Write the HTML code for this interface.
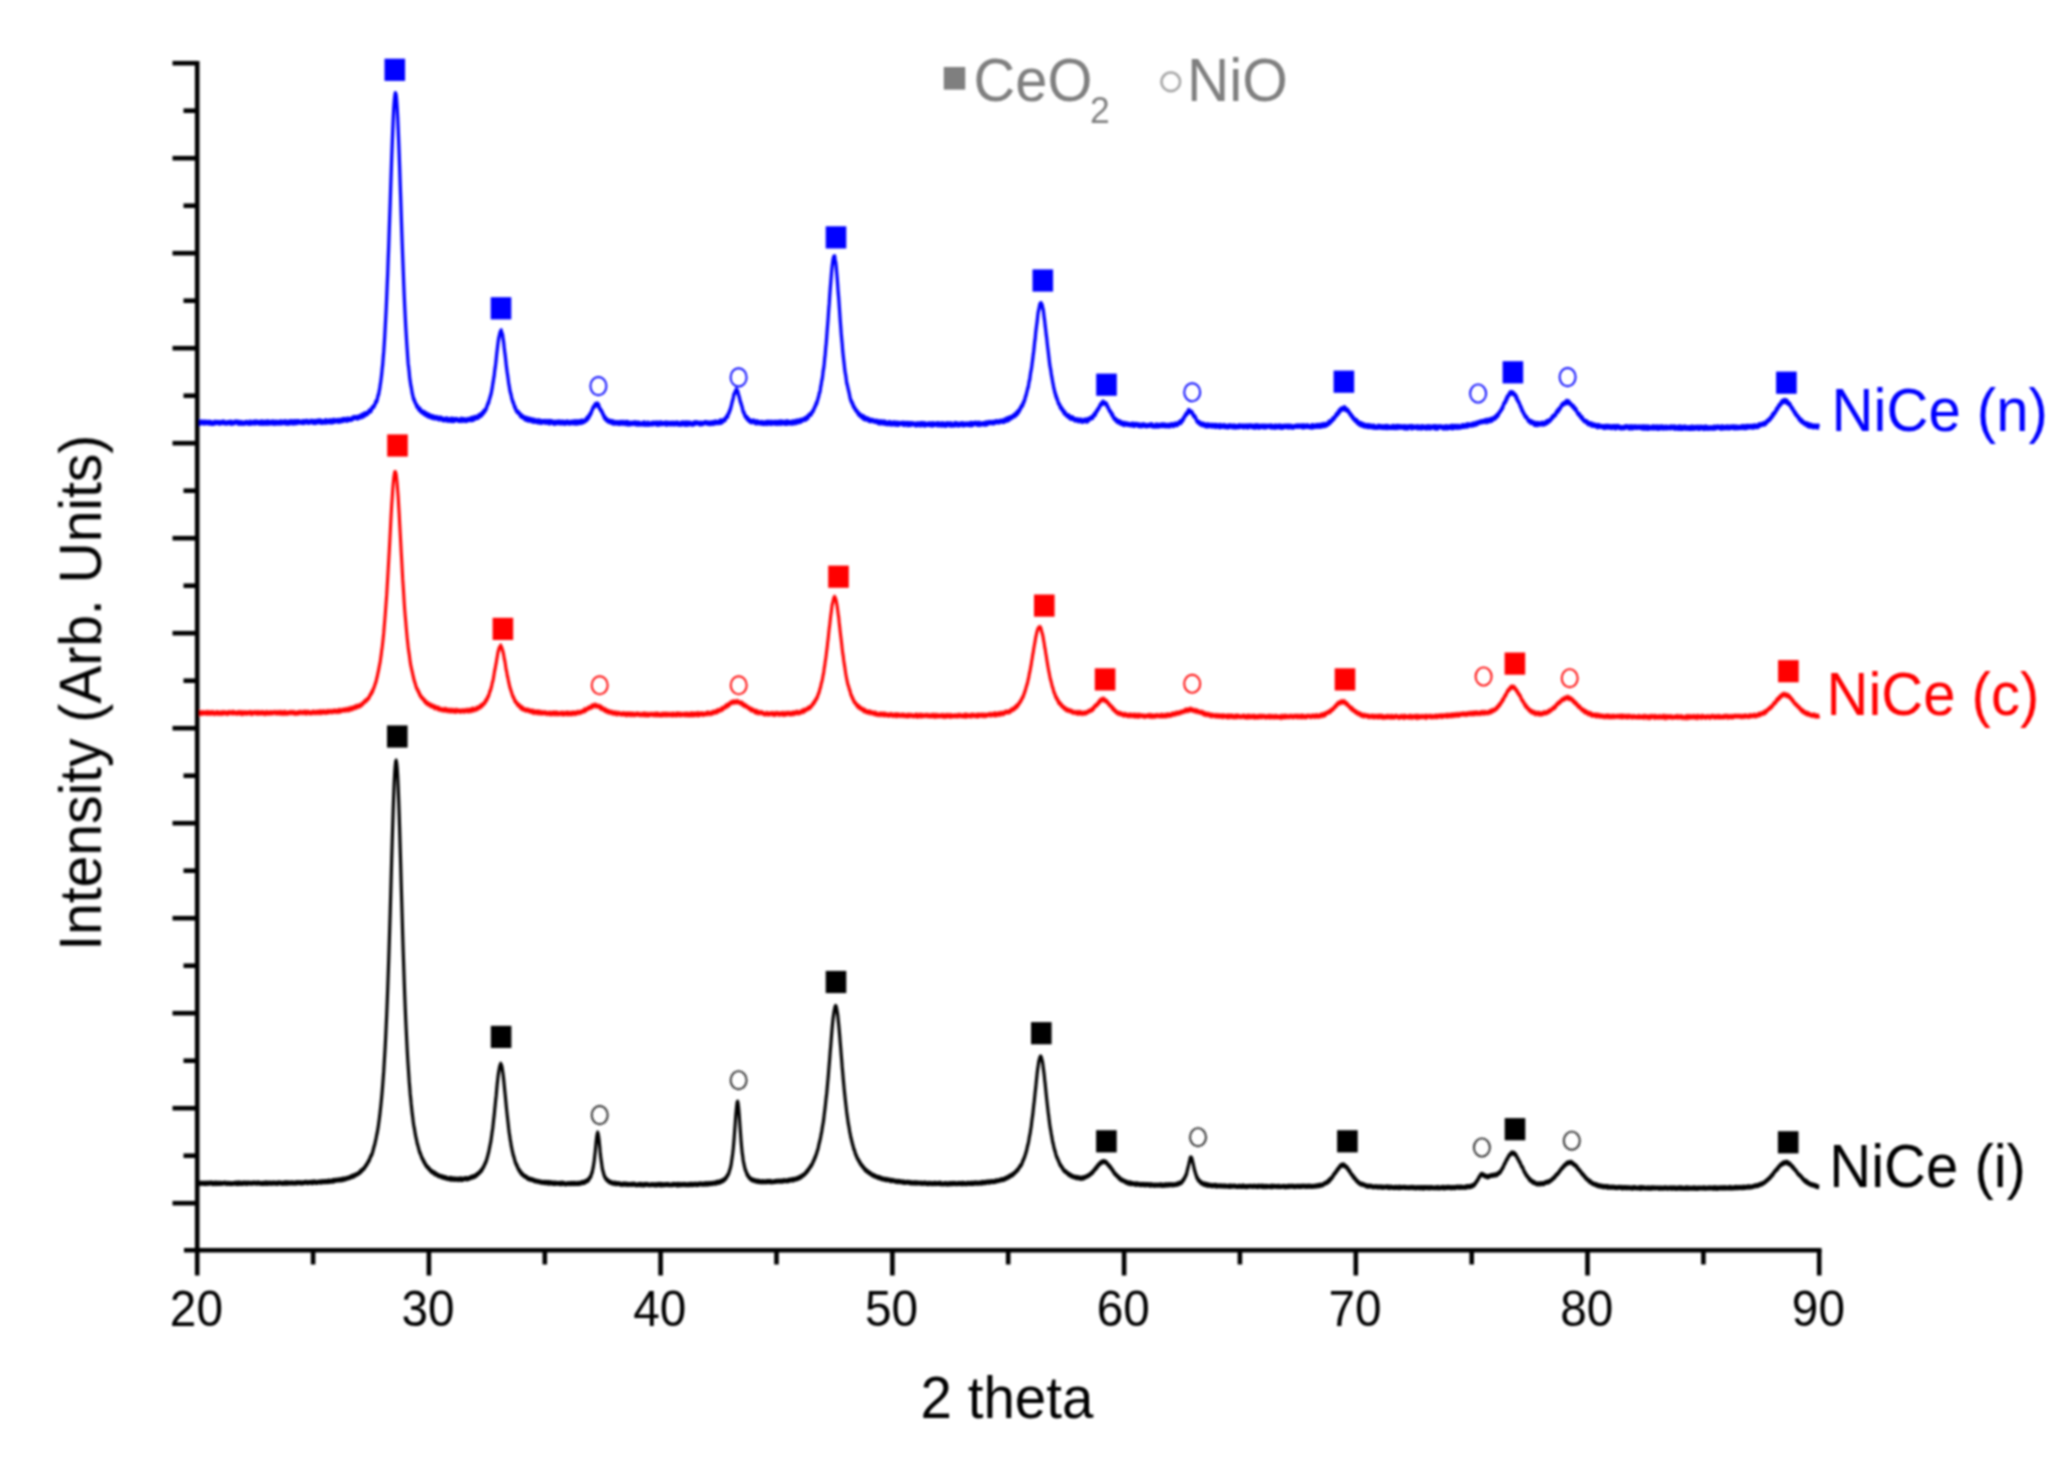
<!DOCTYPE html><html><head><meta charset="utf-8"><title>XRD</title><style>html,body{margin:0;padding:0;background:#fff}svg{display:block}text{font-family:"Liberation Sans",sans-serif}</style></head><body>
<svg width="2070" height="1473" viewBox="0 0 2070 1473">
<defs><filter id="b" filterUnits="userSpaceOnUse" x="0" y="0" width="2070" height="1473"><feGaussianBlur stdDeviation="1.0"/></filter></defs>
<rect width="2070" height="1473" fill="#fff"/>
<g filter="url(#b)">
<path transform="scale(1 1.50)" d="M197.2 281.90 L197.7 282.09 L198.2 281.59 L198.7 281.85 L199.2 282.31 L199.7 282.31 L200.2 281.39 L200.7 281.49 L201.2 281.30 L201.7 281.77 L202.2 281.27 L202.7 281.79 L203.2 282.02 L203.7 281.57 L204.2 282.05 L204.7 281.95 L205.2 281.27 L205.7 281.91 L206.2 281.55 L206.7 281.74 L207.2 281.58 L207.7 282.07 L208.2 281.77 L208.7 281.42 L209.2 281.89 L209.7 282.17 L210.2 281.60 L210.7 281.50 L211.2 281.70 L211.7 282.36 L212.2 282.41 L212.7 282.04 L213.2 282.32 L213.7 282.25 L214.2 281.69 L214.7 281.34 L215.2 282.02 L215.7 281.90 L216.2 281.67 L216.7 281.50 L217.2 281.72 L217.7 281.79 L218.2 281.55 L218.7 281.58 L219.2 281.78 L219.7 282.26 L220.2 281.93 L220.7 281.57 L221.2 281.56 L221.7 281.77 L222.2 281.47 L222.7 281.47 L223.2 281.84 L223.7 281.33 L224.2 281.81 L224.7 281.66 L225.2 282.07 L225.7 282.12 L226.2 282.05 L226.7 282.05 L227.2 281.67 L227.7 282.02 L228.2 281.63 L228.7 281.91 L229.2 281.61 L229.7 281.75 L230.2 281.29 L230.7 281.51 L231.2 282.38 L231.7 281.49 L232.2 282.05 L232.7 282.00 L233.2 282.08 L233.7 281.78 L234.2 281.93 L234.7 281.29 L235.2 281.30 L235.7 281.45 L236.2 281.39 L236.7 281.33 L237.2 281.36 L237.7 281.87 L238.2 281.43 L238.7 282.35 L239.2 282.02 L239.7 281.85 L240.2 282.05 L240.7 281.52 L241.2 282.31 L241.7 282.21 L242.2 282.07 L242.7 281.77 L243.2 282.21 L243.7 282.09 L244.2 281.99 L244.7 282.29 L245.2 281.95 L245.7 281.63 L246.2 281.85 L246.7 281.43 L247.2 281.42 L247.7 282.06 L248.2 282.13 L248.7 282.35 L249.2 282.21 L249.7 281.84 L250.2 281.29 L250.7 281.77 L251.2 282.29 L251.7 282.12 L252.2 281.76 L252.7 281.72 L253.2 281.44 L253.7 281.39 L254.2 281.26 L254.7 282.24 L255.2 281.94 L255.7 281.34 L256.2 281.66 L256.7 281.22 L257.2 281.41 L257.7 282.04 L258.2 281.94 L258.7 281.73 L259.2 281.49 L259.7 281.94 L260.2 282.30 L260.7 281.67 L261.2 281.23 L261.7 281.22 L262.2 281.24 L262.7 282.30 L263.2 281.79 L263.7 282.14 L264.2 281.34 L264.7 281.45 L265.2 281.96 L265.7 282.21 L266.2 281.54 L266.7 281.21 L267.2 282.16 L267.7 281.47 L268.2 282.01 L268.7 281.31 L269.2 281.95 L269.7 282.12 L270.2 281.99 L270.7 281.54 L271.2 281.98 L271.7 281.27 L272.2 281.48 L272.7 281.60 L273.2 282.15 L273.7 281.28 L274.2 282.15 L274.7 282.05 L275.2 282.25 L275.7 281.53 L276.2 281.33 L276.7 281.37 L277.2 282.07 L277.7 282.23 L278.2 281.91 L278.7 281.65 L279.2 281.41 L279.7 282.06 L280.2 282.11 L280.7 281.17 L281.2 281.31 L281.7 282.05 L282.2 282.06 L282.7 281.42 L283.2 281.37 L283.7 281.55 L284.2 281.68 L284.7 281.14 L285.2 282.03 L285.7 281.66 L286.2 281.95 L286.7 281.29 L287.2 282.17 L287.7 281.91 L288.2 281.41 L288.7 282.14 L289.2 281.83 L289.7 282.00 L290.2 281.04 L290.7 281.05 L291.2 281.87 L291.7 281.34 L292.2 281.59 L292.7 281.15 L293.2 282.13 L293.7 281.56 L294.2 281.94 L294.7 281.03 L295.2 281.51 L295.7 281.01 L296.2 281.99 L296.7 281.46 L297.2 281.00 L297.7 281.00 L298.2 281.55 L298.7 280.99 L299.2 281.11 L299.7 281.41 L300.2 281.48 L300.7 281.58 L301.2 281.61 L301.7 281.31 L302.2 281.60 L302.7 281.04 L303.2 281.17 L303.7 281.80 L304.2 281.01 L304.7 281.09 L305.2 281.11 L305.7 281.38 L306.2 280.80 L306.7 280.83 L307.2 281.34 L307.7 280.97 L308.2 281.59 L308.7 281.72 L309.2 281.45 L309.7 281.58 L310.2 281.21 L310.7 280.78 L311.2 281.25 L311.7 281.16 L312.2 281.42 L312.7 280.85 L313.2 280.96 L313.7 281.65 L314.2 280.98 L314.7 281.15 L315.2 281.77 L315.7 280.96 L316.2 280.80 L316.7 281.45 L317.2 281.28 L317.7 281.32 L318.2 280.63 L318.7 281.06 L319.2 280.56 L319.7 280.84 L320.2 281.37 L320.7 280.59 L321.2 280.85 L321.7 281.67 L322.2 281.64 L322.7 281.04 L323.2 281.33 L323.7 281.19 L324.2 280.97 L324.7 281.43 L325.2 280.59 L325.7 281.36 L326.2 280.40 L326.7 281.38 L327.2 281.13 L327.7 280.84 L328.2 281.09 L328.7 280.82 L329.2 281.18 L329.7 280.36 L330.2 280.82 L330.7 281.23 L331.2 281.28 L331.7 280.41 L332.2 280.43 L332.7 281.19 L333.2 280.49 L333.7 280.13 L334.2 280.89 L334.7 280.51 L335.2 280.87 L335.7 280.53 L336.2 280.53 L336.7 280.41 L337.2 280.23 L337.7 280.93 L338.2 280.62 L338.7 280.74 L339.2 280.84 L339.7 280.03 L340.2 280.80 L340.7 280.70 L341.2 280.24 L341.7 280.28 L342.2 279.70 L342.7 280.44 L343.2 279.69 L343.7 280.09 L344.2 279.56 L344.7 279.45 L345.2 280.05 L345.7 279.87 L346.2 280.04 L346.7 280.14 L347.2 280.32 L347.7 279.19 L348.2 279.80 L348.7 279.68 L349.2 279.71 L349.7 279.53 L350.2 279.49 L350.7 279.80 L351.2 279.24 L351.7 279.27 L352.2 279.40 L352.7 278.61 L353.2 278.95 L353.7 278.48 L354.2 278.45 L354.7 278.20 L355.2 278.37 L355.7 278.30 L356.2 278.57 L356.7 278.54 L357.2 278.75 L357.7 278.25 L358.2 278.64 L358.7 277.94 L359.2 278.25 L359.7 277.90 L360.2 277.87 L360.7 277.32 L361.2 277.99 L361.7 277.66 L362.2 276.77 L362.7 277.10 L363.2 277.49 L363.7 276.20 L364.2 276.34 L364.7 276.69 L365.2 275.67 L365.7 276.32 L366.2 275.92 L366.7 275.90 L367.2 275.46 L367.7 275.70 L368.2 274.74 L368.7 274.76 L369.2 273.86 L369.7 274.18 L370.2 273.71 L370.7 274.07 L371.2 273.68 L371.7 272.34 L372.2 271.83 L372.7 271.51 L373.2 271.14 L373.7 271.29 L374.2 270.54 L374.7 269.94 L375.2 269.22 L375.7 267.96 L376.2 267.64 L376.7 267.50 L377.2 266.32 L377.7 264.93 L378.2 263.26 L378.7 262.76 L379.2 260.62 L379.7 259.11 L380.2 256.64 L380.7 254.57 L381.2 252.09 L381.7 249.34 L382.2 245.75 L382.7 242.99 L383.2 238.48 L383.7 234.64 L384.2 229.85 L384.7 224.64 L385.2 218.36 L385.7 212.05 L386.2 205.78 L386.7 197.99 L387.2 189.85 L387.7 182.41 L388.2 172.54 L388.7 164.39 L389.2 154.13 L389.7 144.43 L390.2 135.18 L390.7 124.51 L391.2 114.93 L391.7 104.93 L392.2 96.34 L392.7 87.60 L393.2 79.71 L393.7 72.75 L394.2 67.95 L394.7 64.50 L395.2 62.33 L395.7 62.45 L396.2 63.64 L396.7 67.26 L397.2 72.14 L397.7 78.54 L398.2 86.03 L398.7 94.36 L399.2 103.05 L399.7 112.66 L400.2 123.03 L400.7 132.43 L401.2 142.87 L401.7 153.02 L402.2 162.54 L402.7 171.37 L403.2 179.95 L403.7 188.77 L404.2 196.80 L404.7 204.06 L405.2 210.77 L405.7 217.32 L406.2 222.77 L406.7 228.41 L407.2 233.15 L407.7 238.22 L408.2 242.58 L408.7 245.21 L409.2 248.28 L409.7 252.01 L410.2 254.10 L410.7 256.56 L411.2 258.04 L411.7 259.96 L412.2 262.17 L412.7 263.46 L413.2 265.01 L413.7 266.25 L414.2 266.52 L414.7 267.72 L415.2 268.30 L415.7 269.09 L416.2 269.61 L416.7 270.90 L417.2 271.02 L417.7 270.94 L418.2 272.07 L418.7 272.82 L419.2 273.13 L419.7 273.09 L420.2 272.79 L420.7 274.06 L421.2 274.52 L421.7 274.57 L422.2 274.47 L422.7 274.67 L423.2 275.35 L423.7 274.82 L424.2 275.85 L424.7 275.72 L425.2 275.40 L425.7 276.50 L426.2 276.16 L426.7 275.99 L427.2 276.23 L427.7 277.21 L428.2 276.54 L428.7 277.42 L429.2 277.58 L429.7 276.85 L430.2 277.40 L430.7 277.94 L431.2 277.70 L431.7 278.26 L432.2 277.78 L432.7 278.18 L433.2 277.78 L433.7 278.63 L434.2 278.72 L434.7 278.48 L435.2 278.27 L435.7 278.38 L436.2 278.75 L436.7 278.27 L437.2 278.80 L437.7 278.61 L438.2 278.73 L438.7 278.77 L439.2 279.45 L439.7 278.71 L440.2 278.84 L440.7 278.81 L441.2 278.68 L441.7 279.23 L442.2 279.78 L442.7 279.89 L443.2 279.44 L443.7 279.40 L444.2 279.98 L444.7 279.61 L445.2 279.67 L445.7 279.83 L446.2 279.18 L446.7 280.12 L447.2 279.27 L447.7 279.81 L448.2 280.31 L448.7 279.89 L449.2 279.66 L449.7 280.15 L450.2 280.38 L450.7 280.06 L451.2 279.41 L451.7 280.41 L452.2 279.40 L452.7 280.20 L453.2 280.48 L453.7 279.61 L454.2 280.06 L454.7 280.28 L455.2 279.66 L455.7 279.75 L456.2 279.54 L456.7 279.66 L457.2 279.61 L457.7 279.82 L458.2 280.37 L458.7 280.30 L459.2 280.38 L459.7 280.25 L460.2 280.41 L460.7 279.63 L461.2 280.11 L461.7 279.46 L462.2 280.01 L462.7 280.42 L463.2 279.95 L463.7 279.72 L464.2 279.68 L464.7 279.80 L465.2 280.40 L465.7 280.44 L466.2 280.14 L466.7 280.39 L467.2 280.09 L467.7 279.48 L468.2 279.62 L468.7 279.92 L469.2 279.85 L469.7 279.76 L470.2 279.48 L470.7 279.00 L471.2 279.92 L471.7 278.96 L472.2 279.80 L472.7 278.70 L473.2 279.64 L473.7 278.82 L474.2 279.24 L474.7 278.18 L475.2 278.59 L475.7 278.23 L476.2 278.64 L476.7 278.46 L477.2 278.07 L477.7 278.20 L478.2 278.36 L478.7 277.11 L479.2 277.48 L479.7 277.40 L480.2 277.12 L480.7 276.42 L481.2 276.89 L481.7 275.84 L482.2 276.25 L482.7 275.46 L483.2 274.70 L483.7 275.12 L484.2 273.79 L484.7 274.18 L485.2 273.44 L485.7 273.22 L486.2 272.52 L486.7 271.38 L487.2 270.34 L487.7 269.71 L488.2 268.53 L488.7 268.38 L489.2 266.67 L489.7 265.66 L490.2 264.51 L490.7 263.36 L491.2 262.22 L491.7 260.33 L492.2 258.66 L492.7 256.28 L493.2 254.52 L493.7 252.16 L494.2 250.43 L494.7 247.05 L495.2 245.11 L495.7 242.44 L496.2 239.35 L496.7 235.90 L497.2 233.27 L497.7 230.46 L498.2 227.87 L498.7 225.50 L499.2 224.33 L499.7 222.53 L500.2 221.57 L500.7 220.83 L501.2 220.46 L501.7 221.82 L502.2 222.47 L502.7 223.80 L503.2 226.55 L503.7 228.43 L504.2 231.78 L504.7 234.50 L505.2 236.86 L505.7 239.97 L506.2 243.13 L506.7 245.84 L507.2 248.31 L507.7 250.43 L508.2 252.91 L508.7 255.54 L509.2 257.28 L509.7 259.47 L510.2 261.15 L510.7 262.34 L511.2 263.48 L511.7 265.51 L512.2 266.34 L512.7 267.71 L513.2 268.20 L513.7 269.16 L514.2 270.35 L514.7 271.43 L515.2 271.48 L515.7 272.93 L516.2 273.63 L516.7 273.98 L517.2 274.58 L517.7 274.44 L518.2 274.71 L518.7 275.39 L519.2 275.52 L519.7 276.22 L520.2 276.95 L520.7 276.67 L521.2 277.64 L521.7 277.41 L522.2 277.31 L522.7 278.11 L523.2 278.07 L523.7 278.14 L524.2 278.54 L524.7 279.28 L525.2 279.16 L525.7 278.76 L526.2 279.66 L526.7 278.90 L527.2 279.29 L527.7 279.37 L528.2 280.21 L528.7 279.14 L529.2 280.01 L529.7 279.94 L530.2 279.61 L530.7 280.27 L531.2 280.55 L531.7 280.58 L532.2 279.82 L532.7 280.75 L533.2 280.27 L533.7 280.94 L534.2 280.65 L534.7 280.13 L535.2 280.98 L535.7 280.81 L536.2 280.73 L536.7 281.00 L537.2 280.81 L537.7 280.36 L538.2 281.45 L538.7 280.74 L539.2 280.77 L539.7 280.53 L540.2 281.36 L540.7 281.62 L541.2 281.12 L541.7 281.57 L542.2 281.01 L542.7 281.11 L543.2 281.02 L543.7 281.05 L544.2 281.39 L544.7 281.13 L545.2 280.84 L545.7 281.62 L546.2 281.18 L546.7 281.30 L547.2 281.07 L547.7 280.92 L548.2 281.67 L548.7 281.40 L549.2 282.03 L549.7 280.95 L550.2 281.93 L550.7 280.98 L551.2 281.18 L551.7 281.00 L552.2 281.61 L552.7 281.43 L553.2 281.40 L553.7 282.20 L554.2 281.73 L554.7 282.16 L555.2 282.12 L555.7 281.47 L556.2 281.86 L556.7 281.32 L557.2 281.53 L557.7 281.92 L558.2 281.79 L558.7 281.21 L559.2 281.21 L559.7 282.05 L560.2 281.97 L560.7 281.91 L561.2 281.40 L561.7 282.08 L562.2 281.83 L562.7 281.32 L563.2 281.35 L563.7 281.89 L564.2 282.33 L564.7 281.86 L565.2 281.51 L565.7 282.01 L566.2 281.40 L566.7 281.92 L567.2 281.65 L567.7 281.19 L568.2 281.77 L568.7 281.75 L569.2 282.23 L569.7 281.99 L570.2 281.49 L570.7 281.90 L571.2 281.42 L571.7 281.89 L572.2 281.82 L572.7 281.83 L573.2 281.28 L573.7 281.92 L574.2 281.70 L574.7 281.94 L575.2 281.08 L575.7 281.89 L576.2 282.13 L576.7 281.68 L577.2 281.12 L577.7 282.03 L578.2 281.57 L578.7 281.20 L579.2 281.58 L579.7 281.82 L580.2 280.88 L580.7 281.37 L581.2 281.39 L581.7 281.68 L582.2 280.53 L582.7 281.00 L583.2 281.17 L583.7 280.95 L584.2 281.05 L584.7 280.64 L585.2 280.41 L585.7 280.16 L586.2 279.37 L586.7 279.91 L587.2 279.17 L587.7 278.20 L588.2 278.75 L588.7 278.13 L589.2 277.59 L589.7 276.31 L590.2 276.51 L590.7 275.44 L591.2 275.35 L591.7 273.87 L592.2 273.38 L592.7 272.39 L593.2 271.60 L593.7 271.30 L594.2 271.13 L594.7 270.25 L595.2 269.66 L595.7 270.09 L596.2 269.65 L596.7 269.90 L597.2 269.21 L597.7 269.33 L598.2 270.64 L598.7 270.07 L599.2 271.50 L599.7 272.34 L600.2 272.75 L600.7 273.28 L601.2 273.75 L601.7 274.36 L602.2 274.77 L602.7 275.80 L603.2 276.57 L603.7 276.84 L604.2 278.24 L604.7 278.77 L605.2 278.37 L605.7 279.14 L606.2 279.84 L606.7 279.80 L607.2 279.81 L607.7 280.65 L608.2 280.49 L608.7 280.78 L609.2 281.11 L609.7 280.69 L610.2 281.29 L610.7 280.90 L611.2 281.45 L611.7 281.06 L612.2 281.78 L612.7 281.30 L613.2 282.09 L613.7 281.20 L614.2 281.89 L614.7 282.10 L615.2 282.15 L615.7 281.76 L616.2 281.83 L616.7 281.55 L617.2 282.25 L617.7 282.16 L618.2 281.88 L618.7 281.89 L619.2 282.41 L619.7 282.00 L620.2 281.46 L620.7 281.49 L621.2 282.30 L621.7 282.02 L622.2 282.07 L622.7 281.94 L623.2 281.46 L623.7 282.41 L624.2 281.91 L624.7 282.02 L625.2 282.01 L625.7 281.65 L626.2 282.65 L626.7 282.66 L627.2 281.53 L627.7 281.59 L628.2 282.00 L628.7 282.72 L629.2 282.13 L629.7 282.66 L630.2 281.97 L630.7 282.16 L631.2 282.57 L631.7 282.37 L632.2 281.95 L632.7 282.14 L633.2 282.35 L633.7 282.08 L634.2 281.85 L634.7 281.88 L635.2 282.51 L635.7 281.88 L636.2 281.85 L636.7 281.98 L637.2 282.82 L637.7 282.83 L638.2 282.22 L638.7 281.91 L639.2 282.18 L639.7 282.71 L640.2 282.35 L640.7 282.74 L641.2 282.72 L641.7 282.65 L642.2 282.73 L642.7 282.29 L643.2 281.88 L643.7 282.62 L644.2 282.87 L644.7 282.48 L645.2 281.98 L645.7 282.80 L646.2 282.80 L646.7 282.80 L647.2 282.49 L647.7 282.83 L648.2 281.98 L648.7 282.39 L649.2 282.90 L649.7 282.90 L650.2 282.67 L650.7 282.42 L651.2 282.47 L651.7 282.19 L652.2 281.98 L652.7 282.79 L653.2 282.42 L653.7 282.15 L654.2 282.11 L654.7 281.93 L655.2 281.95 L655.7 282.53 L656.2 282.07 L656.7 282.11 L657.2 282.74 L657.7 281.84 L658.2 282.87 L658.7 282.23 L659.2 282.73 L659.7 282.72 L660.2 282.55 L660.7 281.80 L661.2 282.52 L661.7 282.27 L662.2 282.11 L662.7 282.36 L663.2 282.54 L663.7 282.21 L664.2 282.23 L664.7 282.00 L665.2 281.94 L665.7 282.49 L666.2 282.91 L666.7 281.86 L667.2 282.53 L667.7 282.46 L668.2 282.64 L668.7 282.12 L669.2 282.06 L669.7 282.09 L670.2 282.75 L670.7 282.76 L671.2 282.72 L671.7 282.07 L672.2 282.19 L672.7 282.09 L673.2 282.56 L673.7 282.02 L674.2 282.63 L674.7 282.69 L675.2 282.38 L675.7 281.94 L676.2 282.05 L676.7 282.41 L677.2 282.62 L677.7 281.97 L678.2 282.51 L678.7 282.82 L679.2 282.61 L679.7 282.79 L680.2 282.88 L680.7 282.05 L681.2 281.97 L681.7 282.80 L682.2 282.19 L682.7 281.85 L683.2 282.47 L683.7 282.29 L684.2 281.95 L684.7 282.82 L685.2 282.29 L685.7 282.90 L686.2 282.05 L686.7 281.78 L687.2 282.80 L687.7 282.06 L688.2 282.81 L688.7 282.28 L689.2 282.53 L689.7 281.84 L690.2 282.01 L690.7 282.51 L691.2 282.83 L691.7 282.67 L692.2 282.77 L692.7 282.61 L693.2 282.84 L693.7 281.96 L694.2 281.82 L694.7 281.95 L695.2 282.36 L695.7 282.10 L696.2 281.69 L696.7 281.80 L697.2 281.98 L697.7 282.04 L698.2 282.01 L698.7 282.30 L699.2 282.40 L699.7 282.62 L700.2 282.06 L700.7 282.72 L701.2 282.04 L701.7 282.09 L702.2 282.07 L702.7 282.48 L703.2 282.44 L703.7 282.05 L704.2 281.94 L704.7 281.62 L705.2 281.81 L705.7 281.59 L706.2 281.88 L706.7 281.70 L707.2 282.23 L707.7 282.34 L708.2 282.01 L708.7 281.99 L709.2 281.81 L709.7 282.52 L710.2 282.55 L710.7 282.10 L711.2 282.33 L711.7 281.74 L712.2 281.97 L712.7 281.68 L713.2 282.35 L713.7 281.91 L714.2 282.22 L714.7 281.86 L715.2 281.18 L715.7 281.41 L716.2 281.71 L716.7 282.05 L717.2 281.69 L717.7 281.28 L718.2 281.59 L718.7 281.50 L719.2 281.84 L719.7 281.33 L720.2 280.53 L720.7 281.61 L721.2 280.50 L721.7 280.65 L722.2 281.24 L722.7 280.75 L723.2 280.59 L723.7 280.10 L724.2 279.84 L724.7 279.47 L725.2 279.73 L725.7 278.91 L726.2 278.22 L726.7 277.87 L727.2 277.28 L727.7 277.59 L728.2 276.16 L728.7 275.36 L729.2 275.03 L729.7 273.68 L730.2 273.26 L730.7 272.02 L731.2 270.72 L731.7 269.34 L732.2 267.92 L732.7 266.66 L733.2 265.66 L733.7 263.59 L734.2 262.61 L734.7 262.12 L735.2 261.29 L735.7 260.54 L736.2 259.87 L736.7 259.86 L737.2 260.58 L737.7 260.90 L738.2 262.35 L738.7 263.47 L739.2 264.62 L739.7 265.81 L740.2 267.45 L740.7 268.37 L741.2 269.33 L741.7 270.51 L742.2 271.51 L742.7 273.22 L743.2 274.39 L743.7 275.11 L744.2 275.36 L744.7 276.78 L745.2 277.47 L745.7 277.60 L746.2 278.32 L746.7 278.19 L747.2 279.20 L747.7 278.83 L748.2 279.51 L748.7 280.31 L749.2 280.30 L749.7 280.18 L750.2 280.99 L750.7 280.78 L751.2 281.27 L751.7 280.84 L752.2 281.14 L752.7 281.21 L753.2 280.57 L753.7 280.74 L754.2 280.79 L754.7 280.94 L755.2 281.93 L755.7 281.60 L756.2 281.70 L756.7 281.98 L757.2 281.13 L757.7 281.84 L758.2 281.60 L758.7 281.45 L759.2 281.92 L759.7 282.01 L760.2 281.79 L760.7 281.91 L761.2 282.13 L761.7 281.56 L762.2 282.15 L762.7 281.73 L763.2 282.27 L763.7 282.04 L764.2 281.93 L764.7 282.38 L765.2 281.82 L765.7 281.48 L766.2 281.86 L766.7 281.68 L767.2 282.40 L767.7 281.46 L768.2 281.99 L768.7 281.92 L769.2 281.40 L769.7 282.09 L770.2 281.95 L770.7 281.78 L771.2 282.40 L771.7 281.39 L772.2 282.02 L772.7 281.61 L773.2 281.85 L773.7 281.70 L774.2 282.08 L774.7 282.32 L775.2 281.34 L775.7 281.82 L776.2 282.13 L776.7 281.59 L777.2 281.64 L777.7 282.37 L778.2 281.37 L778.7 281.93 L779.2 282.07 L779.7 282.02 L780.2 281.30 L780.7 282.37 L781.2 281.24 L781.7 281.25 L782.2 281.87 L782.7 281.29 L783.2 281.58 L783.7 282.14 L784.2 281.86 L784.7 281.87 L785.2 282.27 L785.7 281.29 L786.2 282.34 L786.7 281.92 L787.2 281.97 L787.7 281.15 L788.2 282.17 L788.7 281.58 L789.2 281.58 L789.7 281.85 L790.2 281.55 L790.7 282.18 L791.2 282.13 L791.7 281.46 L792.2 281.26 L792.7 281.45 L793.2 282.13 L793.7 281.27 L794.2 281.47 L794.7 281.07 L795.2 281.37 L795.7 281.89 L796.2 281.18 L796.7 280.66 L797.2 281.33 L797.7 281.47 L798.2 280.87 L798.7 280.50 L799.2 280.73 L799.7 281.16 L800.2 280.68 L800.7 280.04 L801.2 280.74 L801.7 280.10 L802.2 280.31 L802.7 280.02 L803.2 279.60 L803.7 279.68 L804.2 279.35 L804.7 279.50 L805.2 278.83 L805.7 279.64 L806.2 279.21 L806.7 278.85 L807.2 278.02 L807.7 278.59 L808.2 278.33 L808.7 276.99 L809.2 276.82 L809.7 276.32 L810.2 276.14 L810.7 276.34 L811.2 276.14 L811.7 275.14 L812.2 274.52 L812.7 274.39 L813.2 273.97 L813.7 272.96 L814.2 272.30 L814.7 271.52 L815.2 270.83 L815.7 270.05 L816.2 268.82 L816.7 268.90 L817.2 267.44 L817.7 266.60 L818.2 265.19 L818.7 264.37 L819.2 262.40 L819.7 261.74 L820.2 260.35 L820.7 257.72 L821.2 256.31 L821.7 253.91 L822.2 252.72 L822.7 250.17 L823.2 247.15 L823.7 245.58 L824.2 242.78 L824.7 238.97 L825.2 236.26 L825.7 231.96 L826.2 228.93 L826.7 224.57 L827.2 220.04 L827.7 216.00 L828.2 211.72 L828.7 206.43 L829.2 202.67 L829.7 197.34 L830.2 192.76 L830.7 188.78 L831.2 184.51 L831.7 180.43 L832.2 177.13 L832.7 174.60 L833.2 172.43 L833.7 171.28 L834.2 171.33 L834.7 171.03 L835.2 173.49 L835.7 174.84 L836.2 177.73 L836.7 181.71 L837.2 185.62 L837.7 189.95 L838.2 194.93 L838.7 198.61 L839.2 203.55 L839.7 208.33 L840.2 213.38 L840.7 217.62 L841.2 222.25 L841.7 226.05 L842.2 229.42 L842.7 233.95 L843.2 236.99 L843.7 240.00 L844.2 242.80 L844.7 246.22 L845.2 248.44 L845.7 250.14 L846.2 252.64 L846.7 255.34 L847.2 256.29 L847.7 257.83 L848.2 259.33 L848.7 260.77 L849.2 262.08 L849.7 263.83 L850.2 265.50 L850.7 266.61 L851.2 267.54 L851.7 267.82 L852.2 269.03 L852.7 269.07 L853.2 270.65 L853.7 270.74 L854.2 271.83 L854.7 271.98 L855.2 272.77 L855.7 273.25 L856.2 273.92 L856.7 274.03 L857.2 274.28 L857.7 275.13 L858.2 275.75 L858.7 275.64 L859.2 276.66 L859.7 276.35 L860.2 276.58 L860.7 276.85 L861.2 277.80 L861.7 277.24 L862.2 277.87 L862.7 277.97 L863.2 278.72 L863.7 277.80 L864.2 279.10 L864.7 278.53 L865.2 279.24 L865.7 278.67 L866.2 279.44 L866.7 279.12 L867.2 279.09 L867.7 279.20 L868.2 279.32 L868.7 280.33 L869.2 279.90 L869.7 279.83 L870.2 280.53 L870.7 280.30 L871.2 280.56 L871.7 280.18 L872.2 280.16 L872.7 280.18 L873.2 280.49 L873.7 280.65 L874.2 281.00 L874.7 280.77 L875.2 280.83 L875.7 280.67 L876.2 280.97 L876.7 281.22 L877.2 280.77 L877.7 281.57 L878.2 281.82 L878.7 281.45 L879.2 281.19 L879.7 282.03 L880.2 281.06 L880.7 281.18 L881.2 281.92 L881.7 282.01 L882.2 281.52 L882.7 281.23 L883.2 281.92 L883.7 281.60 L884.2 282.24 L884.7 281.33 L885.2 281.92 L885.7 281.52 L886.2 282.48 L886.7 282.54 L887.2 282.10 L887.7 282.26 L888.2 282.51 L888.7 282.56 L889.2 281.64 L889.7 281.93 L890.2 282.50 L890.7 281.90 L891.2 282.10 L891.7 282.80 L892.2 282.21 L892.7 282.35 L893.2 281.95 L893.7 281.87 L894.2 282.80 L894.7 282.65 L895.2 281.91 L895.7 282.88 L896.2 282.86 L896.7 282.19 L897.2 282.87 L897.7 281.99 L898.2 282.14 L898.7 282.91 L899.2 282.50 L899.7 282.38 L900.2 282.26 L900.7 282.17 L901.2 282.13 L901.7 282.47 L902.2 282.55 L902.7 282.06 L903.2 282.85 L903.7 282.09 L904.2 282.16 L904.7 283.07 L905.2 282.46 L905.7 282.18 L906.2 282.50 L906.7 282.24 L907.2 282.19 L907.7 283.24 L908.2 282.17 L908.7 282.97 L909.2 282.62 L909.7 282.37 L910.2 283.15 L910.7 282.73 L911.2 282.17 L911.7 282.58 L912.2 282.86 L912.7 282.64 L913.2 282.50 L913.7 282.54 L914.2 282.52 L914.7 282.73 L915.2 283.36 L915.7 283.28 L916.2 282.82 L916.7 283.25 L917.2 282.38 L917.7 282.95 L918.2 283.18 L918.7 282.52 L919.2 282.88 L919.7 282.83 L920.2 282.35 L920.7 283.39 L921.2 282.67 L921.7 282.91 L922.2 282.26 L922.7 282.86 L923.2 282.78 L923.7 283.30 L924.2 282.33 L924.7 283.31 L925.2 282.49 L925.7 283.27 L926.2 283.18 L926.7 282.99 L927.2 282.70 L927.7 282.82 L928.2 283.08 L928.7 282.73 L929.2 282.36 L929.7 283.13 L930.2 283.14 L930.7 282.63 L931.2 282.55 L931.7 283.37 L932.2 282.72 L932.7 282.38 L933.2 283.34 L933.7 282.58 L934.2 282.77 L934.7 282.98 L935.2 282.87 L935.7 282.57 L936.2 282.59 L936.7 282.91 L937.2 282.46 L937.7 283.39 L938.2 282.63 L938.7 282.49 L939.2 282.53 L939.7 282.55 L940.2 283.41 L940.7 282.83 L941.2 283.22 L941.7 283.31 L942.2 282.42 L942.7 283.06 L943.2 283.30 L943.7 282.59 L944.2 283.43 L944.7 282.96 L945.2 282.93 L945.7 283.51 L946.2 282.53 L946.7 283.43 L947.2 282.61 L947.7 282.98 L948.2 282.40 L948.7 282.74 L949.2 282.60 L949.7 283.24 L950.2 283.49 L950.7 282.48 L951.2 282.37 L951.7 283.09 L952.2 283.47 L952.7 283.45 L953.2 283.33 L953.7 283.16 L954.2 282.98 L954.7 282.30 L955.2 283.40 L955.7 282.96 L956.2 282.84 L956.7 282.30 L957.2 282.48 L957.7 282.68 L958.2 283.42 L958.7 283.03 L959.2 283.10 L959.7 282.71 L960.2 283.13 L960.7 282.49 L961.2 282.58 L961.7 282.88 L962.2 282.44 L962.7 283.28 L963.2 282.52 L963.7 282.79 L964.2 283.33 L964.7 282.64 L965.2 282.89 L965.7 283.01 L966.2 282.70 L966.7 282.49 L967.2 282.79 L967.7 283.12 L968.2 282.65 L968.7 282.97 L969.2 282.44 L969.7 282.60 L970.2 283.25 L970.7 282.19 L971.2 283.20 L971.7 282.16 L972.2 283.06 L972.7 282.53 L973.2 282.91 L973.7 282.33 L974.2 282.26 L974.7 282.14 L975.2 282.03 L975.7 282.46 L976.2 282.04 L976.7 282.32 L977.2 283.02 L977.7 282.79 L978.2 282.44 L978.7 281.95 L979.2 281.97 L979.7 283.09 L980.2 282.41 L980.7 282.57 L981.2 282.73 L981.7 282.56 L982.2 282.71 L982.7 282.46 L983.2 282.36 L983.7 282.29 L984.2 282.79 L984.7 282.89 L985.2 282.14 L985.7 281.91 L986.2 282.75 L986.7 281.95 L987.2 282.45 L987.7 281.84 L988.2 282.24 L988.7 281.88 L989.2 281.52 L989.7 281.47 L990.2 281.77 L990.7 281.93 L991.2 281.87 L991.7 281.83 L992.2 281.87 L992.7 281.39 L993.2 281.97 L993.7 282.07 L994.2 281.64 L994.7 281.62 L995.2 281.17 L995.7 281.01 L996.2 281.22 L996.7 281.39 L997.2 280.95 L997.7 281.19 L998.2 281.27 L998.7 281.29 L999.2 281.46 L999.7 281.15 L1000.2 280.66 L1000.7 280.75 L1001.2 280.83 L1001.7 280.88 L1002.2 280.66 L1002.7 280.54 L1003.2 281.07 L1003.7 280.69 L1004.2 280.91 L1004.7 279.90 L1005.2 280.40 L1005.7 280.06 L1006.2 279.76 L1006.7 279.32 L1007.2 280.20 L1007.7 279.01 L1008.2 279.85 L1008.7 279.16 L1009.2 279.59 L1009.7 278.45 L1010.2 278.30 L1010.7 278.55 L1011.2 278.63 L1011.7 278.48 L1012.2 277.84 L1012.7 278.05 L1013.2 277.54 L1013.7 277.02 L1014.2 276.72 L1014.7 276.59 L1015.2 277.09 L1015.7 276.06 L1016.2 276.07 L1016.7 275.24 L1017.2 275.90 L1017.7 275.42 L1018.2 274.15 L1018.7 273.79 L1019.2 274.13 L1019.7 272.95 L1020.2 272.21 L1020.7 272.27 L1021.2 271.15 L1021.7 270.45 L1022.2 270.46 L1022.7 270.17 L1023.2 268.48 L1023.7 268.48 L1024.2 267.35 L1024.7 266.72 L1025.2 265.10 L1025.7 264.07 L1026.2 263.21 L1026.7 261.59 L1027.2 260.40 L1027.7 258.81 L1028.2 258.20 L1028.7 256.17 L1029.2 254.09 L1029.7 253.21 L1030.2 250.46 L1030.7 248.21 L1031.2 246.58 L1031.7 244.48 L1032.2 241.93 L1032.7 239.53 L1033.2 236.57 L1033.7 234.30 L1034.2 231.17 L1034.7 227.75 L1035.2 225.60 L1035.7 221.64 L1036.2 219.02 L1036.7 216.43 L1037.2 214.09 L1037.7 210.76 L1038.2 208.22 L1038.7 206.71 L1039.2 205.19 L1039.7 203.25 L1040.2 202.61 L1040.7 202.43 L1041.2 202.30 L1041.7 203.20 L1042.2 203.34 L1042.7 205.53 L1043.2 206.40 L1043.7 208.83 L1044.2 211.88 L1044.7 214.10 L1045.2 217.38 L1045.7 219.92 L1046.2 223.09 L1046.7 225.41 L1047.2 228.69 L1047.7 231.59 L1048.2 234.21 L1048.7 237.16 L1049.2 240.03 L1049.7 242.88 L1050.2 244.81 L1050.7 246.55 L1051.2 249.04 L1051.7 250.96 L1052.2 252.80 L1052.7 254.79 L1053.2 256.31 L1053.7 258.43 L1054.2 259.47 L1054.7 261.35 L1055.2 261.93 L1055.7 263.93 L1056.2 264.01 L1056.7 265.64 L1057.2 266.01 L1057.7 267.03 L1058.2 268.57 L1058.7 269.05 L1059.2 269.57 L1059.7 269.89 L1060.2 271.51 L1060.7 271.85 L1061.2 271.68 L1061.7 272.60 L1062.2 273.27 L1062.7 273.18 L1063.2 273.68 L1063.7 274.76 L1064.2 275.45 L1064.7 275.15 L1065.2 275.14 L1065.7 275.99 L1066.2 276.65 L1066.7 276.94 L1067.2 277.24 L1067.7 277.47 L1068.2 277.64 L1068.7 277.10 L1069.2 278.04 L1069.7 278.57 L1070.2 278.22 L1070.7 278.13 L1071.2 279.02 L1071.7 279.06 L1072.2 278.96 L1072.7 278.46 L1073.2 279.08 L1073.7 279.19 L1074.2 279.72 L1074.7 280.09 L1075.2 279.65 L1075.7 279.69 L1076.2 279.96 L1076.7 280.04 L1077.2 280.23 L1077.7 279.77 L1078.2 280.09 L1078.7 280.63 L1079.2 280.39 L1079.7 280.26 L1080.2 280.00 L1080.7 280.08 L1081.2 279.98 L1081.7 281.02 L1082.2 280.63 L1082.7 280.83 L1083.2 280.81 L1083.7 280.71 L1084.2 280.11 L1084.7 280.49 L1085.2 280.30 L1085.7 279.90 L1086.2 280.45 L1086.7 280.89 L1087.2 280.85 L1087.7 279.74 L1088.2 280.42 L1088.7 279.38 L1089.2 279.36 L1089.7 279.19 L1090.2 279.15 L1090.7 278.61 L1091.2 278.58 L1091.7 278.14 L1092.2 278.58 L1092.7 278.44 L1093.2 277.67 L1093.7 276.72 L1094.2 276.49 L1094.7 275.87 L1095.2 276.45 L1095.7 275.36 L1096.2 274.44 L1096.7 274.37 L1097.2 273.43 L1097.7 273.29 L1098.2 272.52 L1098.7 272.13 L1099.2 271.79 L1099.7 270.87 L1100.2 269.94 L1100.7 269.81 L1101.2 269.52 L1101.7 268.71 L1102.2 269.19 L1102.7 268.77 L1103.2 267.98 L1103.7 268.73 L1104.2 268.77 L1104.7 268.73 L1105.2 268.90 L1105.7 269.21 L1106.2 269.13 L1106.7 269.54 L1107.2 270.97 L1107.7 271.06 L1108.2 271.84 L1108.7 272.53 L1109.2 273.44 L1109.7 273.81 L1110.2 274.15 L1110.7 274.85 L1111.2 275.09 L1111.7 276.42 L1112.2 276.65 L1112.7 276.53 L1113.2 277.85 L1113.7 278.61 L1114.2 278.97 L1114.7 279.08 L1115.2 279.41 L1115.7 280.19 L1116.2 280.29 L1116.7 280.06 L1117.2 280.95 L1117.7 281.29 L1118.2 280.92 L1118.7 281.05 L1119.2 281.43 L1119.7 281.14 L1120.2 282.10 L1120.7 281.50 L1121.2 282.26 L1121.7 281.91 L1122.2 281.91 L1122.7 282.68 L1123.2 282.94 L1123.7 282.26 L1124.2 283.02 L1124.7 282.20 L1125.2 282.51 L1125.7 282.51 L1126.2 282.87 L1126.7 282.60 L1127.2 282.52 L1127.7 283.03 L1128.2 282.86 L1128.7 283.17 L1129.2 283.01 L1129.7 282.88 L1130.2 283.02 L1130.7 283.44 L1131.2 283.34 L1131.7 282.90 L1132.2 283.10 L1132.7 282.58 L1133.2 283.63 L1133.7 283.75 L1134.2 283.51 L1134.7 283.69 L1135.2 282.85 L1135.7 283.09 L1136.2 282.85 L1136.7 282.76 L1137.2 283.17 L1137.7 283.38 L1138.2 283.71 L1138.7 283.80 L1139.2 283.06 L1139.7 283.83 L1140.2 283.88 L1140.7 283.55 L1141.2 283.76 L1141.7 283.98 L1142.2 283.47 L1142.7 283.00 L1143.2 283.09 L1143.7 283.59 L1144.2 283.70 L1144.7 283.36 L1145.2 283.27 L1145.7 283.84 L1146.2 283.77 L1146.7 283.97 L1147.2 283.70 L1147.7 283.75 L1148.2 283.53 L1148.7 283.42 L1149.2 283.71 L1149.7 283.69 L1150.2 283.24 L1150.7 283.41 L1151.2 283.09 L1151.7 283.79 L1152.2 283.17 L1152.7 283.60 L1153.2 284.18 L1153.7 284.09 L1154.2 283.90 L1154.7 284.00 L1155.2 283.85 L1155.7 284.18 L1156.2 283.24 L1156.7 283.79 L1157.2 283.51 L1157.7 283.47 L1158.2 284.18 L1158.7 284.02 L1159.2 283.39 L1159.7 283.70 L1160.2 283.86 L1160.7 283.72 L1161.2 283.48 L1161.7 283.11 L1162.2 283.88 L1162.7 283.90 L1163.2 283.47 L1163.7 283.09 L1164.2 283.08 L1164.7 283.86 L1165.2 283.87 L1165.7 284.06 L1166.2 283.44 L1166.7 283.69 L1167.2 283.77 L1167.7 283.85 L1168.2 284.10 L1168.7 283.38 L1169.2 283.66 L1169.7 283.95 L1170.2 283.94 L1170.7 283.11 L1171.2 283.14 L1171.7 283.27 L1172.2 283.12 L1172.7 283.05 L1173.2 283.83 L1173.7 283.42 L1174.2 283.59 L1174.7 283.26 L1175.2 282.60 L1175.7 283.00 L1176.2 282.64 L1176.7 282.61 L1177.2 283.12 L1177.7 282.56 L1178.2 282.60 L1178.7 282.00 L1179.2 281.51 L1179.7 281.55 L1180.2 281.14 L1180.7 281.84 L1181.2 281.49 L1181.7 280.63 L1182.2 280.66 L1182.7 279.55 L1183.2 279.75 L1183.7 278.54 L1184.2 278.37 L1184.7 277.56 L1185.2 276.96 L1185.7 276.78 L1186.2 275.82 L1186.7 275.81 L1187.2 275.68 L1187.7 275.14 L1188.2 273.87 L1188.7 273.47 L1189.2 273.92 L1189.7 274.33 L1190.2 274.21 L1190.7 274.59 L1191.2 274.65 L1191.7 274.72 L1192.2 275.12 L1192.7 276.08 L1193.2 276.70 L1193.7 277.32 L1194.2 277.13 L1194.7 277.83 L1195.2 278.03 L1195.7 278.77 L1196.2 279.52 L1196.7 280.43 L1197.2 281.01 L1197.7 281.25 L1198.2 281.40 L1198.7 281.64 L1199.2 281.46 L1199.7 282.37 L1200.2 282.10 L1200.7 282.71 L1201.2 282.75 L1201.7 282.83 L1202.2 283.24 L1202.7 282.66 L1203.2 283.17 L1203.7 282.81 L1204.2 283.24 L1204.7 283.43 L1205.2 283.85 L1205.7 283.23 L1206.2 283.76 L1206.7 284.03 L1207.2 283.29 L1207.7 283.17 L1208.2 283.93 L1208.7 283.32 L1209.2 283.33 L1209.7 283.52 L1210.2 283.96 L1210.7 283.83 L1211.2 283.57 L1211.7 283.32 L1212.2 284.18 L1212.7 283.67 L1213.2 283.57 L1213.7 284.00 L1214.2 283.88 L1214.7 283.46 L1215.2 283.62 L1215.7 284.48 L1216.2 284.34 L1216.7 283.56 L1217.2 283.73 L1217.7 283.75 L1218.2 284.04 L1218.7 284.49 L1219.2 284.09 L1219.7 283.55 L1220.2 284.59 L1220.7 283.63 L1221.2 284.02 L1221.7 284.31 L1222.2 284.26 L1222.7 283.87 L1223.2 284.19 L1223.7 284.23 L1224.2 283.60 L1224.7 284.58 L1225.2 284.01 L1225.7 284.06 L1226.2 284.11 L1226.7 284.54 L1227.2 284.02 L1227.7 284.70 L1228.2 284.19 L1228.7 284.46 L1229.2 284.50 L1229.7 283.69 L1230.2 284.26 L1230.7 283.77 L1231.2 284.00 L1231.7 284.20 L1232.2 283.97 L1232.7 284.80 L1233.2 283.99 L1233.7 284.02 L1234.2 284.30 L1234.7 283.92 L1235.2 284.78 L1235.7 284.81 L1236.2 284.36 L1236.7 284.64 L1237.2 284.12 L1237.7 284.15 L1238.2 284.07 L1238.7 284.72 L1239.2 284.61 L1239.7 283.69 L1240.2 283.87 L1240.7 284.24 L1241.2 284.32 L1241.7 284.23 L1242.2 284.11 L1242.7 283.77 L1243.2 283.92 L1243.7 284.81 L1244.2 284.48 L1244.7 284.15 L1245.2 284.05 L1245.7 283.78 L1246.2 283.89 L1246.7 284.74 L1247.2 284.18 L1247.7 284.40 L1248.2 283.95 L1248.7 284.65 L1249.2 283.89 L1249.7 284.03 L1250.2 283.74 L1250.7 283.77 L1251.2 283.97 L1251.7 284.44 L1252.2 284.68 L1252.7 283.95 L1253.2 284.00 L1253.7 283.94 L1254.2 284.43 L1254.7 284.91 L1255.2 284.37 L1255.7 283.77 L1256.2 284.62 L1256.7 284.04 L1257.2 283.81 L1257.7 284.67 L1258.2 283.85 L1258.7 283.92 L1259.2 284.91 L1259.7 284.77 L1260.2 284.18 L1260.7 284.24 L1261.2 284.01 L1261.7 284.47 L1262.2 284.25 L1262.7 283.93 L1263.2 284.06 L1263.7 284.77 L1264.2 284.00 L1264.7 283.99 L1265.2 283.91 L1265.7 284.65 L1266.2 284.77 L1266.7 284.44 L1267.2 283.92 L1267.7 284.08 L1268.2 284.13 L1268.7 284.08 L1269.2 284.20 L1269.7 284.18 L1270.2 284.60 L1270.7 283.90 L1271.2 283.98 L1271.7 284.74 L1272.2 284.03 L1272.7 284.47 L1273.2 284.44 L1273.7 284.43 L1274.2 284.92 L1274.7 284.18 L1275.2 283.86 L1275.7 283.92 L1276.2 284.93 L1276.7 284.43 L1277.2 284.15 L1277.7 284.29 L1278.2 284.09 L1278.7 284.61 L1279.2 283.97 L1279.7 284.54 L1280.2 284.71 L1280.7 284.14 L1281.2 284.98 L1281.7 284.22 L1282.2 285.00 L1282.7 284.24 L1283.2 284.37 L1283.7 284.74 L1284.2 284.65 L1284.7 283.91 L1285.2 284.19 L1285.7 284.34 L1286.2 284.26 L1286.7 284.41 L1287.2 283.96 L1287.7 284.70 L1288.2 284.08 L1288.7 284.44 L1289.2 284.66 L1289.7 284.01 L1290.2 284.59 L1290.7 284.71 L1291.2 284.01 L1291.7 284.52 L1292.2 284.48 L1292.7 284.97 L1293.2 284.79 L1293.7 284.29 L1294.2 284.63 L1294.7 284.29 L1295.2 284.07 L1295.7 284.08 L1296.2 284.03 L1296.7 284.35 L1297.2 284.40 L1297.7 283.84 L1298.2 283.81 L1298.7 284.18 L1299.2 284.28 L1299.7 284.18 L1300.2 283.84 L1300.7 283.80 L1301.2 284.27 L1301.7 284.06 L1302.2 284.18 L1302.7 284.75 L1303.2 283.77 L1303.7 284.60 L1304.2 284.64 L1304.7 283.84 L1305.2 284.40 L1305.7 283.92 L1306.2 283.96 L1306.7 284.02 L1307.2 284.38 L1307.7 283.71 L1308.2 284.22 L1308.7 284.08 L1309.2 284.56 L1309.7 284.51 L1310.2 284.62 L1310.7 284.78 L1311.2 284.25 L1311.7 283.67 L1312.2 284.74 L1312.7 283.72 L1313.2 284.72 L1313.7 284.55 L1314.2 283.82 L1314.7 284.02 L1315.2 284.24 L1315.7 284.04 L1316.2 284.45 L1316.7 283.55 L1317.2 284.14 L1317.7 283.61 L1318.2 283.93 L1318.7 284.31 L1319.2 284.36 L1319.7 283.50 L1320.2 284.13 L1320.7 283.33 L1321.2 284.20 L1321.7 283.60 L1322.2 283.31 L1322.7 283.75 L1323.2 282.98 L1323.7 283.87 L1324.2 283.89 L1324.7 283.84 L1325.2 283.01 L1325.7 282.74 L1326.2 283.42 L1326.7 283.26 L1327.2 283.10 L1327.7 282.92 L1328.2 282.40 L1328.7 281.43 L1329.2 282.09 L1329.7 282.10 L1330.2 280.95 L1330.7 280.73 L1331.2 280.46 L1331.7 280.75 L1332.2 280.23 L1332.7 279.20 L1333.2 279.43 L1333.7 278.80 L1334.2 278.93 L1334.7 278.34 L1335.2 277.60 L1335.7 276.96 L1336.2 276.42 L1336.7 276.75 L1337.2 276.20 L1337.7 275.36 L1338.2 275.61 L1338.7 274.26 L1339.2 274.78 L1339.7 273.59 L1340.2 273.84 L1340.7 273.00 L1341.2 272.52 L1341.7 272.50 L1342.2 272.83 L1342.7 272.58 L1343.2 272.53 L1343.7 271.95 L1344.2 272.59 L1344.7 271.77 L1345.2 272.01 L1345.7 273.08 L1346.2 272.84 L1346.7 273.36 L1347.2 273.48 L1347.7 273.39 L1348.2 273.83 L1348.7 274.72 L1349.2 274.84 L1349.7 275.60 L1350.2 276.18 L1350.7 276.14 L1351.2 277.02 L1351.7 277.14 L1352.2 278.08 L1352.7 277.93 L1353.2 278.94 L1353.7 278.83 L1354.2 279.49 L1354.7 279.93 L1355.2 280.35 L1355.7 280.11 L1356.2 280.12 L1356.7 280.31 L1357.2 281.69 L1357.7 281.09 L1358.2 282.13 L1358.7 281.92 L1359.2 282.11 L1359.7 282.92 L1360.2 282.61 L1360.7 282.22 L1361.2 283.27 L1361.7 282.55 L1362.2 283.24 L1362.7 283.67 L1363.2 283.39 L1363.7 284.00 L1364.2 283.14 L1364.7 283.49 L1365.2 284.25 L1365.7 284.24 L1366.2 283.95 L1366.7 283.74 L1367.2 283.58 L1367.7 284.48 L1368.2 283.79 L1368.7 284.40 L1369.2 284.07 L1369.7 284.34 L1370.2 283.83 L1370.7 284.35 L1371.2 284.70 L1371.7 284.22 L1372.2 284.38 L1372.7 284.02 L1373.2 284.89 L1373.7 284.70 L1374.2 284.00 L1374.7 285.00 L1375.2 284.93 L1375.7 284.61 L1376.2 284.97 L1376.7 284.94 L1377.2 284.83 L1377.7 284.95 L1378.2 283.98 L1378.7 284.19 L1379.2 284.81 L1379.7 284.91 L1380.2 284.16 L1380.7 284.53 L1381.2 284.38 L1381.7 285.05 L1382.2 284.51 L1382.7 284.88 L1383.2 284.82 L1383.7 284.40 L1384.2 285.22 L1384.7 285.04 L1385.2 284.38 L1385.7 284.52 L1386.2 284.26 L1386.7 285.18 L1387.2 284.30 L1387.7 285.26 L1388.2 284.49 L1388.7 284.85 L1389.2 284.51 L1389.7 284.95 L1390.2 284.98 L1390.7 285.22 L1391.2 284.72 L1391.7 284.47 L1392.2 284.95 L1392.7 284.17 L1393.2 284.89 L1393.7 284.19 L1394.2 285.20 L1394.7 285.20 L1395.2 285.05 L1395.7 284.86 L1396.2 284.18 L1396.7 284.38 L1397.2 285.25 L1397.7 284.21 L1398.2 284.54 L1398.7 284.25 L1399.2 284.84 L1399.7 284.95 L1400.2 284.31 L1400.7 284.29 L1401.2 284.54 L1401.7 284.93 L1402.2 284.68 L1402.7 284.50 L1403.2 284.29 L1403.7 285.17 L1404.2 285.34 L1404.7 284.61 L1405.2 285.36 L1405.7 284.45 L1406.2 284.81 L1406.7 284.89 L1407.2 285.41 L1407.7 284.55 L1408.2 285.27 L1408.7 284.55 L1409.2 284.51 L1409.7 284.33 L1410.2 284.54 L1410.7 284.33 L1411.2 285.32 L1411.7 284.26 L1412.2 285.28 L1412.7 284.96 L1413.2 284.41 L1413.7 284.72 L1414.2 284.91 L1414.7 285.06 L1415.2 284.76 L1415.7 284.49 L1416.2 284.54 L1416.7 284.86 L1417.2 284.96 L1417.7 285.39 L1418.2 284.44 L1418.7 284.63 L1419.2 284.86 L1419.7 285.20 L1420.2 284.73 L1420.7 284.83 L1421.2 285.47 L1421.7 284.30 L1422.2 284.39 L1422.7 284.55 L1423.2 285.10 L1423.7 284.55 L1424.2 284.74 L1424.7 285.09 L1425.2 284.90 L1425.7 284.70 L1426.2 285.40 L1426.7 284.84 L1427.2 284.36 L1427.7 285.26 L1428.2 285.40 L1428.7 284.55 L1429.2 284.95 L1429.7 284.38 L1430.2 284.67 L1430.7 285.50 L1431.2 284.81 L1431.7 284.76 L1432.2 284.57 L1432.7 284.50 L1433.2 284.39 L1433.7 284.29 L1434.2 285.26 L1434.7 285.04 L1435.2 284.31 L1435.7 284.39 L1436.2 285.45 L1436.7 285.24 L1437.2 284.48 L1437.7 285.46 L1438.2 285.01 L1438.7 284.75 L1439.2 284.40 L1439.7 284.34 L1440.2 284.61 L1440.7 284.44 L1441.2 284.76 L1441.7 284.89 L1442.2 284.70 L1442.7 284.60 L1443.2 285.30 L1443.7 284.85 L1444.2 285.40 L1444.7 284.59 L1445.2 284.58 L1445.7 285.09 L1446.2 284.38 L1446.7 285.38 L1447.2 284.53 L1447.7 285.22 L1448.2 284.71 L1448.7 285.12 L1449.2 284.52 L1449.7 285.00 L1450.2 284.47 L1450.7 284.89 L1451.2 284.53 L1451.7 284.14 L1452.2 285.25 L1452.7 284.22 L1453.2 284.11 L1453.7 285.20 L1454.2 285.08 L1454.7 284.14 L1455.2 284.32 L1455.7 284.62 L1456.2 284.09 L1456.7 284.46 L1457.2 285.11 L1457.7 284.80 L1458.2 284.59 L1458.7 284.02 L1459.2 284.50 L1459.7 284.93 L1460.2 284.86 L1460.7 284.55 L1461.2 284.52 L1461.7 284.53 L1462.2 283.66 L1462.7 283.66 L1463.2 284.37 L1463.7 284.15 L1464.2 284.46 L1464.7 283.75 L1465.2 284.06 L1465.7 283.86 L1466.2 284.12 L1466.7 283.28 L1467.2 283.68 L1467.7 284.04 L1468.2 283.01 L1468.7 283.35 L1469.2 283.29 L1469.7 283.32 L1470.2 283.54 L1470.7 283.23 L1471.2 283.47 L1471.7 283.13 L1472.2 282.78 L1472.7 283.36 L1473.2 282.81 L1473.7 282.43 L1474.2 282.49 L1474.7 283.11 L1475.2 283.07 L1475.7 282.58 L1476.2 282.04 L1476.7 282.19 L1477.2 282.63 L1477.7 281.79 L1478.2 281.73 L1478.7 281.71 L1479.2 281.73 L1479.7 281.34 L1480.2 281.37 L1480.7 281.10 L1481.2 281.52 L1481.7 281.06 L1482.2 281.03 L1482.7 281.06 L1483.2 281.13 L1483.7 281.00 L1484.2 281.13 L1484.7 280.47 L1485.2 280.35 L1485.7 280.65 L1486.2 280.72 L1486.7 281.29 L1487.2 280.06 L1487.7 280.97 L1488.2 280.06 L1488.7 280.45 L1489.2 280.63 L1489.7 280.52 L1490.2 279.76 L1490.7 280.36 L1491.2 279.32 L1491.7 279.57 L1492.2 280.13 L1492.7 279.72 L1493.2 279.13 L1493.7 278.69 L1494.2 278.72 L1494.7 278.49 L1495.2 278.88 L1495.7 277.68 L1496.2 278.10 L1496.7 277.77 L1497.2 276.77 L1497.7 277.05 L1498.2 276.79 L1498.7 275.74 L1499.2 275.11 L1499.7 274.76 L1500.2 274.32 L1500.7 273.81 L1501.2 273.13 L1501.7 272.92 L1502.2 271.66 L1502.7 271.80 L1503.2 270.56 L1503.7 269.35 L1504.2 268.79 L1504.7 268.51 L1505.2 268.12 L1505.7 266.68 L1506.2 266.91 L1506.7 265.21 L1507.2 265.60 L1507.7 264.05 L1508.2 263.97 L1508.7 263.63 L1509.2 262.51 L1509.7 262.36 L1510.2 261.67 L1510.7 262.33 L1511.2 261.75 L1511.7 261.88 L1512.2 261.70 L1512.7 262.31 L1513.2 262.09 L1513.7 262.21 L1514.2 262.96 L1514.7 263.25 L1515.2 263.56 L1515.7 263.64 L1516.2 265.35 L1516.7 264.93 L1517.2 266.03 L1517.7 267.20 L1518.2 267.27 L1518.7 268.14 L1519.2 268.70 L1519.7 269.42 L1520.2 270.80 L1520.7 271.11 L1521.2 271.63 L1521.7 273.36 L1522.2 273.28 L1522.7 274.22 L1523.2 275.03 L1523.7 275.68 L1524.2 275.95 L1524.7 276.78 L1525.2 277.61 L1525.7 277.76 L1526.2 277.98 L1526.7 278.36 L1527.2 278.88 L1527.7 279.45 L1528.2 280.29 L1528.7 280.27 L1529.2 280.77 L1529.7 280.89 L1530.2 280.81 L1530.7 281.82 L1531.2 280.97 L1531.7 281.53 L1532.2 281.62 L1532.7 281.67 L1533.2 281.58 L1533.7 282.16 L1534.2 282.94 L1534.7 282.71 L1535.2 282.10 L1535.7 283.03 L1536.2 283.00 L1536.7 283.17 L1537.2 282.40 L1537.7 283.13 L1538.2 282.18 L1538.7 282.53 L1539.2 282.68 L1539.7 282.59 L1540.2 282.79 L1540.7 282.87 L1541.2 282.38 L1541.7 282.07 L1542.2 281.96 L1542.7 282.34 L1543.2 282.87 L1543.7 282.41 L1544.2 282.05 L1544.7 282.43 L1545.2 282.48 L1545.7 282.37 L1546.2 281.20 L1546.7 281.09 L1547.2 280.89 L1547.7 281.63 L1548.2 281.33 L1548.7 280.67 L1549.2 280.57 L1549.7 280.12 L1550.2 280.26 L1550.7 279.79 L1551.2 279.13 L1551.7 278.56 L1552.2 278.71 L1552.7 277.76 L1553.2 278.00 L1553.7 277.38 L1554.2 277.25 L1554.7 276.50 L1555.2 276.34 L1555.7 276.40 L1556.2 275.03 L1556.7 274.57 L1557.2 274.19 L1557.7 273.72 L1558.2 274.16 L1558.7 272.88 L1559.2 273.01 L1559.7 272.65 L1560.2 271.88 L1560.7 271.74 L1561.2 270.62 L1561.7 270.16 L1562.2 270.06 L1562.7 269.40 L1563.2 269.68 L1563.7 269.06 L1564.2 269.07 L1564.7 268.67 L1565.2 268.44 L1565.7 267.98 L1566.2 268.62 L1566.7 267.46 L1567.2 268.15 L1567.7 268.42 L1568.2 268.40 L1568.7 267.73 L1569.2 268.81 L1569.7 268.94 L1570.2 269.23 L1570.7 269.23 L1571.2 269.84 L1571.7 270.11 L1572.2 270.67 L1572.7 270.63 L1573.2 271.30 L1573.7 271.05 L1574.2 272.29 L1574.7 272.18 L1575.2 272.83 L1575.7 272.66 L1576.2 273.21 L1576.7 274.14 L1577.2 274.80 L1577.7 275.49 L1578.2 275.95 L1578.7 276.07 L1579.2 276.74 L1579.7 276.38 L1580.2 277.40 L1580.7 277.78 L1581.2 278.42 L1581.7 278.55 L1582.2 278.41 L1582.7 279.46 L1583.2 279.89 L1583.7 280.05 L1584.2 280.69 L1584.7 280.76 L1585.2 280.65 L1585.7 280.99 L1586.2 280.94 L1586.7 281.63 L1587.2 281.20 L1587.7 281.97 L1588.2 282.63 L1588.7 282.44 L1589.2 282.48 L1589.7 282.36 L1590.2 282.29 L1590.7 282.62 L1591.2 283.45 L1591.7 283.15 L1592.2 282.79 L1592.7 283.44 L1593.2 283.73 L1593.7 283.50 L1594.2 283.68 L1594.7 283.24 L1595.2 283.39 L1595.7 283.96 L1596.2 283.75 L1596.7 283.91 L1597.2 284.60 L1597.7 283.61 L1598.2 283.54 L1598.7 283.85 L1599.2 284.45 L1599.7 283.87 L1600.2 284.02 L1600.7 284.32 L1601.2 284.17 L1601.7 284.52 L1602.2 284.59 L1602.7 284.27 L1603.2 284.33 L1603.7 285.01 L1604.2 284.45 L1604.7 284.83 L1605.2 285.10 L1605.7 284.07 L1606.2 284.07 L1606.7 284.17 L1607.2 284.11 L1607.7 284.86 L1608.2 284.30 L1608.7 284.10 L1609.2 284.42 L1609.7 284.99 L1610.2 284.47 L1610.7 284.64 L1611.2 284.38 L1611.7 285.28 L1612.2 284.79 L1612.7 284.47 L1613.2 284.34 L1613.7 284.31 L1614.2 284.47 L1614.7 285.21 L1615.2 284.29 L1615.7 285.21 L1616.2 285.30 L1616.7 284.47 L1617.2 284.22 L1617.7 284.48 L1618.2 284.24 L1618.7 284.97 L1619.2 284.87 L1619.7 284.63 L1620.2 285.39 L1620.7 285.37 L1621.2 285.00 L1621.7 285.05 L1622.2 285.44 L1622.7 284.96 L1623.2 285.20 L1623.7 284.95 L1624.2 284.75 L1624.7 285.28 L1625.2 285.09 L1625.7 284.30 L1626.2 284.42 L1626.7 284.57 L1627.2 284.55 L1627.7 284.58 L1628.2 284.44 L1628.7 285.44 L1629.2 284.80 L1629.7 284.92 L1630.2 285.26 L1630.7 284.37 L1631.2 284.47 L1631.7 285.23 L1632.2 284.87 L1632.7 284.57 L1633.2 285.26 L1633.7 284.74 L1634.2 284.50 L1634.7 284.48 L1635.2 284.97 L1635.7 284.55 L1636.2 284.52 L1636.7 285.12 L1637.2 285.07 L1637.7 284.62 L1638.2 284.60 L1638.7 284.81 L1639.2 284.43 L1639.7 284.57 L1640.2 285.11 L1640.7 284.71 L1641.2 284.88 L1641.7 285.32 L1642.2 285.39 L1642.7 284.46 L1643.2 285.30 L1643.7 285.58 L1644.2 284.58 L1644.7 284.55 L1645.2 285.44 L1645.7 285.21 L1646.2 284.54 L1646.7 285.50 L1647.2 284.79 L1647.7 285.40 L1648.2 285.62 L1648.7 284.49 L1649.2 285.46 L1649.7 285.36 L1650.2 285.06 L1650.7 285.19 L1651.2 285.30 L1651.7 285.38 L1652.2 284.70 L1652.7 285.28 L1653.2 284.46 L1653.7 285.35 L1654.2 285.41 L1654.7 285.13 L1655.2 285.37 L1655.7 284.58 L1656.2 285.24 L1656.7 284.59 L1657.2 285.36 L1657.7 285.66 L1658.2 285.30 L1658.7 284.51 L1659.2 285.54 L1659.7 285.31 L1660.2 284.68 L1660.7 284.71 L1661.2 284.57 L1661.7 285.40 L1662.2 285.34 L1662.7 284.60 L1663.2 285.27 L1663.7 285.11 L1664.2 285.46 L1664.7 284.77 L1665.2 284.75 L1665.7 284.69 L1666.2 285.26 L1666.7 285.50 L1667.2 284.76 L1667.7 285.24 L1668.2 285.13 L1668.7 285.13 L1669.2 284.79 L1669.7 284.94 L1670.2 285.28 L1670.7 284.61 L1671.2 285.25 L1671.7 284.65 L1672.2 284.56 L1672.7 284.72 L1673.2 285.19 L1673.7 285.09 L1674.2 284.56 L1674.7 285.61 L1675.2 284.60 L1675.7 284.86 L1676.2 285.15 L1676.7 285.33 L1677.2 285.59 L1677.7 285.69 L1678.2 284.66 L1678.7 285.51 L1679.2 284.80 L1679.7 285.55 L1680.2 284.57 L1680.7 285.24 L1681.2 285.62 L1681.7 284.77 L1682.2 285.70 L1682.7 285.70 L1683.2 285.03 L1683.7 284.74 L1684.2 285.44 L1684.7 285.15 L1685.2 284.65 L1685.7 285.45 L1686.2 285.65 L1686.7 285.24 L1687.2 285.08 L1687.7 284.94 L1688.2 285.37 L1688.7 285.67 L1689.2 285.05 L1689.7 285.04 L1690.2 285.66 L1690.7 285.71 L1691.2 285.03 L1691.7 284.59 L1692.2 285.67 L1692.7 285.34 L1693.2 285.24 L1693.7 285.47 L1694.2 284.77 L1694.7 285.57 L1695.2 285.20 L1695.7 285.25 L1696.2 284.75 L1696.7 284.74 L1697.2 284.65 L1697.7 285.58 L1698.2 285.43 L1698.7 285.36 L1699.2 285.64 L1699.7 284.66 L1700.2 285.53 L1700.7 285.00 L1701.2 285.06 L1701.7 284.67 L1702.2 284.90 L1702.7 285.49 L1703.2 285.17 L1703.7 285.69 L1704.2 284.83 L1704.7 285.07 L1705.2 285.44 L1705.7 284.63 L1706.2 285.58 L1706.7 285.24 L1707.2 284.95 L1707.7 285.54 L1708.2 285.62 L1708.7 285.55 L1709.2 285.38 L1709.7 285.05 L1710.2 285.12 L1710.7 285.57 L1711.2 285.52 L1711.7 285.01 L1712.2 285.06 L1712.7 285.52 L1713.2 285.18 L1713.7 285.62 L1714.2 284.57 L1714.7 285.41 L1715.2 285.31 L1715.7 285.06 L1716.2 285.26 L1716.7 284.76 L1717.2 284.46 L1717.7 284.72 L1718.2 284.81 L1718.7 284.68 L1719.2 284.77 L1719.7 285.24 L1720.2 284.74 L1720.7 284.79 L1721.2 285.60 L1721.7 284.61 L1722.2 285.33 L1722.7 284.57 L1723.2 284.85 L1723.7 285.36 L1724.2 284.74 L1724.7 285.23 L1725.2 284.97 L1725.7 285.18 L1726.2 285.30 L1726.7 284.52 L1727.2 284.51 L1727.7 285.34 L1728.2 285.09 L1728.7 284.74 L1729.2 284.72 L1729.7 285.41 L1730.2 285.05 L1730.7 284.54 L1731.2 284.77 L1731.7 285.06 L1732.2 284.97 L1732.7 284.49 L1733.2 284.73 L1733.7 284.47 L1734.2 285.43 L1734.7 284.82 L1735.2 285.23 L1735.7 285.15 L1736.2 284.62 L1736.7 285.24 L1737.2 284.89 L1737.7 284.72 L1738.2 285.24 L1738.7 285.24 L1739.2 285.05 L1739.7 284.75 L1740.2 284.93 L1740.7 284.58 L1741.2 285.18 L1741.7 285.04 L1742.2 284.48 L1742.7 284.18 L1743.2 284.88 L1743.7 285.09 L1744.2 284.34 L1744.7 285.14 L1745.2 284.94 L1745.7 285.15 L1746.2 284.31 L1746.7 285.15 L1747.2 284.13 L1747.7 284.16 L1748.2 284.31 L1748.7 284.81 L1749.2 284.59 L1749.7 284.22 L1750.2 284.23 L1750.7 284.61 L1751.2 284.34 L1751.7 284.04 L1752.2 284.86 L1752.7 284.79 L1753.2 284.29 L1753.7 284.81 L1754.2 284.53 L1754.7 283.70 L1755.2 284.59 L1755.7 284.29 L1756.2 284.29 L1756.7 284.04 L1757.2 284.14 L1757.7 284.54 L1758.2 283.52 L1758.7 283.22 L1759.2 283.90 L1759.7 283.07 L1760.2 283.51 L1760.7 283.16 L1761.2 282.91 L1761.7 282.85 L1762.2 282.61 L1762.7 283.00 L1763.2 282.50 L1763.7 282.58 L1764.2 282.72 L1764.7 282.05 L1765.2 282.52 L1765.7 281.97 L1766.2 282.02 L1766.7 281.35 L1767.2 280.68 L1767.7 280.47 L1768.2 280.52 L1768.7 280.26 L1769.2 279.68 L1769.7 279.82 L1770.2 278.79 L1770.7 278.93 L1771.2 278.45 L1771.7 278.04 L1772.2 276.71 L1772.7 277.36 L1773.2 276.57 L1773.7 275.66 L1774.2 275.83 L1774.7 274.90 L1775.2 274.83 L1775.7 274.37 L1776.2 273.11 L1776.7 272.54 L1777.2 272.82 L1777.7 272.22 L1778.2 271.63 L1778.7 270.38 L1779.2 270.38 L1779.7 270.20 L1780.2 269.91 L1780.7 268.87 L1781.2 268.98 L1781.7 267.82 L1782.2 267.56 L1782.7 268.03 L1783.2 267.24 L1783.7 267.54 L1784.2 267.65 L1784.7 266.98 L1785.2 267.67 L1785.7 267.04 L1786.2 267.21 L1786.7 268.22 L1787.2 267.43 L1787.7 268.77 L1788.2 268.71 L1788.7 269.29 L1789.2 269.03 L1789.7 269.41 L1790.2 269.90 L1790.7 270.75 L1791.2 271.19 L1791.7 272.15 L1792.2 272.11 L1792.7 272.54 L1793.2 273.33 L1793.7 274.16 L1794.2 274.31 L1794.7 275.02 L1795.2 275.88 L1795.7 275.55 L1796.2 276.54 L1796.7 276.84 L1797.2 277.18 L1797.7 277.85 L1798.2 277.83 L1798.7 278.79 L1799.2 279.49 L1799.7 279.83 L1800.2 279.42 L1800.7 279.96 L1801.2 280.92 L1801.7 280.99 L1802.2 280.59 L1802.7 281.45 L1803.2 281.70 L1803.7 281.66 L1804.2 281.88 L1804.7 282.67 L1805.2 282.43 L1805.7 282.30 L1806.2 282.69 L1806.7 282.77 L1807.2 283.57 L1807.7 282.61 L1808.2 283.67 L1808.7 283.72 L1809.2 284.07 L1809.7 283.30 L1810.2 284.23 L1810.7 283.90 L1811.2 283.39 L1811.7 284.07 L1812.2 284.32 L1812.7 284.09 L1813.2 284.72 L1813.7 284.09 L1814.2 283.91 L1814.7 284.41 L1815.2 284.11 L1815.7 284.22 L1816.2 283.99 L1816.7 284.82 L1817.2 284.26 L1817.7 284.29 L1818.2 283.98 L1818.7 284.88 L1819.2 284.90" fill="none" stroke="#0000ff" stroke-width="3.3" stroke-linejoin="round"/>
<path transform="scale(1 1.50)" d="M197.2 475.48 L197.7 475.59 L198.2 474.83 L198.7 474.87 L199.2 474.82 L199.7 475.27 L200.2 475.71 L200.7 475.26 L201.2 475.70 L201.7 474.92 L202.2 475.53 L202.7 475.08 L203.2 475.01 L203.7 475.50 L204.2 475.30 L204.7 475.04 L205.2 475.09 L205.7 475.53 L206.2 475.53 L206.7 475.55 L207.2 474.84 L207.7 475.66 L208.2 475.55 L208.7 475.04 L209.2 474.99 L209.7 475.44 L210.2 474.90 L210.7 475.74 L211.2 475.15 L211.7 475.27 L212.2 475.32 L212.7 474.89 L213.2 475.46 L213.7 475.72 L214.2 475.40 L214.7 475.66 L215.2 475.59 L215.7 475.70 L216.2 474.97 L216.7 474.94 L217.2 475.36 L217.7 475.04 L218.2 475.69 L218.7 475.48 L219.2 475.06 L219.7 475.53 L220.2 475.68 L220.7 475.65 L221.2 475.74 L221.7 474.97 L222.2 475.49 L222.7 475.12 L223.2 475.52 L223.7 475.57 L224.2 474.88 L224.7 475.12 L225.2 475.11 L225.7 475.39 L226.2 475.29 L226.7 475.75 L227.2 475.19 L227.7 475.21 L228.2 475.55 L228.7 474.86 L229.2 475.02 L229.7 475.20 L230.2 475.09 L230.7 475.10 L231.2 475.24 L231.7 475.28 L232.2 474.85 L232.7 475.36 L233.2 475.47 L233.7 474.88 L234.2 475.31 L234.7 475.16 L235.2 475.24 L235.7 475.19 L236.2 475.29 L236.7 475.57 L237.2 475.25 L237.7 475.50 L238.2 474.93 L238.7 475.19 L239.2 475.25 L239.7 474.88 L240.2 475.43 L240.7 474.90 L241.2 475.76 L241.7 475.28 L242.2 475.76 L242.7 474.98 L243.2 475.55 L243.7 475.65 L244.2 475.46 L244.7 475.08 L245.2 474.98 L245.7 475.44 L246.2 475.65 L246.7 475.08 L247.2 475.26 L247.7 475.58 L248.2 475.23 L248.7 475.11 L249.2 474.94 L249.7 475.23 L250.2 474.96 L250.7 475.67 L251.2 475.02 L251.7 475.60 L252.2 475.77 L252.7 475.68 L253.2 475.00 L253.7 475.07 L254.2 475.16 L254.7 475.09 L255.2 474.85 L255.7 475.31 L256.2 475.49 L256.7 475.20 L257.2 474.96 L257.7 475.65 L258.2 475.43 L258.7 474.90 L259.2 475.47 L259.7 475.05 L260.2 475.37 L260.7 475.50 L261.2 475.12 L261.7 474.90 L262.2 475.52 L262.7 475.06 L263.2 475.16 L263.7 475.10 L264.2 475.72 L264.7 475.20 L265.2 475.47 L265.7 475.73 L266.2 475.53 L266.7 474.86 L267.2 475.20 L267.7 475.45 L268.2 475.20 L268.7 475.30 L269.2 475.61 L269.7 475.33 L270.2 475.02 L270.7 474.94 L271.2 475.47 L271.7 475.37 L272.2 475.20 L272.7 475.40 L273.2 475.10 L273.7 474.87 L274.2 474.85 L274.7 475.07 L275.2 474.96 L275.7 475.06 L276.2 475.43 L276.7 475.11 L277.2 474.86 L277.7 475.46 L278.2 475.50 L278.7 474.97 L279.2 475.27 L279.7 475.12 L280.2 475.56 L280.7 474.83 L281.2 475.48 L281.7 475.07 L282.2 475.27 L282.7 475.61 L283.2 475.00 L283.7 475.56 L284.2 474.96 L284.7 475.56 L285.2 474.83 L285.7 475.39 L286.2 475.36 L286.7 475.58 L287.2 475.68 L287.7 475.02 L288.2 475.14 L288.7 475.21 L289.2 475.13 L289.7 475.26 L290.2 475.00 L290.7 474.76 L291.2 474.85 L291.7 475.25 L292.2 475.10 L292.7 474.97 L293.2 475.19 L293.7 474.73 L294.2 475.34 L294.7 475.61 L295.2 475.63 L295.7 475.59 L296.2 475.32 L296.7 475.03 L297.2 475.59 L297.7 475.42 L298.2 475.49 L298.7 475.11 L299.2 474.71 L299.7 475.24 L300.2 474.90 L300.7 474.72 L301.2 474.89 L301.7 475.06 L302.2 474.84 L302.7 475.25 L303.2 474.88 L303.7 474.77 L304.2 475.10 L304.7 474.66 L305.2 475.21 L305.7 474.97 L306.2 475.49 L306.7 474.67 L307.2 474.85 L307.7 475.08 L308.2 474.84 L308.7 474.75 L309.2 475.17 L309.7 475.36 L310.2 475.12 L310.7 475.29 L311.2 475.41 L311.7 475.23 L312.2 475.14 L312.7 474.68 L313.2 474.50 L313.7 474.73 L314.2 475.25 L314.7 474.93 L315.2 475.09 L315.7 475.15 L316.2 474.78 L316.7 475.14 L317.2 474.63 L317.7 475.10 L318.2 474.68 L318.7 474.73 L319.2 475.11 L319.7 474.65 L320.2 474.36 L320.7 475.10 L321.2 475.02 L321.7 475.19 L322.2 474.65 L322.7 474.33 L323.2 474.64 L323.7 474.80 L324.2 474.34 L324.7 474.98 L325.2 474.86 L325.7 474.96 L326.2 474.85 L326.7 474.88 L327.2 474.19 L327.7 474.78 L328.2 474.50 L328.7 474.77 L329.2 474.26 L329.7 474.07 L330.2 474.25 L330.7 474.48 L331.2 474.56 L331.7 474.52 L332.2 474.05 L332.7 474.52 L333.2 474.28 L333.7 474.36 L334.2 473.86 L334.7 473.92 L335.2 473.92 L335.7 474.41 L336.2 474.30 L336.7 474.09 L337.2 474.38 L337.7 474.35 L338.2 473.75 L338.7 473.73 L339.2 474.35 L339.7 473.49 L340.2 474.18 L340.7 474.04 L341.2 473.72 L341.7 473.83 L342.2 473.41 L342.7 473.45 L343.2 473.36 L343.7 473.41 L344.2 473.33 L344.7 473.12 L345.2 473.61 L345.7 473.11 L346.2 473.08 L346.7 473.03 L347.2 472.78 L347.7 473.34 L348.2 473.42 L348.7 472.92 L349.2 473.22 L349.7 472.32 L350.2 472.50 L350.7 472.32 L351.2 472.70 L351.7 472.83 L352.2 471.88 L352.7 471.89 L353.2 472.21 L353.7 472.17 L354.2 471.62 L354.7 471.33 L355.2 471.76 L355.7 471.81 L356.2 470.98 L356.7 471.41 L357.2 470.80 L357.7 471.01 L358.2 470.96 L358.7 470.59 L359.2 470.91 L359.7 470.21 L360.2 470.43 L360.7 470.17 L361.2 470.17 L361.7 469.51 L362.2 469.33 L362.7 469.36 L363.2 468.81 L363.7 468.36 L364.2 467.98 L364.7 467.84 L365.2 467.25 L365.7 467.25 L366.2 467.15 L366.7 466.66 L367.2 466.33 L367.7 465.89 L368.2 465.67 L368.7 465.42 L369.2 464.83 L369.7 463.87 L370.2 463.30 L370.7 462.83 L371.2 462.58 L371.7 461.26 L372.2 461.38 L372.7 460.71 L373.2 459.40 L373.7 458.94 L374.2 458.11 L374.7 456.96 L375.2 455.97 L375.7 454.94 L376.2 454.04 L376.7 452.21 L377.2 451.29 L377.7 449.41 L378.2 448.03 L378.7 446.33 L379.2 444.67 L379.7 442.84 L380.2 441.27 L380.7 438.71 L381.2 436.60 L381.7 433.57 L382.2 431.48 L382.7 428.52 L383.2 425.45 L383.7 422.20 L384.2 417.99 L384.7 414.15 L385.2 409.94 L385.7 405.50 L386.2 400.92 L386.7 396.46 L387.2 390.79 L387.7 385.28 L388.2 379.57 L388.7 373.78 L389.2 368.05 L389.7 361.83 L390.2 355.46 L390.7 348.72 L391.2 342.44 L391.7 336.74 L392.2 332.05 L392.7 326.71 L393.2 322.48 L393.7 318.97 L394.2 316.58 L394.7 314.86 L395.2 314.64 L395.7 315.34 L396.2 316.49 L396.7 319.36 L397.2 322.79 L397.7 327.18 L398.2 331.45 L398.7 337.33 L399.2 342.87 L399.7 349.34 L400.2 355.41 L400.7 361.53 L401.2 367.81 L401.7 373.46 L402.2 379.82 L402.7 385.97 L403.2 390.79 L403.7 395.94 L404.2 401.61 L404.7 406.33 L405.2 410.49 L405.7 414.12 L406.2 418.18 L406.7 421.82 L407.2 425.43 L407.7 428.43 L408.2 431.61 L408.7 434.06 L409.2 436.05 L409.7 438.71 L410.2 441.37 L410.7 443.39 L411.2 444.79 L411.7 446.52 L412.2 447.81 L412.7 449.36 L413.2 450.91 L413.7 452.27 L414.2 453.66 L414.7 454.75 L415.2 455.57 L415.7 456.95 L416.2 458.03 L416.7 458.90 L417.2 459.39 L417.7 459.87 L418.2 461.08 L418.7 461.28 L419.2 461.93 L419.7 463.19 L420.2 463.46 L420.7 463.78 L421.2 464.79 L421.7 465.15 L422.2 465.16 L422.7 465.74 L423.2 465.98 L423.7 466.38 L424.2 467.18 L424.7 467.44 L425.2 467.29 L425.7 468.28 L426.2 468.20 L426.7 468.97 L427.2 468.79 L427.7 468.79 L428.2 469.57 L428.7 469.74 L429.2 469.87 L429.7 469.53 L430.2 469.99 L430.7 470.60 L431.2 470.43 L431.7 470.22 L432.2 470.79 L432.7 470.96 L433.2 470.80 L433.7 470.82 L434.2 471.68 L434.7 471.90 L435.2 471.31 L435.7 471.90 L436.2 471.67 L436.7 471.76 L437.2 471.95 L437.7 472.30 L438.2 472.64 L438.7 472.05 L439.2 472.61 L439.7 472.69 L440.2 473.00 L440.7 473.09 L441.2 472.83 L441.7 472.81 L442.2 473.27 L442.7 473.06 L443.2 473.28 L443.7 473.52 L444.2 473.08 L444.7 472.99 L445.2 472.81 L445.7 473.58 L446.2 473.40 L446.7 473.15 L447.2 473.83 L447.7 473.89 L448.2 473.52 L448.7 473.45 L449.2 473.47 L449.7 474.00 L450.2 473.42 L450.7 473.49 L451.2 474.09 L451.7 473.68 L452.2 473.72 L452.7 473.41 L453.2 473.63 L453.7 474.21 L454.2 473.95 L454.7 474.08 L455.2 473.74 L455.7 473.46 L456.2 474.35 L456.7 473.73 L457.2 473.55 L457.7 473.75 L458.2 473.96 L458.7 473.93 L459.2 474.09 L459.7 473.78 L460.2 474.22 L460.7 474.38 L461.2 474.24 L461.7 473.84 L462.2 473.78 L462.7 473.81 L463.2 473.84 L463.7 473.68 L464.2 474.33 L464.7 473.88 L465.2 473.76 L465.7 473.84 L466.2 473.39 L466.7 473.62 L467.2 474.01 L467.7 474.08 L468.2 473.64 L468.7 473.29 L469.2 473.97 L469.7 473.72 L470.2 473.90 L470.7 473.23 L471.2 473.17 L471.7 473.67 L472.2 472.88 L472.7 473.51 L473.2 472.64 L473.7 472.82 L474.2 473.28 L474.7 473.04 L475.2 473.00 L475.7 472.96 L476.2 472.69 L476.7 472.05 L477.2 472.62 L477.7 472.41 L478.2 471.96 L478.7 471.70 L479.2 471.43 L479.7 471.61 L480.2 471.19 L480.7 470.50 L481.2 470.93 L481.7 470.35 L482.2 469.92 L482.7 470.12 L483.2 469.58 L483.7 468.98 L484.2 468.70 L484.7 468.69 L485.2 468.02 L485.7 466.94 L486.2 467.08 L486.7 466.55 L487.2 465.94 L487.7 464.64 L488.2 464.42 L488.7 463.70 L489.2 462.73 L489.7 461.19 L490.2 460.54 L490.7 459.90 L491.2 458.40 L491.7 457.23 L492.2 455.31 L492.7 454.36 L493.2 452.94 L493.7 451.11 L494.2 448.96 L494.7 446.89 L495.2 445.63 L495.7 443.43 L496.2 441.93 L496.7 439.68 L497.2 437.88 L497.7 435.89 L498.2 434.16 L498.7 433.22 L499.2 431.94 L499.7 431.73 L500.2 431.28 L500.7 430.48 L501.2 431.39 L501.7 431.76 L502.2 432.93 L502.7 433.84 L503.2 435.05 L503.7 436.69 L504.2 438.88 L504.7 440.22 L505.2 442.09 L505.7 444.48 L506.2 446.64 L506.7 447.77 L507.2 450.28 L507.7 451.27 L508.2 453.12 L508.7 454.76 L509.2 456.09 L509.7 457.76 L510.2 458.78 L510.7 459.85 L511.2 460.81 L511.7 461.90 L512.2 462.99 L512.7 463.93 L513.2 464.66 L513.7 465.25 L514.2 465.88 L514.7 467.05 L515.2 467.62 L515.7 467.72 L516.2 468.19 L516.7 468.74 L517.2 469.30 L517.7 470.00 L518.2 469.81 L518.7 469.92 L519.2 470.68 L519.7 470.65 L520.2 471.46 L520.7 471.14 L521.2 472.13 L521.7 471.98 L522.2 471.75 L522.7 472.72 L523.2 472.33 L523.7 472.85 L524.2 472.98 L524.7 472.98 L525.2 473.01 L525.7 473.57 L526.2 473.57 L526.7 473.18 L527.2 473.28 L527.7 473.52 L528.2 473.33 L528.7 473.52 L529.2 474.09 L529.7 474.12 L530.2 473.94 L530.7 473.94 L531.2 474.40 L531.7 474.14 L532.2 474.62 L532.7 474.01 L533.2 474.94 L533.7 474.29 L534.2 474.69 L534.7 475.12 L535.2 474.93 L535.7 474.38 L536.2 474.78 L536.7 475.01 L537.2 474.50 L537.7 474.57 L538.2 475.41 L538.7 474.57 L539.2 474.70 L539.7 474.77 L540.2 475.25 L540.7 475.53 L541.2 474.85 L541.7 475.05 L542.2 475.40 L542.7 475.18 L543.2 475.03 L543.7 475.21 L544.2 475.49 L544.7 474.97 L545.2 474.97 L545.7 475.24 L546.2 475.16 L546.7 475.78 L547.2 475.60 L547.7 475.76 L548.2 475.56 L548.7 475.46 L549.2 475.66 L549.7 475.24 L550.2 475.96 L550.7 475.46 L551.2 475.97 L551.7 475.85 L552.2 475.63 L552.7 475.21 L553.2 475.19 L553.7 475.93 L554.2 475.23 L554.7 475.25 L555.2 475.70 L555.7 476.00 L556.2 475.29 L556.7 475.32 L557.2 475.23 L557.7 475.98 L558.2 476.01 L558.7 475.84 L559.2 475.76 L559.7 475.85 L560.2 475.67 L560.7 475.47 L561.2 475.77 L561.7 475.37 L562.2 475.53 L562.7 476.10 L563.2 475.96 L563.7 475.36 L564.2 475.47 L564.7 476.07 L565.2 475.76 L565.7 475.70 L566.2 475.50 L566.7 475.25 L567.2 476.00 L567.7 475.22 L568.2 476.03 L568.7 475.98 L569.2 475.53 L569.7 475.47 L570.2 475.56 L570.7 475.95 L571.2 475.31 L571.7 475.35 L572.2 475.93 L572.7 475.31 L573.2 475.25 L573.7 475.20 L574.2 475.21 L574.7 475.81 L575.2 475.28 L575.7 475.43 L576.2 475.59 L576.7 475.58 L577.2 474.97 L577.7 474.70 L578.2 474.96 L578.7 474.86 L579.2 475.21 L579.7 475.13 L580.2 474.93 L580.7 474.87 L581.2 474.40 L581.7 474.63 L582.2 474.44 L582.7 474.13 L583.2 474.05 L583.7 473.82 L584.2 474.02 L584.7 473.02 L585.2 473.70 L585.7 473.55 L586.2 473.25 L586.7 472.76 L587.2 472.58 L587.7 472.52 L588.2 472.19 L588.7 471.65 L589.2 471.69 L589.7 471.98 L590.2 471.64 L590.7 471.69 L591.2 471.40 L591.7 470.63 L592.2 471.25 L592.7 470.41 L593.2 470.92 L593.7 470.47 L594.2 470.49 L594.7 470.01 L595.2 470.51 L595.7 470.16 L596.2 470.17 L596.7 470.94 L597.2 470.74 L597.7 470.62 L598.2 470.72 L598.7 470.81 L599.2 471.22 L599.7 470.98 L600.2 471.81 L600.7 471.49 L601.2 472.29 L601.7 471.71 L602.2 472.37 L602.7 472.16 L603.2 472.72 L603.7 472.71 L604.2 473.40 L604.7 473.20 L605.2 472.92 L605.7 473.99 L606.2 473.85 L606.7 473.67 L607.2 474.17 L607.7 474.59 L608.2 474.09 L608.7 474.15 L609.2 474.48 L609.7 474.88 L610.2 475.08 L610.7 474.76 L611.2 474.66 L611.7 475.03 L612.2 474.84 L612.7 475.00 L613.2 475.56 L613.7 475.16 L614.2 475.41 L614.7 475.37 L615.2 475.67 L615.7 475.16 L616.2 475.59 L616.7 475.52 L617.2 476.05 L617.7 475.52 L618.2 475.69 L618.7 475.35 L619.2 475.70 L619.7 475.73 L620.2 475.96 L620.7 476.04 L621.2 476.09 L621.7 475.85 L622.2 476.11 L622.7 476.00 L623.2 475.60 L623.7 475.80 L624.2 476.20 L624.7 475.85 L625.2 476.20 L625.7 476.03 L626.2 476.49 L626.7 475.72 L627.2 476.38 L627.7 475.91 L628.2 476.16 L628.7 475.92 L629.2 476.40 L629.7 475.77 L630.2 476.01 L630.7 476.35 L631.2 476.52 L631.7 475.84 L632.2 476.02 L632.7 476.13 L633.2 476.39 L633.7 475.93 L634.2 476.53 L634.7 476.38 L635.2 476.34 L635.7 476.37 L636.2 476.31 L636.7 475.80 L637.2 475.85 L637.7 476.16 L638.2 476.27 L638.7 475.97 L639.2 476.09 L639.7 476.41 L640.2 476.62 L640.7 476.39 L641.2 476.14 L641.7 476.49 L642.2 476.28 L642.7 476.55 L643.2 476.06 L643.7 476.19 L644.2 476.57 L644.7 475.82 L645.2 476.52 L645.7 476.30 L646.2 476.73 L646.7 476.60 L647.2 475.98 L647.7 476.08 L648.2 476.76 L648.7 476.65 L649.2 476.63 L649.7 476.36 L650.2 476.14 L650.7 475.98 L651.2 476.34 L651.7 476.15 L652.2 476.37 L652.7 476.49 L653.2 476.14 L653.7 476.02 L654.2 476.57 L654.7 476.26 L655.2 476.59 L655.7 476.46 L656.2 475.88 L656.7 476.56 L657.2 476.63 L657.7 476.18 L658.2 475.99 L658.7 476.69 L659.2 476.66 L659.7 476.61 L660.2 476.48 L660.7 476.76 L661.2 476.14 L661.7 476.69 L662.2 476.45 L662.7 476.11 L663.2 476.54 L663.7 475.90 L664.2 476.63 L664.7 476.49 L665.2 476.32 L665.7 475.96 L666.2 475.88 L666.7 476.72 L667.2 476.23 L667.7 476.37 L668.2 476.33 L668.7 476.59 L669.2 476.08 L669.7 476.10 L670.2 476.42 L670.7 476.67 L671.2 476.29 L671.7 476.63 L672.2 476.16 L672.7 476.65 L673.2 475.96 L673.7 476.64 L674.2 476.27 L674.7 476.29 L675.2 476.42 L675.7 476.73 L676.2 476.58 L676.7 475.88 L677.2 476.66 L677.7 476.04 L678.2 475.86 L678.7 475.97 L679.2 476.52 L679.7 476.34 L680.2 475.93 L680.7 476.70 L681.2 476.51 L681.7 476.17 L682.2 476.33 L682.7 476.15 L683.2 476.27 L683.7 476.65 L684.2 476.43 L684.7 475.92 L685.2 476.51 L685.7 476.63 L686.2 476.45 L686.7 475.97 L687.2 476.64 L687.7 475.99 L688.2 476.56 L688.7 476.56 L689.2 476.18 L689.7 476.72 L690.2 476.24 L690.7 476.58 L691.2 475.88 L691.7 476.53 L692.2 475.80 L692.7 476.64 L693.2 476.25 L693.7 476.00 L694.2 476.57 L694.7 475.90 L695.2 475.84 L695.7 476.59 L696.2 476.27 L696.7 476.31 L697.2 475.69 L697.7 476.58 L698.2 476.57 L698.7 475.65 L699.2 476.56 L699.7 476.21 L700.2 475.96 L700.7 476.09 L701.2 475.69 L701.7 475.88 L702.2 475.71 L702.7 476.41 L703.2 475.89 L703.7 476.32 L704.2 476.03 L704.7 476.14 L705.2 475.81 L705.7 475.87 L706.2 475.56 L706.7 475.40 L707.2 475.97 L707.7 475.30 L708.2 475.63 L708.7 475.28 L709.2 475.84 L709.7 475.68 L710.2 475.81 L710.7 475.50 L711.2 475.76 L711.7 475.48 L712.2 474.92 L712.7 474.96 L713.2 475.39 L713.7 474.78 L714.2 474.58 L714.7 474.59 L715.2 474.75 L715.7 474.96 L716.2 474.77 L716.7 473.99 L717.2 474.49 L717.7 473.82 L718.2 474.02 L718.7 473.44 L719.2 473.74 L719.7 473.66 L720.2 473.34 L720.7 473.30 L721.2 472.90 L721.7 472.38 L722.2 473.00 L722.7 472.76 L723.2 472.18 L723.7 471.98 L724.2 471.82 L724.7 471.39 L725.2 471.32 L725.7 470.65 L726.2 471.26 L726.7 470.79 L727.2 470.05 L727.7 469.87 L728.2 470.31 L728.7 470.15 L729.2 469.84 L729.7 469.05 L730.2 468.91 L730.7 468.49 L731.2 468.31 L731.7 468.30 L732.2 468.49 L732.7 467.84 L733.2 467.81 L733.7 468.19 L734.2 467.68 L734.7 467.82 L735.2 467.98 L735.7 468.23 L736.2 467.88 L736.7 467.54 L737.2 467.65 L737.7 467.61 L738.2 468.13 L738.7 468.28 L739.2 468.17 L739.7 468.43 L740.2 468.47 L740.7 468.59 L741.2 469.12 L741.7 468.64 L742.2 468.84 L742.7 469.53 L743.2 470.02 L743.7 469.72 L744.2 469.83 L744.7 470.56 L745.2 470.48 L745.7 470.43 L746.2 470.71 L746.7 471.09 L747.2 471.32 L747.7 471.34 L748.2 471.69 L748.7 472.07 L749.2 472.45 L749.7 472.25 L750.2 472.46 L750.7 472.50 L751.2 473.53 L751.7 473.50 L752.2 473.00 L752.7 473.27 L753.2 473.33 L753.7 473.73 L754.2 473.95 L754.7 474.58 L755.2 474.71 L755.7 473.99 L756.2 474.50 L756.7 474.92 L757.2 474.27 L757.7 475.13 L758.2 474.80 L758.7 475.19 L759.2 475.34 L759.7 475.08 L760.2 474.86 L760.7 475.06 L761.2 475.01 L761.7 475.01 L762.2 475.31 L762.7 475.30 L763.2 475.79 L763.7 475.67 L764.2 475.93 L764.7 476.12 L765.2 476.08 L765.7 476.13 L766.2 475.56 L766.7 475.49 L767.2 475.50 L767.7 475.71 L768.2 476.20 L768.7 475.87 L769.2 475.89 L769.7 476.04 L770.2 475.76 L770.7 475.63 L771.2 475.70 L771.7 475.86 L772.2 475.64 L772.7 476.17 L773.2 475.69 L773.7 476.26 L774.2 476.41 L774.7 475.91 L775.2 475.59 L775.7 476.22 L776.2 475.57 L776.7 475.64 L777.2 475.57 L777.7 475.59 L778.2 475.65 L778.7 476.07 L779.2 476.41 L779.7 475.70 L780.2 475.82 L780.7 475.87 L781.2 475.87 L781.7 475.65 L782.2 476.18 L782.7 475.96 L783.2 475.49 L783.7 476.28 L784.2 475.98 L784.7 476.14 L785.2 476.31 L785.7 475.52 L786.2 476.13 L786.7 475.90 L787.2 475.51 L787.7 475.53 L788.2 475.39 L788.7 475.81 L789.2 475.37 L789.7 475.56 L790.2 476.06 L790.7 475.60 L791.2 476.05 L791.7 475.90 L792.2 475.45 L792.7 475.73 L793.2 475.09 L793.7 475.91 L794.2 475.77 L794.7 475.47 L795.2 475.13 L795.7 475.11 L796.2 474.82 L796.7 475.36 L797.2 474.72 L797.7 474.79 L798.2 474.83 L798.7 475.38 L799.2 475.25 L799.7 475.19 L800.2 474.86 L800.7 474.89 L801.2 474.24 L801.7 474.22 L802.2 474.55 L802.7 474.45 L803.2 473.67 L803.7 474.26 L804.2 474.12 L804.7 473.29 L805.2 473.21 L805.7 473.26 L806.2 473.07 L806.7 473.06 L807.2 472.75 L807.7 472.34 L808.2 472.08 L808.7 471.72 L809.2 472.20 L809.7 471.88 L810.2 471.46 L810.7 471.31 L811.2 470.82 L811.7 470.42 L812.2 470.04 L812.7 469.50 L813.2 468.91 L813.7 469.00 L814.2 468.00 L814.7 468.00 L815.2 466.97 L815.7 466.69 L816.2 465.85 L816.7 465.72 L817.2 464.87 L817.7 464.01 L818.2 462.99 L818.7 462.07 L819.2 461.41 L819.7 459.78 L820.2 458.82 L820.7 457.71 L821.2 455.80 L821.7 454.81 L822.2 453.50 L822.7 451.70 L823.2 449.83 L823.7 448.45 L824.2 445.57 L824.7 443.84 L825.2 441.21 L825.7 439.16 L826.2 436.64 L826.7 433.76 L827.2 431.52 L827.7 428.10 L828.2 425.67 L828.7 422.19 L829.2 419.00 L829.7 416.64 L830.2 413.56 L830.7 410.51 L831.2 408.39 L831.7 405.50 L832.2 402.95 L832.7 401.99 L833.2 400.30 L833.7 399.03 L834.2 398.13 L834.7 398.05 L835.2 398.69 L835.7 399.50 L836.2 400.53 L836.7 402.45 L837.2 404.21 L837.7 406.81 L838.2 409.28 L838.7 411.47 L839.2 415.08 L839.7 417.99 L840.2 421.06 L840.7 423.88 L841.2 426.63 L841.7 429.50 L842.2 432.66 L842.7 435.43 L843.2 437.24 L843.7 440.10 L844.2 442.42 L844.7 444.39 L845.2 446.76 L845.7 449.02 L846.2 450.96 L846.7 452.64 L847.2 454.18 L847.7 455.83 L848.2 456.92 L848.7 457.74 L849.2 459.30 L849.7 460.06 L850.2 461.08 L850.7 462.77 L851.2 463.56 L851.7 463.91 L852.2 465.19 L852.7 465.73 L853.2 466.17 L853.7 467.33 L854.2 467.77 L854.7 468.26 L855.2 468.67 L855.7 468.91 L856.2 469.64 L856.7 469.86 L857.2 470.56 L857.7 470.60 L858.2 470.57 L858.7 471.63 L859.2 471.63 L859.7 471.47 L860.2 471.73 L860.7 472.43 L861.2 472.27 L861.7 472.72 L862.2 472.78 L862.7 472.85 L863.2 473.02 L863.7 473.92 L864.2 473.31 L864.7 473.37 L865.2 474.07 L865.7 474.03 L866.2 474.17 L866.7 474.64 L867.2 474.84 L867.7 474.49 L868.2 474.53 L868.7 474.46 L869.2 474.56 L869.7 475.24 L870.2 474.67 L870.7 474.88 L871.2 475.11 L871.7 474.97 L872.2 475.11 L872.7 475.50 L873.2 475.65 L873.7 475.45 L874.2 475.23 L874.7 475.68 L875.2 476.02 L875.7 476.14 L876.2 475.39 L876.7 475.91 L877.2 476.25 L877.7 476.31 L878.2 476.41 L878.7 476.42 L879.2 476.20 L879.7 475.82 L880.2 475.89 L880.7 476.48 L881.2 476.07 L881.7 475.93 L882.2 476.32 L882.7 476.43 L883.2 476.63 L883.7 475.95 L884.2 475.95 L884.7 476.50 L885.2 476.78 L885.7 476.27 L886.2 476.46 L886.7 476.29 L887.2 476.53 L887.7 476.74 L888.2 476.52 L888.7 476.97 L889.2 476.79 L889.7 476.76 L890.2 476.23 L890.7 476.57 L891.2 476.37 L891.7 476.30 L892.2 476.94 L892.7 477.13 L893.2 476.98 L893.7 476.66 L894.2 476.71 L894.7 476.87 L895.2 476.31 L895.7 476.32 L896.2 477.24 L896.7 476.54 L897.2 476.61 L897.7 477.03 L898.2 476.49 L898.7 476.91 L899.2 476.70 L899.7 476.93 L900.2 476.85 L900.7 477.02 L901.2 477.18 L901.7 476.94 L902.2 476.54 L902.7 476.52 L903.2 476.98 L903.7 477.22 L904.2 476.77 L904.7 477.16 L905.2 476.97 L905.7 476.94 L906.2 477.32 L906.7 477.06 L907.2 477.42 L907.7 477.41 L908.2 476.72 L908.7 477.12 L909.2 476.75 L909.7 477.23 L910.2 476.90 L910.7 476.96 L911.2 477.07 L911.7 476.70 L912.2 477.07 L912.7 477.03 L913.2 477.31 L913.7 477.46 L914.2 477.25 L914.7 477.11 L915.2 476.73 L915.7 476.96 L916.2 477.34 L916.7 476.72 L917.2 477.47 L917.7 476.91 L918.2 477.49 L918.7 477.15 L919.2 477.16 L919.7 476.67 L920.2 477.04 L920.7 477.00 L921.2 477.55 L921.7 476.73 L922.2 477.02 L922.7 477.20 L923.2 477.19 L923.7 476.94 L924.2 477.22 L924.7 477.24 L925.2 476.91 L925.7 476.99 L926.2 476.88 L926.7 476.73 L927.2 477.22 L927.7 477.02 L928.2 477.31 L928.7 476.86 L929.2 477.20 L929.7 477.00 L930.2 477.20 L930.7 477.48 L931.2 477.03 L931.7 477.29 L932.2 476.81 L932.7 477.26 L933.2 476.78 L933.7 477.52 L934.2 476.93 L934.7 477.42 L935.2 477.64 L935.7 476.86 L936.2 477.55 L936.7 477.13 L937.2 476.89 L937.7 476.94 L938.2 477.44 L938.7 477.48 L939.2 477.43 L939.7 477.06 L940.2 477.23 L940.7 477.12 L941.2 477.34 L941.7 477.05 L942.2 476.77 L942.7 477.60 L943.2 477.66 L943.7 477.66 L944.2 477.17 L944.7 476.89 L945.2 477.64 L945.7 477.22 L946.2 477.45 L946.7 477.40 L947.2 476.78 L947.7 477.41 L948.2 476.93 L948.7 477.11 L949.2 477.37 L949.7 477.19 L950.2 477.63 L950.7 476.82 L951.2 477.45 L951.7 477.56 L952.2 477.42 L952.7 477.17 L953.2 477.24 L953.7 477.22 L954.2 477.43 L954.7 477.02 L955.2 477.07 L955.7 477.08 L956.2 477.28 L956.7 477.53 L957.2 477.57 L957.7 476.80 L958.2 476.79 L958.7 477.11 L959.2 477.27 L959.7 476.85 L960.2 477.32 L960.7 477.06 L961.2 476.93 L961.7 477.18 L962.2 477.33 L962.7 477.50 L963.2 477.26 L963.7 477.00 L964.2 477.36 L964.7 476.70 L965.2 477.51 L965.7 477.22 L966.2 477.56 L966.7 476.66 L967.2 477.29 L967.7 476.97 L968.2 477.09 L968.7 477.30 L969.2 477.34 L969.7 477.11 L970.2 477.09 L970.7 476.81 L971.2 477.53 L971.7 477.01 L972.2 476.75 L972.7 476.63 L973.2 476.74 L973.7 476.68 L974.2 477.18 L974.7 477.29 L975.2 477.02 L975.7 476.90 L976.2 476.95 L976.7 477.34 L977.2 477.43 L977.7 476.66 L978.2 477.39 L978.7 476.68 L979.2 476.77 L979.7 476.63 L980.2 476.70 L980.7 477.04 L981.2 476.90 L981.7 477.04 L982.2 476.87 L982.7 476.45 L983.2 476.75 L983.7 477.27 L984.2 477.26 L984.7 476.81 L985.2 476.63 L985.7 477.17 L986.2 477.08 L986.7 476.82 L987.2 476.73 L987.7 476.63 L988.2 476.52 L988.7 476.41 L989.2 476.28 L989.7 476.25 L990.2 476.52 L990.7 476.86 L991.2 476.14 L991.7 476.18 L992.2 476.42 L992.7 476.49 L993.2 476.09 L993.7 476.22 L994.2 476.60 L994.7 475.88 L995.2 476.68 L995.7 475.81 L996.2 476.58 L996.7 476.47 L997.2 476.53 L997.7 476.04 L998.2 475.89 L998.7 475.60 L999.2 475.70 L999.7 476.34 L1000.2 476.14 L1000.7 475.60 L1001.2 475.88 L1001.7 475.31 L1002.2 475.41 L1002.7 475.84 L1003.2 475.89 L1003.7 475.40 L1004.2 475.53 L1004.7 474.88 L1005.2 474.97 L1005.7 474.65 L1006.2 474.55 L1006.7 474.62 L1007.2 474.82 L1007.7 474.79 L1008.2 474.69 L1008.7 474.41 L1009.2 474.65 L1009.7 474.48 L1010.2 473.89 L1010.7 474.12 L1011.2 473.47 L1011.7 472.96 L1012.2 473.05 L1012.7 473.14 L1013.2 472.69 L1013.7 472.92 L1014.2 472.30 L1014.7 471.73 L1015.2 472.01 L1015.7 471.16 L1016.2 471.13 L1016.7 470.53 L1017.2 470.95 L1017.7 470.00 L1018.2 469.92 L1018.7 469.51 L1019.2 468.77 L1019.7 468.15 L1020.2 468.06 L1020.7 467.18 L1021.2 466.94 L1021.7 465.96 L1022.2 465.57 L1022.7 464.77 L1023.2 464.52 L1023.7 463.17 L1024.2 462.45 L1024.7 461.39 L1025.2 460.43 L1025.7 459.39 L1026.2 457.95 L1026.7 457.11 L1027.2 455.74 L1027.7 454.88 L1028.2 452.82 L1028.7 451.76 L1029.2 449.60 L1029.7 448.24 L1030.2 446.70 L1030.7 444.63 L1031.2 443.01 L1031.7 440.58 L1032.2 438.87 L1032.7 436.48 L1033.2 435.00 L1033.7 432.64 L1034.2 430.83 L1034.7 428.90 L1035.2 427.17 L1035.7 424.87 L1036.2 423.63 L1036.7 421.91 L1037.2 420.87 L1037.7 419.53 L1038.2 419.12 L1038.7 418.59 L1039.2 418.27 L1039.7 418.17 L1040.2 418.35 L1040.7 418.67 L1041.2 419.67 L1041.7 421.24 L1042.2 422.18 L1042.7 423.47 L1043.2 425.07 L1043.7 427.25 L1044.2 428.91 L1044.7 431.50 L1045.2 432.72 L1045.7 435.39 L1046.2 437.06 L1046.7 439.46 L1047.2 441.39 L1047.7 443.43 L1048.2 445.33 L1048.7 447.13 L1049.2 448.67 L1049.7 450.50 L1050.2 452.33 L1050.7 453.33 L1051.2 454.70 L1051.7 456.03 L1052.2 457.54 L1052.7 458.40 L1053.2 459.42 L1053.7 460.93 L1054.2 461.84 L1054.7 462.28 L1055.2 463.68 L1055.7 464.56 L1056.2 464.72 L1056.7 465.96 L1057.2 466.02 L1057.7 466.51 L1058.2 467.85 L1058.7 468.43 L1059.2 468.12 L1059.7 469.08 L1060.2 469.22 L1060.7 469.37 L1061.2 470.37 L1061.7 470.14 L1062.2 470.59 L1062.7 471.08 L1063.2 471.45 L1063.7 471.62 L1064.2 472.27 L1064.7 471.89 L1065.2 472.21 L1065.7 472.60 L1066.2 473.28 L1066.7 473.16 L1067.2 473.45 L1067.7 473.13 L1068.2 473.36 L1068.7 473.72 L1069.2 473.96 L1069.7 473.74 L1070.2 473.75 L1070.7 473.99 L1071.2 474.24 L1071.7 474.08 L1072.2 474.80 L1072.7 474.50 L1073.2 474.93 L1073.7 474.92 L1074.2 474.81 L1074.7 474.97 L1075.2 474.97 L1075.7 475.13 L1076.2 474.97 L1076.7 475.38 L1077.2 474.95 L1077.7 475.64 L1078.2 475.62 L1078.7 474.89 L1079.2 474.91 L1079.7 475.51 L1080.2 474.99 L1080.7 475.38 L1081.2 475.12 L1081.7 475.66 L1082.2 475.79 L1082.7 475.59 L1083.2 475.59 L1083.7 475.30 L1084.2 475.33 L1084.7 475.09 L1085.2 475.60 L1085.7 475.37 L1086.2 475.12 L1086.7 474.99 L1087.2 474.90 L1087.7 474.50 L1088.2 474.36 L1088.7 474.37 L1089.2 473.90 L1089.7 474.02 L1090.2 473.64 L1090.7 473.60 L1091.2 473.21 L1091.7 473.50 L1092.2 472.85 L1092.7 472.39 L1093.2 472.76 L1093.7 472.31 L1094.2 471.31 L1094.7 470.90 L1095.2 470.80 L1095.7 470.28 L1096.2 470.38 L1096.7 469.91 L1097.2 469.90 L1097.7 469.03 L1098.2 469.01 L1098.7 468.04 L1099.2 468.30 L1099.7 467.23 L1100.2 467.62 L1100.7 466.63 L1101.2 466.79 L1101.7 466.64 L1102.2 466.10 L1102.7 466.22 L1103.2 466.49 L1103.7 465.97 L1104.2 466.96 L1104.7 467.01 L1105.2 466.81 L1105.7 467.38 L1106.2 467.22 L1106.7 467.39 L1107.2 468.14 L1107.7 468.58 L1108.2 468.60 L1108.7 469.23 L1109.2 469.83 L1109.7 469.82 L1110.2 470.33 L1110.7 470.53 L1111.2 471.11 L1111.7 471.29 L1112.2 471.48 L1112.7 472.64 L1113.2 472.41 L1113.7 472.62 L1114.2 473.25 L1114.7 473.85 L1115.2 473.65 L1115.7 474.03 L1116.2 474.44 L1116.7 475.01 L1117.2 475.23 L1117.7 475.30 L1118.2 475.29 L1118.7 475.18 L1119.2 475.90 L1119.7 475.76 L1120.2 475.86 L1120.7 475.53 L1121.2 476.09 L1121.7 476.22 L1122.2 475.99 L1122.7 476.24 L1123.2 476.65 L1123.7 476.87 L1124.2 476.74 L1124.7 476.10 L1125.2 476.67 L1125.7 476.60 L1126.2 476.81 L1126.7 476.51 L1127.2 477.06 L1127.7 477.03 L1128.2 477.15 L1128.7 476.83 L1129.2 477.21 L1129.7 477.17 L1130.2 476.50 L1130.7 476.73 L1131.2 476.68 L1131.7 477.21 L1132.2 476.82 L1132.7 476.82 L1133.2 477.05 L1133.7 476.69 L1134.2 477.28 L1134.7 477.49 L1135.2 476.85 L1135.7 477.46 L1136.2 476.77 L1136.7 477.11 L1137.2 476.96 L1137.7 477.50 L1138.2 476.83 L1138.7 477.61 L1139.2 477.51 L1139.7 476.80 L1140.2 477.16 L1140.7 476.96 L1141.2 477.10 L1141.7 477.34 L1142.2 477.17 L1142.7 477.34 L1143.2 477.00 L1143.7 477.22 L1144.2 477.71 L1144.7 477.67 L1145.2 477.66 L1145.7 477.32 L1146.2 477.18 L1146.7 477.40 L1147.2 477.24 L1147.7 477.01 L1148.2 477.17 L1148.7 476.87 L1149.2 477.56 L1149.7 476.87 L1150.2 476.84 L1150.7 476.87 L1151.2 477.63 L1151.7 477.19 L1152.2 477.60 L1152.7 477.07 L1153.2 477.72 L1153.7 477.66 L1154.2 477.37 L1154.7 477.11 L1155.2 477.15 L1155.7 477.65 L1156.2 477.26 L1156.7 476.85 L1157.2 476.85 L1157.7 476.86 L1158.2 477.08 L1158.7 477.38 L1159.2 477.42 L1159.7 477.38 L1160.2 477.22 L1160.7 476.77 L1161.2 476.99 L1161.7 477.40 L1162.2 476.79 L1162.7 477.34 L1163.2 476.84 L1163.7 477.06 L1164.2 477.43 L1164.7 477.12 L1165.2 476.78 L1165.7 477.42 L1166.2 476.80 L1166.7 477.03 L1167.2 476.62 L1167.7 477.13 L1168.2 476.62 L1168.7 476.36 L1169.2 476.90 L1169.7 477.11 L1170.2 476.73 L1170.7 476.57 L1171.2 476.78 L1171.7 476.09 L1172.2 476.52 L1172.7 475.90 L1173.2 475.96 L1173.7 475.92 L1174.2 476.13 L1174.7 476.29 L1175.2 475.90 L1175.7 475.41 L1176.2 475.78 L1176.7 475.35 L1177.2 475.41 L1177.7 475.24 L1178.2 475.69 L1178.7 475.42 L1179.2 475.06 L1179.7 475.11 L1180.2 475.25 L1180.7 475.02 L1181.2 474.56 L1181.7 474.55 L1182.2 474.62 L1182.7 474.66 L1183.2 474.45 L1183.7 474.18 L1184.2 474.21 L1184.7 473.61 L1185.2 474.13 L1185.7 473.91 L1186.2 473.24 L1186.7 473.16 L1187.2 473.72 L1187.7 473.29 L1188.2 473.77 L1188.7 473.21 L1189.2 472.87 L1189.7 473.34 L1190.2 472.78 L1190.7 472.74 L1191.2 472.87 L1191.7 473.43 L1192.2 473.51 L1192.7 473.24 L1193.2 473.47 L1193.7 473.89 L1194.2 473.84 L1194.7 473.51 L1195.2 473.87 L1195.7 473.72 L1196.2 474.37 L1196.7 473.76 L1197.2 474.33 L1197.7 474.10 L1198.2 474.46 L1198.7 474.35 L1199.2 474.81 L1199.7 474.73 L1200.2 475.00 L1200.7 474.65 L1201.2 474.84 L1201.7 474.88 L1202.2 474.93 L1202.7 475.67 L1203.2 475.13 L1203.7 475.47 L1204.2 476.17 L1204.7 476.32 L1205.2 475.73 L1205.7 475.71 L1206.2 475.97 L1206.7 476.60 L1207.2 476.27 L1207.7 476.45 L1208.2 476.06 L1208.7 476.32 L1209.2 476.28 L1209.7 476.96 L1210.2 477.11 L1210.7 476.89 L1211.2 476.57 L1211.7 477.26 L1212.2 476.66 L1212.7 477.00 L1213.2 477.18 L1213.7 477.17 L1214.2 477.00 L1214.7 476.97 L1215.2 476.94 L1215.7 477.47 L1216.2 476.96 L1216.7 477.21 L1217.2 477.13 L1217.7 477.49 L1218.2 477.06 L1218.7 476.98 L1219.2 477.62 L1219.7 477.07 L1220.2 477.37 L1220.7 477.57 L1221.2 477.23 L1221.7 477.39 L1222.2 477.09 L1222.7 477.96 L1223.2 477.09 L1223.7 477.31 L1224.2 477.42 L1224.7 477.59 L1225.2 477.29 L1225.7 477.54 L1226.2 477.76 L1226.7 477.52 L1227.2 477.85 L1227.7 477.25 L1228.2 477.14 L1228.7 478.00 L1229.2 477.40 L1229.7 477.57 L1230.2 477.30 L1230.7 477.85 L1231.2 477.28 L1231.7 477.22 L1232.2 477.20 L1232.7 477.79 L1233.2 478.11 L1233.7 477.70 L1234.2 477.57 L1234.7 477.75 L1235.2 478.06 L1235.7 477.30 L1236.2 477.93 L1236.7 477.30 L1237.2 477.23 L1237.7 477.85 L1238.2 477.28 L1238.7 477.58 L1239.2 477.53 L1239.7 477.84 L1240.2 477.67 L1240.7 477.89 L1241.2 477.67 L1241.7 477.70 L1242.2 477.72 L1242.7 477.68 L1243.2 477.27 L1243.7 477.65 L1244.2 477.88 L1244.7 477.40 L1245.2 477.85 L1245.7 478.12 L1246.2 477.96 L1246.7 477.93 L1247.2 477.52 L1247.7 478.16 L1248.2 477.29 L1248.7 477.42 L1249.2 477.90 L1249.7 477.55 L1250.2 478.00 L1250.7 477.46 L1251.2 478.03 L1251.7 477.98 L1252.2 477.60 L1252.7 477.85 L1253.2 477.92 L1253.7 477.34 L1254.2 478.17 L1254.7 478.24 L1255.2 477.87 L1255.7 477.55 L1256.2 478.12 L1256.7 477.79 L1257.2 477.93 L1257.7 478.24 L1258.2 477.49 L1258.7 477.46 L1259.2 478.00 L1259.7 477.89 L1260.2 477.50 L1260.7 477.33 L1261.2 477.92 L1261.7 477.52 L1262.2 477.97 L1262.7 477.75 L1263.2 477.37 L1263.7 477.48 L1264.2 477.81 L1264.7 477.72 L1265.2 477.60 L1265.7 478.20 L1266.2 477.94 L1266.7 478.01 L1267.2 477.74 L1267.7 477.70 L1268.2 477.56 L1268.7 478.09 L1269.2 477.44 L1269.7 477.44 L1270.2 477.89 L1270.7 478.19 L1271.2 477.49 L1271.7 477.64 L1272.2 477.71 L1272.7 477.53 L1273.2 478.02 L1273.7 478.19 L1274.2 477.78 L1274.7 477.54 L1275.2 477.80 L1275.7 478.03 L1276.2 477.41 L1276.7 477.85 L1277.2 478.03 L1277.7 477.83 L1278.2 477.80 L1278.7 477.92 L1279.2 478.14 L1279.7 478.03 L1280.2 478.23 L1280.7 478.26 L1281.2 477.42 L1281.7 478.26 L1282.2 477.52 L1282.7 477.62 L1283.2 477.67 L1283.7 478.09 L1284.2 477.44 L1284.7 477.36 L1285.2 477.51 L1285.7 478.00 L1286.2 477.44 L1286.7 477.57 L1287.2 477.76 L1287.7 477.72 L1288.2 477.84 L1288.7 477.60 L1289.2 478.06 L1289.7 477.74 L1290.2 477.69 L1290.7 477.38 L1291.2 477.31 L1291.7 477.62 L1292.2 477.87 L1292.7 478.01 L1293.2 477.64 L1293.7 477.89 L1294.2 477.48 L1294.7 477.31 L1295.2 477.40 L1295.7 477.72 L1296.2 477.51 L1296.7 477.57 L1297.2 477.33 L1297.7 477.96 L1298.2 477.57 L1298.7 477.81 L1299.2 477.60 L1299.7 477.36 L1300.2 477.65 L1300.7 478.06 L1301.2 477.95 L1301.7 477.28 L1302.2 477.61 L1302.7 477.34 L1303.2 478.00 L1303.7 477.69 L1304.2 477.88 L1304.7 477.80 L1305.2 477.59 L1305.7 477.66 L1306.2 478.06 L1306.7 477.82 L1307.2 477.43 L1307.7 477.37 L1308.2 477.29 L1308.7 477.37 L1309.2 477.52 L1309.7 477.62 L1310.2 477.74 L1310.7 477.37 L1311.2 477.83 L1311.7 477.52 L1312.2 477.55 L1312.7 477.17 L1313.2 477.09 L1313.7 477.44 L1314.2 477.46 L1314.7 477.85 L1315.2 477.56 L1315.7 477.16 L1316.2 477.45 L1316.7 476.93 L1317.2 477.17 L1317.7 477.63 L1318.2 477.32 L1318.7 477.54 L1319.2 477.55 L1319.7 477.38 L1320.2 476.82 L1320.7 477.29 L1321.2 477.17 L1321.7 476.46 L1322.2 477.07 L1322.7 476.49 L1323.2 476.37 L1323.7 476.91 L1324.2 475.95 L1324.7 475.88 L1325.2 476.57 L1325.7 475.72 L1326.2 475.73 L1326.7 475.35 L1327.2 475.04 L1327.7 475.08 L1328.2 474.89 L1328.7 474.50 L1329.2 474.80 L1329.7 474.15 L1330.2 474.44 L1330.7 473.88 L1331.2 473.82 L1331.7 473.01 L1332.2 472.98 L1332.7 472.92 L1333.2 472.54 L1333.7 472.40 L1334.2 471.53 L1334.7 471.28 L1335.2 471.19 L1335.7 470.57 L1336.2 470.73 L1336.7 469.69 L1337.2 469.66 L1337.7 469.17 L1338.2 468.71 L1338.7 468.61 L1339.2 468.89 L1339.7 468.52 L1340.2 468.16 L1340.7 468.45 L1341.2 468.01 L1341.7 467.53 L1342.2 467.89 L1342.7 468.25 L1343.2 467.98 L1343.7 467.79 L1344.2 467.62 L1344.7 468.30 L1345.2 468.36 L1345.7 469.01 L1346.2 469.30 L1346.7 468.87 L1347.2 469.22 L1347.7 470.17 L1348.2 470.23 L1348.7 470.48 L1349.2 471.17 L1349.7 471.19 L1350.2 471.68 L1350.7 472.23 L1351.2 472.31 L1351.7 472.01 L1352.2 472.33 L1352.7 473.50 L1353.2 473.42 L1353.7 473.43 L1354.2 473.58 L1354.7 473.88 L1355.2 474.69 L1355.7 474.76 L1356.2 474.54 L1356.7 474.83 L1357.2 475.05 L1357.7 475.76 L1358.2 475.63 L1358.7 475.48 L1359.2 475.72 L1359.7 475.98 L1360.2 475.89 L1360.7 476.83 L1361.2 476.44 L1361.7 476.36 L1362.2 476.90 L1362.7 477.27 L1363.2 477.04 L1363.7 477.36 L1364.2 476.62 L1364.7 476.95 L1365.2 477.26 L1365.7 477.35 L1366.2 477.05 L1366.7 477.10 L1367.2 477.14 L1367.7 477.20 L1368.2 477.78 L1368.7 477.31 L1369.2 477.49 L1369.7 477.83 L1370.2 477.78 L1370.7 477.73 L1371.2 477.76 L1371.7 477.22 L1372.2 477.32 L1372.7 477.93 L1373.2 477.99 L1373.7 477.39 L1374.2 477.78 L1374.7 478.03 L1375.2 477.39 L1375.7 477.68 L1376.2 477.76 L1376.7 477.64 L1377.2 477.38 L1377.7 478.03 L1378.2 477.78 L1378.7 478.08 L1379.2 477.26 L1379.7 477.90 L1380.2 477.34 L1380.7 477.32 L1381.2 477.52 L1381.7 478.05 L1382.2 477.48 L1382.7 478.19 L1383.2 477.70 L1383.7 477.81 L1384.2 478.20 L1384.7 477.85 L1385.2 477.92 L1385.7 478.21 L1386.2 478.13 L1386.7 477.50 L1387.2 477.95 L1387.7 477.85 L1388.2 478.11 L1388.7 477.41 L1389.2 477.89 L1389.7 478.03 L1390.2 477.76 L1390.7 477.82 L1391.2 478.22 L1391.7 477.43 L1392.2 478.02 L1392.7 477.58 L1393.2 478.14 L1393.7 478.06 L1394.2 477.72 L1394.7 478.20 L1395.2 477.79 L1395.7 477.40 L1396.2 477.60 L1396.7 477.68 L1397.2 477.49 L1397.7 477.94 L1398.2 478.25 L1398.7 478.01 L1399.2 478.28 L1399.7 477.89 L1400.2 477.68 L1400.7 478.09 L1401.2 477.43 L1401.7 477.62 L1402.2 477.86 L1402.7 478.11 L1403.2 478.05 L1403.7 477.47 L1404.2 478.32 L1404.7 477.42 L1405.2 477.51 L1405.7 477.85 L1406.2 478.06 L1406.7 477.68 L1407.2 477.93 L1407.7 477.85 L1408.2 477.97 L1408.7 477.63 L1409.2 478.27 L1409.7 478.12 L1410.2 477.41 L1410.7 477.44 L1411.2 478.09 L1411.7 477.73 L1412.2 478.28 L1412.7 477.67 L1413.2 477.74 L1413.7 477.59 L1414.2 477.93 L1414.7 477.58 L1415.2 478.11 L1415.7 478.24 L1416.2 477.50 L1416.7 477.72 L1417.2 478.26 L1417.7 477.45 L1418.2 478.27 L1418.7 477.52 L1419.2 477.58 L1419.7 478.11 L1420.2 478.03 L1420.7 477.66 L1421.2 477.94 L1421.7 477.74 L1422.2 477.35 L1422.7 477.77 L1423.2 478.07 L1423.7 477.74 L1424.2 477.59 L1424.7 477.82 L1425.2 477.68 L1425.7 478.21 L1426.2 477.35 L1426.7 478.17 L1427.2 477.71 L1427.7 477.72 L1428.2 477.65 L1428.7 477.68 L1429.2 477.37 L1429.7 477.49 L1430.2 477.86 L1430.7 477.63 L1431.2 477.96 L1431.7 477.43 L1432.2 477.96 L1432.7 477.97 L1433.2 477.65 L1433.7 477.63 L1434.2 477.53 L1434.7 477.90 L1435.2 477.76 L1435.7 477.27 L1436.2 477.80 L1436.7 477.24 L1437.2 477.45 L1437.7 477.86 L1438.2 477.69 L1438.7 477.28 L1439.2 477.28 L1439.7 477.22 L1440.2 477.05 L1440.7 477.75 L1441.2 477.37 L1441.7 477.27 L1442.2 476.99 L1442.7 477.74 L1443.2 477.18 L1443.7 477.34 L1444.2 477.01 L1444.7 477.05 L1445.2 477.16 L1445.7 477.02 L1446.2 477.39 L1446.7 476.73 L1447.2 477.54 L1447.7 476.90 L1448.2 476.78 L1448.7 476.74 L1449.2 477.36 L1449.7 477.09 L1450.2 477.21 L1450.7 476.86 L1451.2 476.55 L1451.7 476.48 L1452.2 477.31 L1452.7 476.76 L1453.2 476.69 L1453.7 476.40 L1454.2 477.03 L1454.7 477.13 L1455.2 476.52 L1455.7 476.32 L1456.2 476.75 L1456.7 476.28 L1457.2 476.23 L1457.7 476.88 L1458.2 476.75 L1458.7 476.87 L1459.2 476.17 L1459.7 476.73 L1460.2 476.25 L1460.7 476.35 L1461.2 475.99 L1461.7 475.99 L1462.2 475.96 L1462.7 476.21 L1463.2 476.28 L1463.7 475.74 L1464.2 475.90 L1464.7 476.05 L1465.2 476.39 L1465.7 476.30 L1466.2 475.85 L1466.7 476.32 L1467.2 476.34 L1467.7 475.83 L1468.2 475.63 L1468.7 475.59 L1469.2 475.82 L1469.7 475.76 L1470.2 476.04 L1470.7 475.47 L1471.2 475.90 L1471.7 475.36 L1472.2 475.44 L1472.7 475.55 L1473.2 475.96 L1473.7 475.22 L1474.2 475.20 L1474.7 475.83 L1475.2 475.35 L1475.7 475.28 L1476.2 475.48 L1476.7 475.76 L1477.2 475.10 L1477.7 475.67 L1478.2 475.73 L1478.7 475.67 L1479.2 475.55 L1479.7 475.54 L1480.2 475.07 L1480.7 475.74 L1481.2 475.64 L1481.7 474.96 L1482.2 475.17 L1482.7 474.91 L1483.2 474.92 L1483.7 475.65 L1484.2 475.57 L1484.7 474.88 L1485.2 475.12 L1485.7 474.82 L1486.2 474.97 L1486.7 475.34 L1487.2 475.23 L1487.7 475.34 L1488.2 475.14 L1488.7 474.76 L1489.2 474.49 L1489.7 474.92 L1490.2 474.28 L1490.7 474.05 L1491.2 474.59 L1491.7 473.92 L1492.2 474.24 L1492.7 473.46 L1493.2 473.51 L1493.7 473.63 L1494.2 473.48 L1494.7 473.00 L1495.2 473.04 L1495.7 472.60 L1496.2 472.64 L1496.7 471.77 L1497.2 471.97 L1497.7 471.50 L1498.2 470.81 L1498.7 470.66 L1499.2 469.83 L1499.7 470.09 L1500.2 469.58 L1500.7 468.69 L1501.2 468.30 L1501.7 468.10 L1502.2 466.71 L1502.7 466.92 L1503.2 466.50 L1503.7 465.87 L1504.2 464.71 L1504.7 464.35 L1505.2 463.52 L1505.7 463.57 L1506.2 462.91 L1506.7 461.85 L1507.2 461.33 L1507.7 460.53 L1508.2 460.40 L1508.7 460.16 L1509.2 459.76 L1509.7 458.86 L1510.2 459.00 L1510.7 458.58 L1511.2 457.91 L1511.7 458.19 L1512.2 457.92 L1512.7 458.33 L1513.2 458.27 L1513.7 457.92 L1514.2 458.42 L1514.7 458.55 L1515.2 459.22 L1515.7 459.30 L1516.2 460.27 L1516.7 460.33 L1517.2 460.69 L1517.7 461.79 L1518.2 462.12 L1518.7 462.34 L1519.2 463.21 L1519.7 463.59 L1520.2 463.94 L1520.7 464.65 L1521.2 465.81 L1521.7 466.52 L1522.2 466.62 L1522.7 467.54 L1523.2 467.80 L1523.7 468.32 L1524.2 469.10 L1524.7 469.94 L1525.2 469.72 L1525.7 470.99 L1526.2 470.73 L1526.7 471.17 L1527.2 471.62 L1527.7 472.36 L1528.2 472.19 L1528.7 473.08 L1529.2 473.32 L1529.7 473.87 L1530.2 473.62 L1530.7 473.88 L1531.2 473.83 L1531.7 474.80 L1532.2 474.53 L1532.7 474.72 L1533.2 474.72 L1533.7 475.18 L1534.2 474.94 L1534.7 475.64 L1535.2 475.08 L1535.7 475.92 L1536.2 475.75 L1536.7 475.61 L1537.2 475.58 L1537.7 475.92 L1538.2 475.38 L1538.7 475.93 L1539.2 475.52 L1539.7 475.81 L1540.2 476.23 L1540.7 475.76 L1541.2 475.71 L1541.7 475.62 L1542.2 476.04 L1542.7 475.50 L1543.2 475.46 L1543.7 475.60 L1544.2 474.99 L1544.7 475.30 L1545.2 475.06 L1545.7 475.51 L1546.2 475.36 L1546.7 475.13 L1547.2 474.95 L1547.7 474.36 L1548.2 474.35 L1548.7 474.66 L1549.2 474.46 L1549.7 473.61 L1550.2 473.74 L1550.7 473.59 L1551.2 473.57 L1551.7 472.98 L1552.2 472.61 L1552.7 472.38 L1553.2 472.20 L1553.7 471.60 L1554.2 471.99 L1554.7 471.33 L1555.2 471.35 L1555.7 471.01 L1556.2 470.09 L1556.7 469.72 L1557.2 469.48 L1557.7 469.14 L1558.2 469.00 L1558.7 468.47 L1559.2 468.66 L1559.7 467.97 L1560.2 468.01 L1560.7 467.74 L1561.2 467.12 L1561.7 466.55 L1562.2 466.59 L1562.7 466.39 L1563.2 466.46 L1563.7 465.87 L1564.2 465.57 L1564.7 466.00 L1565.2 465.69 L1565.7 465.32 L1566.2 464.99 L1566.7 465.12 L1567.2 464.83 L1567.7 465.37 L1568.2 464.89 L1568.7 465.64 L1569.2 465.25 L1569.7 465.83 L1570.2 465.45 L1570.7 465.85 L1571.2 466.09 L1571.7 466.07 L1572.2 466.73 L1572.7 466.69 L1573.2 467.68 L1573.7 467.25 L1574.2 467.72 L1574.7 468.23 L1575.2 468.88 L1575.7 468.57 L1576.2 469.30 L1576.7 469.20 L1577.2 469.71 L1577.7 470.67 L1578.2 470.75 L1578.7 471.28 L1579.2 471.01 L1579.7 471.17 L1580.2 471.76 L1580.7 472.23 L1581.2 472.59 L1581.7 472.97 L1582.2 473.41 L1582.7 473.07 L1583.2 473.30 L1583.7 473.49 L1584.2 474.36 L1584.7 473.91 L1585.2 474.76 L1585.7 474.88 L1586.2 474.40 L1586.7 474.89 L1587.2 474.92 L1587.7 475.62 L1588.2 475.98 L1588.7 475.55 L1589.2 475.38 L1589.7 475.85 L1590.2 476.04 L1590.7 475.70 L1591.2 476.70 L1591.7 476.18 L1592.2 476.90 L1592.7 476.77 L1593.2 476.50 L1593.7 476.88 L1594.2 476.69 L1594.7 476.57 L1595.2 476.82 L1595.7 477.17 L1596.2 476.67 L1596.7 477.43 L1597.2 477.09 L1597.7 476.67 L1598.2 476.93 L1598.7 476.78 L1599.2 477.61 L1599.7 477.65 L1600.2 477.33 L1600.7 477.06 L1601.2 477.26 L1601.7 477.57 L1602.2 477.58 L1602.7 477.16 L1603.2 477.41 L1603.7 477.89 L1604.2 477.73 L1604.7 477.83 L1605.2 477.42 L1605.7 477.73 L1606.2 477.94 L1606.7 477.20 L1607.2 477.27 L1607.7 477.70 L1608.2 477.33 L1608.7 477.94 L1609.2 478.00 L1609.7 477.42 L1610.2 477.87 L1610.7 477.64 L1611.2 477.98 L1611.7 477.63 L1612.2 477.77 L1612.7 478.05 L1613.2 477.32 L1613.7 477.58 L1614.2 477.52 L1614.7 477.50 L1615.2 477.92 L1615.7 477.74 L1616.2 477.62 L1616.7 477.45 L1617.2 477.58 L1617.7 477.50 L1618.2 477.83 L1618.7 477.42 L1619.2 477.36 L1619.7 477.81 L1620.2 477.77 L1620.7 477.34 L1621.2 477.90 L1621.7 477.39 L1622.2 478.09 L1622.7 478.03 L1623.2 477.33 L1623.7 477.55 L1624.2 477.54 L1624.7 477.79 L1625.2 477.87 L1625.7 477.41 L1626.2 478.02 L1626.7 477.95 L1627.2 477.53 L1627.7 477.44 L1628.2 478.17 L1628.7 478.06 L1629.2 477.47 L1629.7 477.63 L1630.2 477.52 L1630.7 477.64 L1631.2 477.77 L1631.7 478.20 L1632.2 477.71 L1632.7 477.74 L1633.2 477.55 L1633.7 478.04 L1634.2 477.72 L1634.7 477.74 L1635.2 477.85 L1635.7 478.10 L1636.2 477.93 L1636.7 478.01 L1637.2 477.97 L1637.7 478.13 L1638.2 478.10 L1638.7 477.45 L1639.2 477.70 L1639.7 478.10 L1640.2 477.92 L1640.7 477.86 L1641.2 478.12 L1641.7 478.09 L1642.2 477.79 L1642.7 477.56 L1643.2 478.08 L1643.7 478.01 L1644.2 478.30 L1644.7 477.44 L1645.2 477.69 L1645.7 477.72 L1646.2 477.65 L1646.7 477.75 L1647.2 478.36 L1647.7 478.06 L1648.2 477.74 L1648.7 478.29 L1649.2 477.99 L1649.7 477.84 L1650.2 478.37 L1650.7 477.47 L1651.2 478.03 L1651.7 477.89 L1652.2 477.68 L1652.7 477.50 L1653.2 477.86 L1653.7 477.49 L1654.2 477.76 L1654.7 478.39 L1655.2 478.06 L1655.7 477.48 L1656.2 478.05 L1656.7 478.13 L1657.2 478.07 L1657.7 477.88 L1658.2 478.27 L1658.7 478.00 L1659.2 477.60 L1659.7 477.62 L1660.2 477.72 L1660.7 478.29 L1661.2 478.20 L1661.7 478.13 L1662.2 477.93 L1662.7 477.54 L1663.2 478.16 L1663.7 478.29 L1664.2 477.52 L1664.7 478.22 L1665.2 478.18 L1665.7 478.40 L1666.2 477.63 L1666.7 478.29 L1667.2 477.75 L1667.7 477.70 L1668.2 477.81 L1668.7 478.25 L1669.2 477.77 L1669.7 477.78 L1670.2 477.88 L1670.7 478.14 L1671.2 477.64 L1671.7 478.07 L1672.2 478.34 L1672.7 478.33 L1673.2 478.08 L1673.7 478.06 L1674.2 478.18 L1674.7 478.12 L1675.2 477.83 L1675.7 477.74 L1676.2 478.13 L1676.7 477.85 L1677.2 477.72 L1677.7 477.50 L1678.2 478.26 L1678.7 478.02 L1679.2 478.11 L1679.7 477.94 L1680.2 477.82 L1680.7 477.65 L1681.2 478.24 L1681.7 477.81 L1682.2 478.00 L1682.7 478.34 L1683.2 478.35 L1683.7 478.22 L1684.2 478.31 L1684.7 478.18 L1685.2 478.37 L1685.7 478.40 L1686.2 478.35 L1686.7 477.51 L1687.2 477.71 L1687.7 478.37 L1688.2 477.68 L1688.7 477.63 L1689.2 478.20 L1689.7 477.72 L1690.2 478.11 L1690.7 477.64 L1691.2 478.23 L1691.7 478.14 L1692.2 477.99 L1692.7 477.68 L1693.2 477.70 L1693.7 477.60 L1694.2 478.27 L1694.7 477.61 L1695.2 477.93 L1695.7 478.23 L1696.2 477.77 L1696.7 478.18 L1697.2 477.64 L1697.7 478.38 L1698.2 477.52 L1698.7 477.88 L1699.2 477.94 L1699.7 477.94 L1700.2 477.73 L1700.7 477.91 L1701.2 478.29 L1701.7 477.57 L1702.2 477.87 L1702.7 477.47 L1703.2 478.01 L1703.7 478.09 L1704.2 478.04 L1704.7 477.81 L1705.2 477.93 L1705.7 478.30 L1706.2 477.93 L1706.7 478.15 L1707.2 477.88 L1707.7 477.73 L1708.2 477.82 L1708.7 477.73 L1709.2 478.18 L1709.7 478.26 L1710.2 478.23 L1710.7 477.81 L1711.2 477.55 L1711.7 477.80 L1712.2 477.56 L1712.7 477.70 L1713.2 477.54 L1713.7 477.70 L1714.2 478.08 L1714.7 478.22 L1715.2 478.09 L1715.7 477.58 L1716.2 477.79 L1716.7 478.15 L1717.2 478.04 L1717.7 477.57 L1718.2 477.57 L1718.7 478.10 L1719.2 477.48 L1719.7 477.51 L1720.2 478.16 L1720.7 478.05 L1721.2 478.15 L1721.7 478.13 L1722.2 477.78 L1722.7 477.99 L1723.2 477.91 L1723.7 478.11 L1724.2 477.42 L1724.7 478.04 L1725.2 477.76 L1725.7 477.39 L1726.2 477.65 L1726.7 477.34 L1727.2 477.70 L1727.7 478.22 L1728.2 477.52 L1728.7 477.57 L1729.2 477.79 L1729.7 478.00 L1730.2 478.04 L1730.7 477.65 L1731.2 477.40 L1731.7 477.74 L1732.2 478.06 L1732.7 478.14 L1733.2 477.60 L1733.7 477.40 L1734.2 477.69 L1734.7 477.32 L1735.2 477.45 L1735.7 477.41 L1736.2 477.33 L1736.7 477.48 L1737.2 477.62 L1737.7 477.57 L1738.2 477.28 L1738.7 477.37 L1739.2 477.34 L1739.7 477.65 L1740.2 477.47 L1740.7 477.45 L1741.2 477.97 L1741.7 477.84 L1742.2 477.39 L1742.7 477.80 L1743.2 477.35 L1743.7 477.38 L1744.2 477.36 L1744.7 477.78 L1745.2 477.35 L1745.7 477.08 L1746.2 477.33 L1746.7 477.34 L1747.2 477.59 L1747.7 477.72 L1748.2 477.62 L1748.7 477.62 L1749.2 477.82 L1749.7 476.91 L1750.2 477.18 L1750.7 477.27 L1751.2 477.09 L1751.7 477.46 L1752.2 477.11 L1752.7 477.07 L1753.2 477.11 L1753.7 477.27 L1754.2 476.81 L1754.7 477.22 L1755.2 476.78 L1755.7 477.28 L1756.2 477.01 L1756.7 477.23 L1757.2 476.98 L1757.7 476.87 L1758.2 476.27 L1758.7 476.35 L1759.2 476.04 L1759.7 476.65 L1760.2 475.97 L1760.7 476.30 L1761.2 475.95 L1761.7 475.85 L1762.2 475.42 L1762.7 475.29 L1763.2 475.73 L1763.7 475.25 L1764.2 475.22 L1764.7 474.52 L1765.2 475.11 L1765.7 474.63 L1766.2 474.48 L1766.7 473.66 L1767.2 473.82 L1767.7 473.31 L1768.2 473.03 L1768.7 472.64 L1769.2 472.24 L1769.7 472.16 L1770.2 472.09 L1770.7 471.81 L1771.2 471.08 L1771.7 470.99 L1772.2 470.88 L1772.7 470.40 L1773.2 469.82 L1773.7 469.11 L1774.2 468.72 L1774.7 468.78 L1775.2 468.70 L1775.7 468.04 L1776.2 467.61 L1776.7 466.58 L1777.2 466.70 L1777.7 466.50 L1778.2 465.77 L1778.7 465.87 L1779.2 465.01 L1779.7 465.30 L1780.2 464.33 L1780.7 463.99 L1781.2 464.05 L1781.7 463.48 L1782.2 463.86 L1782.7 463.07 L1783.2 462.98 L1783.7 462.76 L1784.2 463.09 L1784.7 462.82 L1785.2 462.81 L1785.7 463.58 L1786.2 463.64 L1786.7 463.33 L1787.2 463.90 L1787.7 463.51 L1788.2 463.58 L1788.7 464.41 L1789.2 464.43 L1789.7 464.45 L1790.2 465.36 L1790.7 465.41 L1791.2 465.57 L1791.7 466.15 L1792.2 466.89 L1792.7 466.82 L1793.2 467.20 L1793.7 468.09 L1794.2 468.42 L1794.7 469.00 L1795.2 469.23 L1795.7 469.52 L1796.2 469.52 L1796.7 470.25 L1797.2 470.39 L1797.7 470.92 L1798.2 471.27 L1798.7 471.39 L1799.2 471.65 L1799.7 472.00 L1800.2 472.75 L1800.7 472.82 L1801.2 473.29 L1801.7 473.94 L1802.2 473.41 L1802.7 474.24 L1803.2 474.61 L1803.7 474.18 L1804.2 474.57 L1804.7 475.07 L1805.2 475.48 L1805.7 475.46 L1806.2 475.21 L1806.7 475.26 L1807.2 476.16 L1807.7 475.85 L1808.2 476.05 L1808.7 475.74 L1809.2 475.94 L1809.7 476.46 L1810.2 476.55 L1810.7 476.81 L1811.2 476.65 L1811.7 476.77 L1812.2 477.08 L1812.7 476.66 L1813.2 477.13 L1813.7 476.79 L1814.2 476.75 L1814.7 476.60 L1815.2 477.36 L1815.7 477.47 L1816.2 477.59 L1816.7 477.37 L1817.2 477.22 L1817.7 477.31 L1818.2 477.22 L1818.7 477.56 L1819.2 477.10" fill="none" stroke="#ff0000" stroke-width="3.1" stroke-linejoin="round"/>
<path transform="scale(1 1.50)" d="M197.2 788.77 L197.7 789.03 L198.2 789.15 L198.7 788.61 L199.2 789.04 L199.7 788.90 L200.2 788.63 L200.7 788.81 L201.2 789.13 L201.7 788.79 L202.2 788.59 L202.7 788.80 L203.2 788.79 L203.7 789.05 L204.2 788.75 L204.7 788.76 L205.2 789.04 L205.7 788.69 L206.2 789.18 L206.7 788.83 L207.2 788.75 L207.7 788.56 L208.2 788.88 L208.7 789.07 L209.2 789.05 L209.7 788.58 L210.2 788.64 L210.7 788.54 L211.2 788.66 L211.7 788.57 L212.2 789.16 L212.7 788.85 L213.2 788.70 L213.7 789.16 L214.2 788.74 L214.7 788.67 L215.2 788.65 L215.7 789.13 L216.2 788.91 L216.7 788.66 L217.2 789.00 L217.7 789.07 L218.2 788.68 L218.7 788.95 L219.2 789.05 L219.7 788.83 L220.2 788.60 L220.7 789.12 L221.2 789.01 L221.7 788.91 L222.2 788.97 L222.7 788.90 L223.2 788.72 L223.7 788.81 L224.2 788.77 L224.7 788.74 L225.2 788.60 L225.7 788.71 L226.2 788.84 L226.7 789.17 L227.2 789.01 L227.7 788.92 L228.2 788.75 L228.7 788.87 L229.2 789.09 L229.7 789.00 L230.2 789.19 L230.7 789.14 L231.2 788.93 L231.7 789.06 L232.2 789.02 L232.7 789.13 L233.2 788.97 L233.7 788.93 L234.2 788.85 L234.7 788.73 L235.2 788.65 L235.7 788.99 L236.2 789.03 L236.7 789.04 L237.2 788.54 L237.7 789.15 L238.2 789.05 L238.7 789.05 L239.2 788.59 L239.7 789.05 L240.2 788.56 L240.7 788.57 L241.2 789.06 L241.7 789.12 L242.2 789.11 L242.7 789.01 L243.2 788.53 L243.7 788.94 L244.2 788.83 L244.7 788.55 L245.2 788.58 L245.7 788.88 L246.2 788.67 L246.7 789.13 L247.2 788.89 L247.7 788.60 L248.2 788.74 L248.7 788.85 L249.2 788.60 L249.7 788.70 L250.2 788.76 L250.7 788.69 L251.2 788.96 L251.7 788.91 L252.2 788.68 L252.7 788.56 L253.2 788.71 L253.7 788.74 L254.2 788.53 L254.7 788.64 L255.2 788.63 L255.7 788.63 L256.2 788.94 L256.7 788.87 L257.2 788.62 L257.7 788.63 L258.2 788.71 L258.7 788.50 L259.2 788.70 L259.7 788.93 L260.2 788.85 L260.7 788.89 L261.2 789.07 L261.7 788.99 L262.2 788.68 L262.7 789.08 L263.2 789.09 L263.7 788.87 L264.2 788.62 L264.7 788.92 L265.2 789.06 L265.7 788.55 L266.2 788.81 L266.7 788.49 L267.2 789.06 L267.7 789.08 L268.2 788.91 L268.7 788.56 L269.2 788.75 L269.7 788.56 L270.2 788.53 L270.7 788.97 L271.2 788.56 L271.7 788.85 L272.2 788.97 L272.7 788.80 L273.2 788.56 L273.7 788.46 L274.2 788.84 L274.7 788.79 L275.2 788.78 L275.7 788.59 L276.2 789.03 L276.7 788.77 L277.2 788.59 L277.7 788.90 L278.2 788.49 L278.7 788.83 L279.2 788.57 L279.7 788.49 L280.2 788.59 L280.7 788.71 L281.2 788.60 L281.7 788.81 L282.2 789.02 L282.7 788.78 L283.2 788.97 L283.7 788.74 L284.2 788.40 L284.7 788.40 L285.2 788.94 L285.7 788.42 L286.2 788.71 L286.7 788.37 L287.2 788.93 L287.7 788.56 L288.2 788.65 L288.7 788.44 L289.2 788.72 L289.7 788.67 L290.2 788.53 L290.7 788.74 L291.2 788.82 L291.7 788.50 L292.2 788.43 L292.7 788.48 L293.2 788.67 L293.7 788.90 L294.2 788.85 L294.7 788.52 L295.2 788.53 L295.7 788.53 L296.2 788.86 L296.7 788.32 L297.2 788.47 L297.7 788.60 L298.2 788.34 L298.7 788.42 L299.2 788.30 L299.7 788.45 L300.2 788.78 L300.7 788.44 L301.2 788.24 L301.7 788.68 L302.2 788.77 L302.7 788.71 L303.2 788.59 L303.7 788.27 L304.2 788.42 L304.7 788.41 L305.2 788.22 L305.7 788.09 L306.2 788.14 L306.7 788.24 L307.2 788.50 L307.7 788.52 L308.2 788.62 L308.7 788.09 L309.2 788.28 L309.7 788.20 L310.2 788.35 L310.7 788.17 L311.2 788.19 L311.7 788.04 L312.2 788.57 L312.7 788.04 L313.2 788.42 L313.7 788.17 L314.2 787.86 L314.7 788.09 L315.2 787.96 L315.7 788.25 L316.2 788.37 L316.7 788.40 L317.2 788.34 L317.7 788.11 L318.2 787.98 L318.7 787.88 L319.2 788.06 L319.7 788.06 L320.2 788.05 L320.7 788.27 L321.2 787.66 L321.7 788.04 L322.2 787.95 L322.7 787.82 L323.2 787.60 L323.7 787.84 L324.2 787.65 L324.7 787.92 L325.2 787.78 L325.7 787.90 L326.2 787.51 L326.7 787.70 L327.2 787.86 L327.7 787.64 L328.2 787.40 L328.7 787.78 L329.2 787.24 L329.7 787.65 L330.2 787.69 L330.7 787.64 L331.2 787.60 L331.7 787.21 L332.2 787.48 L332.7 786.96 L333.2 787.25 L333.7 787.50 L334.2 786.83 L334.7 787.06 L335.2 786.85 L335.7 786.77 L336.2 786.75 L336.7 786.86 L337.2 786.75 L337.7 786.60 L338.2 786.72 L338.7 786.81 L339.2 786.72 L339.7 786.33 L340.2 786.47 L340.7 786.77 L341.2 786.28 L341.7 786.27 L342.2 786.57 L342.7 786.03 L343.2 786.39 L343.7 785.90 L344.2 786.29 L344.7 786.06 L345.2 786.09 L345.7 785.92 L346.2 785.51 L346.7 785.58 L347.2 785.60 L347.7 785.50 L348.2 785.20 L348.7 785.20 L349.2 785.17 L349.7 784.91 L350.2 784.80 L350.7 784.88 L351.2 784.37 L351.7 784.52 L352.2 784.02 L352.7 784.31 L353.2 783.97 L353.7 784.18 L354.2 783.65 L354.7 783.54 L355.2 783.25 L355.7 783.39 L356.2 783.21 L356.7 782.87 L357.2 782.79 L357.7 782.46 L358.2 782.27 L358.7 782.10 L359.2 782.06 L359.7 781.74 L360.2 780.92 L360.7 781.25 L361.2 780.77 L361.7 780.62 L362.2 779.90 L362.7 779.73 L363.2 779.34 L363.7 779.22 L364.2 778.89 L364.7 778.14 L365.2 777.79 L365.7 777.18 L366.2 776.74 L366.7 776.47 L367.2 775.58 L367.7 775.34 L368.2 774.54 L368.7 773.94 L369.2 773.78 L369.7 772.56 L370.2 771.78 L370.7 771.01 L371.2 770.22 L371.7 769.84 L372.2 768.89 L372.7 767.96 L373.2 766.59 L373.7 765.33 L374.2 764.01 L374.7 763.03 L375.2 761.47 L375.7 760.05 L376.2 758.42 L376.7 756.64 L377.2 755.21 L377.7 753.24 L378.2 751.42 L378.7 748.83 L379.2 746.44 L379.7 743.86 L380.2 740.84 L380.7 737.89 L381.2 734.63 L381.7 731.27 L382.2 727.41 L382.7 723.32 L383.2 718.77 L383.7 714.39 L384.2 708.75 L384.7 703.30 L385.2 697.62 L385.7 691.13 L386.2 683.75 L386.7 676.46 L387.2 668.09 L387.7 659.40 L388.2 649.92 L388.7 640.18 L389.2 629.77 L389.7 618.95 L390.2 608.04 L390.7 596.35 L391.2 584.38 L391.7 572.46 L392.2 561.10 L392.7 550.19 L393.2 539.46 L393.7 530.17 L394.2 521.81 L394.7 515.41 L395.2 510.78 L395.7 507.77 L396.2 507.26 L396.7 508.90 L397.2 512.31 L397.7 517.61 L398.2 525.05 L398.7 533.97 L399.2 543.31 L399.7 554.06 L400.2 565.81 L400.7 577.10 L401.2 589.41 L401.7 600.80 L402.2 612.16 L402.7 623.67 L403.2 634.20 L403.7 644.05 L404.2 653.87 L404.7 663.25 L405.2 671.59 L405.7 679.62 L406.2 686.46 L406.7 693.37 L407.2 700.02 L407.7 705.94 L408.2 710.85 L408.7 715.84 L409.2 720.89 L409.7 724.78 L410.2 729.35 L410.7 732.44 L411.2 736.08 L411.7 739.17 L412.2 742.40 L412.7 744.78 L413.2 747.64 L413.7 750.07 L414.2 751.76 L414.7 753.65 L415.2 755.79 L415.7 757.50 L416.2 758.95 L416.7 760.47 L417.2 762.37 L417.7 763.14 L418.2 764.50 L418.7 765.84 L419.2 767.04 L419.7 768.30 L420.2 768.67 L420.7 769.67 L421.2 770.71 L421.7 771.55 L422.2 772.42 L422.7 772.73 L423.2 773.38 L423.7 774.57 L424.2 774.57 L424.7 775.40 L425.2 776.27 L425.7 776.41 L426.2 777.20 L426.7 777.49 L427.2 777.87 L427.7 778.11 L428.2 778.86 L428.7 778.71 L429.2 779.29 L429.7 779.78 L430.2 780.17 L430.7 780.23 L431.2 780.96 L431.7 780.73 L432.2 781.42 L432.7 781.28 L433.2 781.78 L433.7 781.60 L434.2 781.87 L434.7 782.65 L435.2 782.22 L435.7 782.64 L436.2 782.62 L436.7 783.07 L437.2 783.43 L437.7 783.22 L438.2 783.81 L438.7 783.60 L439.2 783.94 L439.7 783.90 L440.2 784.14 L440.7 784.18 L441.2 784.58 L441.7 784.23 L442.2 784.36 L442.7 784.62 L443.2 785.00 L443.7 784.73 L444.2 785.13 L444.7 785.02 L445.2 784.88 L445.7 784.99 L446.2 785.60 L446.7 785.54 L447.2 785.38 L447.7 785.71 L448.2 785.87 L448.7 785.90 L449.2 785.91 L449.7 785.74 L450.2 785.47 L450.7 786.08 L451.2 785.52 L451.7 786.21 L452.2 785.99 L452.7 786.00 L453.2 785.71 L453.7 785.70 L454.2 786.36 L454.7 785.85 L455.2 785.85 L455.7 786.25 L456.2 786.06 L456.7 785.93 L457.2 786.23 L457.7 786.09 L458.2 786.44 L458.7 785.86 L459.2 785.86 L459.7 786.07 L460.2 786.36 L460.7 785.88 L461.2 786.45 L461.7 785.83 L462.2 786.31 L462.7 786.37 L463.2 786.20 L463.7 785.86 L464.2 785.83 L464.7 785.87 L465.2 785.67 L465.7 785.59 L466.2 785.65 L466.7 786.08 L467.2 785.79 L467.7 785.87 L468.2 785.58 L468.7 785.66 L469.2 785.41 L469.7 785.53 L470.2 785.17 L470.7 784.85 L471.2 785.10 L471.7 784.86 L472.2 784.61 L472.7 784.81 L473.2 784.25 L473.7 784.37 L474.2 784.45 L474.7 784.39 L475.2 783.98 L475.7 783.58 L476.2 783.28 L476.7 783.56 L477.2 782.85 L477.7 782.64 L478.2 782.36 L478.7 782.07 L479.2 782.02 L479.7 781.48 L480.2 780.90 L480.7 780.90 L481.2 780.12 L481.7 780.23 L482.2 779.48 L482.7 778.93 L483.2 778.24 L483.7 777.83 L484.2 776.91 L484.7 776.34 L485.2 775.45 L485.7 774.96 L486.2 773.93 L486.7 773.12 L487.2 771.63 L487.7 770.69 L488.2 769.14 L488.7 768.10 L489.2 766.28 L489.7 764.70 L490.2 762.87 L490.7 761.44 L491.2 759.26 L491.7 756.85 L492.2 754.37 L492.7 752.33 L493.2 749.19 L493.7 746.05 L494.2 743.52 L494.7 739.86 L495.2 736.61 L495.7 733.16 L496.2 730.23 L496.7 726.27 L497.2 722.80 L497.7 719.76 L498.2 716.81 L498.7 714.57 L499.2 712.69 L499.7 711.03 L500.2 710.10 L500.7 709.35 L501.2 709.91 L501.7 710.68 L502.2 712.21 L502.7 714.44 L503.2 716.90 L503.7 719.85 L504.2 723.22 L504.7 726.74 L505.2 729.86 L505.7 733.37 L506.2 737.09 L506.7 740.33 L507.2 743.36 L507.7 746.35 L508.2 749.30 L508.7 752.42 L509.2 755.13 L509.7 757.18 L510.2 759.75 L510.7 761.39 L511.2 763.76 L511.7 765.18 L512.2 767.03 L512.7 768.35 L513.2 769.99 L513.7 770.79 L514.2 772.07 L514.7 773.29 L515.2 774.64 L515.7 775.22 L516.2 776.31 L516.7 776.69 L517.2 777.33 L517.7 778.56 L518.2 778.76 L518.7 779.84 L519.2 779.91 L519.7 780.84 L520.2 780.82 L520.7 781.79 L521.2 782.26 L521.7 782.60 L522.2 782.40 L522.7 783.31 L523.2 783.26 L523.7 783.63 L524.2 783.94 L524.7 784.29 L525.2 784.26 L525.7 784.47 L526.2 784.54 L526.7 784.79 L527.2 785.41 L527.7 785.72 L528.2 785.77 L528.7 785.81 L529.2 785.75 L529.7 786.26 L530.2 786.14 L530.7 786.22 L531.2 786.43 L531.7 786.23 L532.2 786.55 L532.7 786.60 L533.2 786.56 L533.7 787.04 L534.2 787.21 L534.7 786.89 L535.2 787.33 L535.7 787.45 L536.2 787.37 L536.7 787.51 L537.2 787.41 L537.7 787.39 L538.2 787.77 L538.7 787.91 L539.2 787.72 L539.7 787.80 L540.2 787.88 L540.7 788.24 L541.2 788.01 L541.7 788.33 L542.2 788.20 L542.7 788.31 L543.2 788.05 L543.7 788.43 L544.2 788.06 L544.7 788.44 L545.2 788.61 L545.7 788.14 L546.2 788.28 L546.7 788.55 L547.2 788.21 L547.7 788.62 L548.2 788.30 L548.7 788.80 L549.2 788.26 L549.7 788.43 L550.2 788.71 L550.7 788.43 L551.2 788.73 L551.7 788.95 L552.2 788.48 L552.7 788.75 L553.2 788.69 L553.7 789.10 L554.2 788.93 L554.7 788.50 L555.2 789.08 L555.7 788.85 L556.2 788.83 L556.7 788.69 L557.2 788.96 L557.7 788.90 L558.2 788.87 L558.7 788.74 L559.2 789.15 L559.7 789.13 L560.2 788.81 L560.7 788.71 L561.2 789.25 L561.7 788.67 L562.2 789.06 L562.7 788.77 L563.2 788.93 L563.7 788.84 L564.2 788.89 L564.7 789.35 L565.2 789.26 L565.7 789.28 L566.2 789.30 L566.7 789.33 L567.2 789.05 L567.7 789.08 L568.2 788.87 L568.7 788.87 L569.2 789.18 L569.7 789.17 L570.2 789.16 L570.7 788.84 L571.2 789.13 L571.7 788.86 L572.2 788.75 L572.7 789.19 L573.2 789.19 L573.7 789.05 L574.2 788.82 L574.7 789.04 L575.2 788.74 L575.7 789.17 L576.2 789.05 L576.7 789.09 L577.2 789.09 L577.7 789.15 L578.2 788.65 L578.7 789.00 L579.2 788.99 L579.7 789.02 L580.2 788.68 L580.7 788.62 L581.2 788.72 L581.7 788.70 L582.2 788.18 L582.7 788.31 L583.2 788.43 L583.7 788.10 L584.2 788.39 L584.7 788.27 L585.2 787.64 L585.7 787.74 L586.2 787.27 L586.7 787.08 L587.2 787.34 L587.7 787.15 L588.2 786.39 L588.7 786.54 L589.2 785.64 L589.7 785.37 L590.2 784.56 L590.7 784.43 L591.2 783.32 L591.7 782.06 L592.2 781.51 L592.7 779.68 L593.2 778.29 L593.7 776.14 L594.2 773.94 L594.7 770.95 L595.2 767.95 L595.7 764.42 L596.2 760.95 L596.7 757.87 L597.2 756.12 L597.7 755.20 L598.2 756.24 L598.7 758.03 L599.2 760.85 L599.7 764.19 L600.2 768.06 L600.7 771.17 L601.2 773.67 L601.7 775.92 L602.2 778.56 L602.7 780.10 L603.2 781.24 L603.7 782.61 L604.2 783.60 L604.7 784.43 L605.2 785.15 L605.7 785.61 L606.2 785.88 L606.7 786.56 L607.2 786.81 L607.7 786.82 L608.2 787.30 L608.7 787.62 L609.2 787.64 L609.7 788.12 L610.2 788.07 L610.7 788.40 L611.2 788.15 L611.7 788.64 L612.2 788.69 L612.7 788.76 L613.2 788.80 L613.7 789.02 L614.2 788.72 L614.7 788.59 L615.2 789.00 L615.7 788.84 L616.2 789.31 L616.7 788.88 L617.2 788.97 L617.7 789.04 L618.2 789.07 L618.7 789.03 L619.2 788.95 L619.7 789.48 L620.2 789.39 L620.7 789.57 L621.2 789.38 L621.7 789.44 L622.2 789.68 L622.7 789.41 L623.2 789.54 L623.7 789.19 L624.2 789.54 L624.7 789.21 L625.2 789.32 L625.7 789.65 L626.2 789.31 L626.7 789.52 L627.2 789.42 L627.7 789.43 L628.2 789.83 L628.7 789.52 L629.2 789.55 L629.7 789.61 L630.2 789.37 L630.7 789.63 L631.2 789.57 L631.7 789.76 L632.2 789.33 L632.7 789.35 L633.2 789.54 L633.7 789.50 L634.2 789.34 L634.7 789.44 L635.2 789.64 L635.7 789.89 L636.2 789.92 L636.7 789.83 L637.2 789.87 L637.7 789.93 L638.2 789.67 L638.7 789.73 L639.2 789.51 L639.7 789.77 L640.2 789.94 L640.7 789.55 L641.2 789.93 L641.7 789.50 L642.2 790.02 L642.7 789.94 L643.2 789.97 L643.7 789.68 L644.2 790.06 L644.7 789.46 L645.2 789.66 L645.7 789.80 L646.2 789.45 L646.7 789.63 L647.2 789.43 L647.7 789.61 L648.2 789.86 L648.7 789.90 L649.2 789.98 L649.7 789.81 L650.2 789.93 L650.7 789.97 L651.2 789.92 L651.7 789.67 L652.2 789.52 L652.7 789.64 L653.2 789.80 L653.7 789.94 L654.2 789.75 L654.7 789.82 L655.2 790.09 L655.7 789.63 L656.2 789.90 L656.7 790.02 L657.2 790.01 L657.7 789.56 L658.2 789.49 L658.7 789.82 L659.2 789.50 L659.7 789.71 L660.2 789.99 L660.7 789.56 L661.2 790.11 L661.7 789.54 L662.2 789.64 L662.7 789.84 L663.2 789.68 L663.7 789.74 L664.2 789.99 L664.7 789.77 L665.2 789.54 L665.7 789.69 L666.2 789.69 L666.7 789.58 L667.2 789.89 L667.7 789.69 L668.2 789.48 L668.7 789.87 L669.2 789.98 L669.7 789.86 L670.2 789.94 L670.7 789.89 L671.2 789.94 L671.7 789.73 L672.2 790.03 L672.7 789.73 L673.2 789.48 L673.7 789.51 L674.2 789.76 L674.7 789.58 L675.2 789.51 L675.7 789.56 L676.2 789.63 L676.7 790.01 L677.2 789.51 L677.7 789.93 L678.2 789.45 L678.7 789.96 L679.2 789.50 L679.7 789.85 L680.2 789.56 L680.7 789.95 L681.2 789.88 L681.7 789.46 L682.2 789.62 L682.7 789.84 L683.2 789.65 L683.7 789.54 L684.2 789.45 L684.7 789.52 L685.2 789.97 L685.7 789.59 L686.2 789.62 L686.7 789.73 L687.2 789.97 L687.7 789.96 L688.2 789.98 L688.7 789.37 L689.2 789.49 L689.7 789.88 L690.2 789.55 L690.7 789.73 L691.2 789.29 L691.7 789.83 L692.2 789.86 L692.7 789.46 L693.2 789.53 L693.7 789.80 L694.2 789.62 L694.7 789.42 L695.2 789.26 L695.7 789.57 L696.2 789.56 L696.7 789.85 L697.2 789.64 L697.7 789.28 L698.2 789.69 L698.7 789.48 L699.2 789.27 L699.7 789.41 L700.2 789.12 L700.7 789.42 L701.2 789.27 L701.7 789.49 L702.2 789.56 L702.7 789.25 L703.2 789.58 L703.7 789.37 L704.2 789.29 L704.7 789.53 L705.2 789.02 L705.7 789.33 L706.2 789.30 L706.7 789.53 L707.2 788.96 L707.7 789.06 L708.2 789.23 L708.7 789.44 L709.2 789.26 L709.7 788.80 L710.2 788.87 L710.7 789.12 L711.2 789.05 L711.7 789.28 L712.2 788.80 L712.7 788.64 L713.2 788.73 L713.7 788.87 L714.2 788.86 L714.7 788.89 L715.2 788.40 L715.7 788.36 L716.2 788.83 L716.7 788.17 L717.2 788.07 L717.7 788.09 L718.2 787.97 L718.7 788.42 L719.2 788.28 L719.7 787.84 L720.2 788.11 L720.7 787.68 L721.2 787.36 L721.7 787.12 L722.2 787.54 L722.7 787.20 L723.2 786.97 L723.7 786.45 L724.2 786.68 L724.7 786.18 L725.2 785.82 L725.7 785.41 L726.2 785.35 L726.7 784.30 L727.2 783.96 L727.7 783.47 L728.2 782.89 L728.7 782.34 L729.2 781.02 L729.7 780.05 L730.2 779.00 L730.7 777.74 L731.2 776.10 L731.7 773.66 L732.2 771.57 L732.7 769.01 L733.2 766.09 L733.7 762.44 L734.2 758.39 L734.7 753.63 L735.2 749.24 L735.7 744.29 L736.2 740.51 L736.7 737.22 L737.2 734.89 L737.7 734.61 L738.2 736.21 L738.7 739.18 L739.2 743.26 L739.7 747.99 L740.2 752.65 L740.7 757.19 L741.2 761.76 L741.7 765.27 L742.2 768.57 L742.7 770.69 L743.2 773.65 L743.7 775.12 L744.2 776.91 L744.7 778.24 L745.2 779.63 L745.7 780.40 L746.2 781.29 L746.7 782.22 L747.2 783.20 L747.7 783.24 L748.2 783.97 L748.7 784.69 L749.2 785.03 L749.7 785.15 L750.2 785.70 L750.7 786.04 L751.2 786.32 L751.7 786.31 L752.2 786.66 L752.7 786.49 L753.2 786.88 L753.7 786.82 L754.2 786.94 L754.7 787.18 L755.2 787.24 L755.7 787.07 L756.2 787.58 L756.7 787.60 L757.2 787.34 L757.7 787.68 L758.2 787.77 L758.7 787.34 L759.2 787.65 L759.7 787.93 L760.2 787.72 L760.7 787.90 L761.2 787.69 L761.7 787.97 L762.2 788.00 L762.7 787.74 L763.2 787.53 L763.7 787.86 L764.2 787.74 L764.7 788.06 L765.2 787.86 L765.7 787.94 L766.2 787.71 L766.7 787.52 L767.2 787.97 L767.7 787.56 L768.2 787.69 L768.7 787.70 L769.2 787.42 L769.7 787.81 L770.2 787.54 L770.7 787.99 L771.2 787.79 L771.7 787.91 L772.2 788.00 L772.7 787.88 L773.2 787.97 L773.7 787.84 L774.2 787.68 L774.7 787.71 L775.2 787.60 L775.7 787.73 L776.2 787.49 L776.7 787.37 L777.2 787.53 L777.7 787.39 L778.2 787.45 L778.7 787.64 L779.2 787.52 L779.7 787.23 L780.2 787.28 L780.7 787.63 L781.2 787.41 L781.7 787.61 L782.2 787.52 L782.7 787.04 L783.2 787.11 L783.7 787.46 L784.2 787.22 L784.7 786.98 L785.2 787.02 L785.7 787.27 L786.2 787.29 L786.7 787.30 L787.2 787.09 L787.7 787.31 L788.2 786.74 L788.7 787.04 L789.2 787.13 L789.7 786.56 L790.2 786.67 L790.7 786.58 L791.2 786.70 L791.7 786.46 L792.2 786.33 L792.7 786.30 L793.2 786.77 L793.7 786.26 L794.2 786.07 L794.7 786.26 L795.2 786.12 L795.7 786.15 L796.2 786.13 L796.7 785.72 L797.2 785.42 L797.7 785.79 L798.2 785.37 L798.7 785.35 L799.2 785.46 L799.7 784.68 L800.2 784.82 L800.7 784.59 L801.2 784.74 L801.7 784.06 L802.2 783.70 L802.7 783.80 L803.2 783.56 L803.7 783.14 L804.2 783.01 L804.7 782.84 L805.2 782.27 L805.7 782.06 L806.2 781.39 L806.7 781.38 L807.2 780.64 L807.7 780.60 L808.2 779.86 L808.7 779.52 L809.2 779.11 L809.7 778.44 L810.2 778.02 L810.7 777.38 L811.2 777.33 L811.7 776.37 L812.2 776.05 L812.7 775.39 L813.2 774.24 L813.7 773.82 L814.2 773.17 L814.7 771.96 L815.2 771.57 L815.7 770.51 L816.2 769.69 L816.7 768.59 L817.2 767.52 L817.7 766.50 L818.2 765.36 L818.7 763.64 L819.2 762.31 L819.7 760.94 L820.2 759.44 L820.7 758.00 L821.2 755.89 L821.7 754.58 L822.2 752.25 L822.7 750.23 L823.2 748.40 L823.7 746.23 L824.2 743.22 L824.7 740.57 L825.2 738.00 L825.7 734.77 L826.2 731.66 L826.7 728.95 L827.2 725.27 L827.7 721.53 L828.2 718.11 L828.7 713.68 L829.2 709.78 L829.7 705.74 L830.2 701.13 L830.7 697.48 L831.2 693.17 L831.7 688.90 L832.2 684.95 L832.7 681.41 L833.2 678.28 L833.7 676.07 L834.2 673.92 L834.7 672.21 L835.2 671.06 L835.7 670.79 L836.2 671.32 L836.7 672.58 L837.2 674.50 L837.7 676.60 L838.2 679.98 L838.7 683.02 L839.2 686.53 L839.7 690.42 L840.2 694.84 L840.7 698.64 L841.2 702.95 L841.7 706.82 L842.2 711.42 L842.7 714.89 L843.2 718.93 L843.7 722.62 L844.2 726.16 L844.7 729.40 L845.2 732.59 L845.7 735.54 L846.2 738.43 L846.7 741.46 L847.2 743.88 L847.7 746.22 L848.2 748.63 L848.7 750.32 L849.2 752.24 L849.7 754.56 L850.2 755.84 L850.7 757.97 L851.2 759.05 L851.7 760.65 L852.2 761.84 L852.7 763.39 L853.2 764.21 L853.7 765.92 L854.2 766.44 L854.7 767.39 L855.2 768.86 L855.7 769.40 L856.2 770.56 L856.7 770.96 L857.2 772.11 L857.7 772.51 L858.2 773.08 L858.7 773.87 L859.2 774.18 L859.7 775.03 L860.2 775.20 L860.7 776.20 L861.2 776.44 L861.7 776.77 L862.2 777.20 L862.7 777.77 L863.2 778.33 L863.7 778.44 L864.2 779.09 L864.7 779.29 L865.2 779.97 L865.7 780.30 L866.2 780.17 L866.7 780.53 L867.2 781.05 L867.7 781.00 L868.2 781.42 L868.7 781.46 L869.2 781.89 L869.7 782.16 L870.2 782.37 L870.7 782.32 L871.2 782.77 L871.7 783.04 L872.2 783.34 L872.7 783.58 L873.2 783.44 L873.7 783.49 L874.2 783.69 L874.7 784.24 L875.2 784.06 L875.7 784.43 L876.2 784.30 L876.7 784.45 L877.2 784.70 L877.7 784.83 L878.2 785.20 L878.7 784.95 L879.2 784.86 L879.7 785.04 L880.2 785.04 L880.7 785.70 L881.2 785.60 L881.7 785.86 L882.2 785.60 L882.7 785.95 L883.2 785.99 L883.7 785.90 L884.2 786.28 L884.7 786.10 L885.2 786.43 L885.7 786.26 L886.2 786.10 L886.7 786.67 L887.2 786.42 L887.7 786.37 L888.2 786.40 L888.7 786.63 L889.2 786.51 L889.7 786.69 L890.2 787.13 L890.7 787.28 L891.2 787.09 L891.7 786.79 L892.2 786.92 L892.7 787.06 L893.2 787.15 L893.7 787.14 L894.2 787.36 L894.7 787.21 L895.2 787.34 L895.7 787.38 L896.2 787.86 L896.7 787.68 L897.2 787.47 L897.7 787.41 L898.2 787.56 L898.7 788.01 L899.2 787.55 L899.7 787.64 L900.2 787.61 L900.7 787.74 L901.2 787.84 L901.7 788.18 L902.2 787.93 L902.7 787.85 L903.2 787.74 L903.7 788.33 L904.2 788.38 L904.7 788.18 L905.2 788.39 L905.7 788.17 L906.2 788.27 L906.7 788.16 L907.2 788.29 L907.7 787.97 L908.2 788.22 L908.7 788.34 L909.2 788.23 L909.7 788.52 L910.2 788.73 L910.7 788.21 L911.2 788.50 L911.7 788.76 L912.2 788.72 L912.7 788.58 L913.2 788.78 L913.7 788.43 L914.2 788.34 L914.7 788.73 L915.2 788.67 L915.7 788.86 L916.2 788.38 L916.7 788.38 L917.2 788.80 L917.7 788.50 L918.2 788.80 L918.7 788.78 L919.2 788.80 L919.7 788.61 L920.2 788.55 L920.7 788.90 L921.2 789.01 L921.7 788.69 L922.2 788.93 L922.7 788.83 L923.2 789.03 L923.7 788.78 L924.2 788.66 L924.7 788.76 L925.2 788.54 L925.7 789.09 L926.2 789.08 L926.7 789.00 L927.2 789.08 L927.7 789.17 L928.2 788.66 L928.7 789.16 L929.2 789.15 L929.7 789.08 L930.2 788.97 L930.7 788.66 L931.2 788.98 L931.7 789.18 L932.2 789.26 L932.7 789.25 L933.2 788.77 L933.7 789.12 L934.2 788.99 L934.7 788.71 L935.2 789.27 L935.7 789.15 L936.2 788.78 L936.7 789.09 L937.2 789.04 L937.7 789.07 L938.2 788.79 L938.7 789.06 L939.2 788.79 L939.7 788.78 L940.2 789.26 L940.7 788.74 L941.2 789.10 L941.7 789.31 L942.2 789.26 L942.7 789.33 L943.2 789.35 L943.7 789.34 L944.2 788.96 L944.7 789.04 L945.2 789.21 L945.7 789.00 L946.2 789.01 L946.7 789.40 L947.2 789.10 L947.7 789.37 L948.2 789.16 L948.7 789.37 L949.2 789.22 L949.7 788.84 L950.2 788.93 L950.7 789.34 L951.2 789.11 L951.7 788.87 L952.2 788.81 L952.7 789.17 L953.2 788.79 L953.7 788.97 L954.2 789.06 L954.7 789.07 L955.2 788.80 L955.7 789.19 L956.2 789.32 L956.7 789.23 L957.2 789.02 L957.7 789.05 L958.2 788.84 L958.7 789.15 L959.2 789.00 L959.7 788.73 L960.2 789.16 L960.7 788.90 L961.2 789.12 L961.7 789.24 L962.2 788.72 L962.7 789.28 L963.2 788.99 L963.7 788.77 L964.2 789.05 L964.7 788.98 L965.2 789.18 L965.7 789.03 L966.2 789.27 L966.7 789.19 L967.2 788.91 L967.7 788.64 L968.2 788.98 L968.7 789.02 L969.2 788.80 L969.7 789.00 L970.2 789.14 L970.7 788.73 L971.2 788.65 L971.7 789.13 L972.2 789.09 L972.7 788.65 L973.2 788.94 L973.7 789.01 L974.2 788.57 L974.7 788.91 L975.2 788.42 L975.7 788.67 L976.2 788.85 L976.7 788.60 L977.2 788.87 L977.7 788.60 L978.2 788.83 L978.7 788.63 L979.2 788.48 L979.7 788.60 L980.2 788.85 L980.7 788.54 L981.2 788.70 L981.7 788.26 L982.2 788.76 L982.7 788.26 L983.2 788.57 L983.7 788.16 L984.2 788.47 L984.7 788.29 L985.2 788.07 L985.7 788.57 L986.2 788.10 L986.7 787.88 L987.2 788.12 L987.7 788.15 L988.2 787.75 L988.7 788.06 L989.2 788.34 L989.7 787.73 L990.2 787.96 L990.7 787.93 L991.2 787.57 L991.7 787.70 L992.2 787.95 L992.7 787.89 L993.2 787.56 L993.7 787.83 L994.2 787.70 L994.7 787.79 L995.2 787.76 L995.7 787.18 L996.2 787.31 L996.7 787.40 L997.2 787.18 L997.7 787.11 L998.2 787.13 L998.7 787.15 L999.2 786.95 L999.7 786.76 L1000.2 786.68 L1000.7 786.62 L1001.2 786.36 L1001.7 786.70 L1002.2 786.24 L1002.7 786.40 L1003.2 786.27 L1003.7 786.36 L1004.2 786.25 L1004.7 786.16 L1005.2 785.53 L1005.7 785.37 L1006.2 785.55 L1006.7 785.51 L1007.2 785.06 L1007.7 785.04 L1008.2 784.58 L1008.7 784.37 L1009.2 784.70 L1009.7 784.25 L1010.2 783.84 L1010.7 783.64 L1011.2 783.79 L1011.7 783.35 L1012.2 783.11 L1012.7 783.27 L1013.2 782.64 L1013.7 782.27 L1014.2 782.27 L1014.7 782.02 L1015.2 781.60 L1015.7 781.18 L1016.2 781.03 L1016.7 780.36 L1017.2 780.35 L1017.7 779.75 L1018.2 779.65 L1018.7 778.91 L1019.2 778.40 L1019.7 777.73 L1020.2 777.32 L1020.7 777.26 L1021.2 776.45 L1021.7 775.97 L1022.2 775.30 L1022.7 774.07 L1023.2 773.55 L1023.7 772.65 L1024.2 772.04 L1024.7 770.96 L1025.2 770.08 L1025.7 768.99 L1026.2 767.89 L1026.7 766.69 L1027.2 765.01 L1027.7 763.62 L1028.2 762.38 L1028.7 760.88 L1029.2 758.62 L1029.7 756.90 L1030.2 755.24 L1030.7 752.97 L1031.2 751.00 L1031.7 748.04 L1032.2 745.51 L1032.7 743.37 L1033.2 740.22 L1033.7 737.15 L1034.2 734.45 L1034.7 731.24 L1035.2 727.93 L1035.7 725.17 L1036.2 721.77 L1036.7 718.42 L1037.2 715.30 L1037.7 712.48 L1038.2 710.39 L1038.7 708.03 L1039.2 706.56 L1039.7 705.42 L1040.2 704.67 L1040.7 704.48 L1041.2 704.79 L1041.7 705.93 L1042.2 707.19 L1042.7 708.77 L1043.2 711.39 L1043.7 713.98 L1044.2 716.52 L1044.7 719.97 L1045.2 722.75 L1045.7 726.29 L1046.2 729.56 L1046.7 732.70 L1047.2 735.81 L1047.7 738.64 L1048.2 741.62 L1048.7 744.05 L1049.2 747.04 L1049.7 749.47 L1050.2 751.86 L1050.7 753.55 L1051.2 755.71 L1051.7 757.44 L1052.2 759.43 L1052.7 761.47 L1053.2 762.42 L1053.7 764.21 L1054.2 765.51 L1054.7 766.92 L1055.2 767.72 L1055.7 769.18 L1056.2 770.44 L1056.7 771.31 L1057.2 772.01 L1057.7 772.64 L1058.2 773.46 L1058.7 774.29 L1059.2 774.93 L1059.7 776.04 L1060.2 776.71 L1060.7 776.69 L1061.2 777.60 L1061.7 777.85 L1062.2 778.66 L1062.7 778.71 L1063.2 779.67 L1063.7 780.07 L1064.2 780.49 L1064.7 780.83 L1065.2 780.89 L1065.7 781.02 L1066.2 781.38 L1066.7 781.78 L1067.2 782.06 L1067.7 782.28 L1068.2 782.81 L1068.7 782.66 L1069.2 783.22 L1069.7 783.01 L1070.2 783.44 L1070.7 783.38 L1071.2 784.13 L1071.7 783.98 L1072.2 784.17 L1072.7 784.09 L1073.2 784.47 L1073.7 784.65 L1074.2 784.59 L1074.7 784.80 L1075.2 784.82 L1075.7 784.79 L1076.2 784.75 L1076.7 785.34 L1077.2 785.20 L1077.7 784.98 L1078.2 785.22 L1078.7 785.07 L1079.2 785.07 L1079.7 785.46 L1080.2 785.68 L1080.7 785.45 L1081.2 785.31 L1081.7 785.51 L1082.2 785.56 L1082.7 785.14 L1083.2 785.44 L1083.7 784.93 L1084.2 785.24 L1084.7 784.94 L1085.2 784.71 L1085.7 784.64 L1086.2 784.43 L1086.7 784.38 L1087.2 784.02 L1087.7 784.06 L1088.2 783.85 L1088.7 783.51 L1089.2 783.23 L1089.7 783.25 L1090.2 782.84 L1090.7 782.50 L1091.2 782.24 L1091.7 781.83 L1092.2 781.96 L1092.7 781.29 L1093.2 781.21 L1093.7 780.42 L1094.2 780.24 L1094.7 779.88 L1095.2 779.16 L1095.7 779.08 L1096.2 778.87 L1096.7 777.91 L1097.2 778.03 L1097.7 777.19 L1098.2 776.67 L1098.7 776.72 L1099.2 776.37 L1099.7 775.68 L1100.2 775.35 L1100.7 775.46 L1101.2 774.81 L1101.7 774.78 L1102.2 774.86 L1102.7 774.55 L1103.2 774.21 L1103.7 774.34 L1104.2 774.59 L1104.7 774.49 L1105.2 774.74 L1105.7 774.59 L1106.2 774.94 L1106.7 775.11 L1107.2 775.71 L1107.7 776.29 L1108.2 776.61 L1108.7 776.73 L1109.2 777.22 L1109.7 777.92 L1110.2 777.81 L1110.7 778.31 L1111.2 778.99 L1111.7 779.32 L1112.2 779.74 L1112.7 780.61 L1113.2 780.59 L1113.7 781.53 L1114.2 781.96 L1114.7 782.45 L1115.2 782.48 L1115.7 783.04 L1116.2 783.30 L1116.7 783.74 L1117.2 784.20 L1117.7 784.35 L1118.2 784.45 L1118.7 785.20 L1119.2 785.35 L1119.7 785.89 L1120.2 785.65 L1120.7 786.31 L1121.2 786.54 L1121.7 786.78 L1122.2 786.63 L1122.7 786.84 L1123.2 787.12 L1123.7 787.29 L1124.2 787.38 L1124.7 787.55 L1125.2 787.73 L1125.7 788.19 L1126.2 788.16 L1126.7 788.00 L1127.2 788.13 L1127.7 788.71 L1128.2 788.74 L1128.7 788.95 L1129.2 788.46 L1129.7 788.54 L1130.2 789.10 L1130.7 788.61 L1131.2 789.16 L1131.7 789.18 L1132.2 789.09 L1132.7 788.99 L1133.2 788.99 L1133.7 789.10 L1134.2 789.25 L1134.7 789.61 L1135.2 789.64 L1135.7 789.54 L1136.2 789.09 L1136.7 789.67 L1137.2 789.64 L1137.7 789.23 L1138.2 789.26 L1138.7 789.41 L1139.2 789.37 L1139.7 789.84 L1140.2 789.55 L1140.7 789.92 L1141.2 789.70 L1141.7 789.43 L1142.2 789.71 L1142.7 789.90 L1143.2 789.54 L1143.7 789.74 L1144.2 789.48 L1144.7 789.64 L1145.2 790.12 L1145.7 789.90 L1146.2 789.65 L1146.7 789.63 L1147.2 789.68 L1147.7 789.55 L1148.2 790.00 L1148.7 789.79 L1149.2 789.79 L1149.7 789.74 L1150.2 790.23 L1150.7 789.64 L1151.2 790.14 L1151.7 789.82 L1152.2 789.86 L1152.7 789.95 L1153.2 790.09 L1153.7 790.24 L1154.2 790.34 L1154.7 789.96 L1155.2 790.04 L1155.7 790.25 L1156.2 789.90 L1156.7 790.05 L1157.2 790.04 L1157.7 790.29 L1158.2 790.01 L1158.7 790.17 L1159.2 789.90 L1159.7 789.87 L1160.2 789.84 L1160.7 790.29 L1161.2 790.02 L1161.7 789.85 L1162.2 790.33 L1162.7 790.11 L1163.2 790.30 L1163.7 790.37 L1164.2 790.08 L1164.7 789.83 L1165.2 789.77 L1165.7 790.22 L1166.2 790.27 L1166.7 789.79 L1167.2 789.71 L1167.7 789.88 L1168.2 789.96 L1168.7 790.19 L1169.2 789.67 L1169.7 789.68 L1170.2 789.82 L1170.7 789.86 L1171.2 789.77 L1171.7 789.70 L1172.2 790.07 L1172.7 789.71 L1173.2 789.65 L1173.7 789.93 L1174.2 789.94 L1174.7 789.83 L1175.2 789.70 L1175.7 789.80 L1176.2 789.39 L1176.7 789.32 L1177.2 789.57 L1177.7 789.32 L1178.2 789.42 L1178.7 789.20 L1179.2 788.59 L1179.7 788.90 L1180.2 788.74 L1180.7 788.62 L1181.2 788.42 L1181.7 788.12 L1182.2 787.87 L1182.7 787.02 L1183.2 786.66 L1183.7 786.53 L1184.2 785.64 L1184.7 785.06 L1185.2 784.51 L1185.7 783.67 L1186.2 783.17 L1186.7 782.05 L1187.2 780.38 L1187.7 779.17 L1188.2 777.81 L1188.7 776.50 L1189.2 774.96 L1189.7 773.68 L1190.2 772.05 L1190.7 771.80 L1191.2 771.86 L1191.7 772.20 L1192.2 773.24 L1192.7 774.74 L1193.2 775.90 L1193.7 777.62 L1194.2 779.07 L1194.7 780.52 L1195.2 781.39 L1195.7 782.84 L1196.2 783.50 L1196.7 784.89 L1197.2 785.04 L1197.7 785.79 L1198.2 786.72 L1198.7 786.76 L1199.2 787.16 L1199.7 787.57 L1200.2 787.70 L1200.7 788.50 L1201.2 788.53 L1201.7 788.42 L1202.2 788.98 L1202.7 789.17 L1203.2 789.14 L1203.7 789.44 L1204.2 789.69 L1204.7 789.23 L1205.2 789.74 L1205.7 789.43 L1206.2 790.04 L1206.7 789.77 L1207.2 790.14 L1207.7 789.68 L1208.2 790.33 L1208.7 790.03 L1209.2 790.20 L1209.7 789.95 L1210.2 790.27 L1210.7 790.35 L1211.2 790.54 L1211.7 790.07 L1212.2 790.37 L1212.7 790.67 L1213.2 790.64 L1213.7 790.24 L1214.2 790.21 L1214.7 790.13 L1215.2 790.24 L1215.7 790.78 L1216.2 790.17 L1216.7 790.46 L1217.2 790.75 L1217.7 790.79 L1218.2 790.41 L1218.7 790.65 L1219.2 790.78 L1219.7 790.42 L1220.2 790.77 L1220.7 790.37 L1221.2 790.43 L1221.7 790.72 L1222.2 790.57 L1222.7 790.61 L1223.2 790.77 L1223.7 790.87 L1224.2 790.57 L1224.7 790.41 L1225.2 790.91 L1225.7 790.93 L1226.2 790.71 L1226.7 790.69 L1227.2 790.92 L1227.7 790.72 L1228.2 790.70 L1228.7 791.00 L1229.2 790.78 L1229.7 791.03 L1230.2 790.54 L1230.7 791.07 L1231.2 790.74 L1231.7 790.70 L1232.2 790.89 L1232.7 790.78 L1233.2 790.92 L1233.7 790.73 L1234.2 790.61 L1234.7 790.58 L1235.2 790.81 L1235.7 790.75 L1236.2 791.07 L1236.7 791.05 L1237.2 791.01 L1237.7 791.06 L1238.2 791.12 L1238.7 791.02 L1239.2 790.55 L1239.7 790.69 L1240.2 790.81 L1240.7 791.13 L1241.2 790.95 L1241.7 790.83 L1242.2 791.06 L1242.7 790.53 L1243.2 790.51 L1243.7 791.12 L1244.2 791.05 L1244.7 790.88 L1245.2 790.94 L1245.7 791.16 L1246.2 790.92 L1246.7 791.18 L1247.2 790.82 L1247.7 791.18 L1248.2 790.90 L1248.7 790.94 L1249.2 790.92 L1249.7 790.86 L1250.2 790.69 L1250.7 790.67 L1251.2 790.97 L1251.7 790.96 L1252.2 790.94 L1252.7 791.07 L1253.2 790.99 L1253.7 790.62 L1254.2 790.91 L1254.7 790.81 L1255.2 790.80 L1255.7 790.87 L1256.2 791.09 L1256.7 791.12 L1257.2 791.00 L1257.7 790.65 L1258.2 791.16 L1258.7 790.74 L1259.2 790.89 L1259.7 790.66 L1260.2 790.86 L1260.7 790.90 L1261.2 791.02 L1261.7 791.08 L1262.2 790.60 L1262.7 791.16 L1263.2 791.17 L1263.7 791.19 L1264.2 790.74 L1264.7 790.95 L1265.2 791.23 L1265.7 790.80 L1266.2 790.74 L1266.7 791.20 L1267.2 790.94 L1267.7 791.04 L1268.2 790.89 L1268.7 790.97 L1269.2 791.12 L1269.7 791.02 L1270.2 791.22 L1270.7 791.05 L1271.2 790.63 L1271.7 791.23 L1272.2 791.21 L1272.7 791.20 L1273.2 790.65 L1273.7 790.86 L1274.2 790.97 L1274.7 790.93 L1275.2 790.83 L1275.7 791.08 L1276.2 791.00 L1276.7 790.90 L1277.2 790.94 L1277.7 791.16 L1278.2 790.96 L1278.7 790.64 L1279.2 791.13 L1279.7 791.03 L1280.2 791.25 L1280.7 791.02 L1281.2 791.06 L1281.7 791.13 L1282.2 791.05 L1282.7 790.90 L1283.2 790.94 L1283.7 790.76 L1284.2 790.84 L1284.7 791.28 L1285.2 790.87 L1285.7 791.10 L1286.2 791.23 L1286.7 791.22 L1287.2 790.98 L1287.7 791.07 L1288.2 790.66 L1288.7 791.21 L1289.2 791.00 L1289.7 790.73 L1290.2 790.72 L1290.7 790.75 L1291.2 791.06 L1291.7 790.74 L1292.2 790.80 L1292.7 790.64 L1293.2 791.03 L1293.7 790.87 L1294.2 790.84 L1294.7 791.27 L1295.2 791.16 L1295.7 790.94 L1296.2 790.74 L1296.7 790.78 L1297.2 791.05 L1297.7 790.73 L1298.2 790.76 L1298.7 791.06 L1299.2 790.85 L1299.7 791.12 L1300.2 790.81 L1300.7 790.72 L1301.2 791.09 L1301.7 790.70 L1302.2 790.98 L1302.7 790.94 L1303.2 790.61 L1303.7 790.62 L1304.2 790.68 L1304.7 790.87 L1305.2 791.18 L1305.7 790.90 L1306.2 790.83 L1306.7 790.60 L1307.2 791.09 L1307.7 791.03 L1308.2 791.04 L1308.7 790.56 L1309.2 790.83 L1309.7 790.60 L1310.2 790.88 L1310.7 791.09 L1311.2 790.73 L1311.7 791.04 L1312.2 791.05 L1312.7 790.79 L1313.2 790.95 L1313.7 790.80 L1314.2 790.69 L1314.7 790.95 L1315.2 790.74 L1315.7 790.55 L1316.2 790.82 L1316.7 790.46 L1317.2 790.39 L1317.7 790.67 L1318.2 790.49 L1318.7 790.20 L1319.2 790.60 L1319.7 790.49 L1320.2 789.96 L1320.7 790.23 L1321.2 790.25 L1321.7 790.04 L1322.2 789.93 L1322.7 789.90 L1323.2 789.86 L1323.7 789.36 L1324.2 789.12 L1324.7 788.87 L1325.2 788.78 L1325.7 788.58 L1326.2 788.76 L1326.7 788.53 L1327.2 788.35 L1327.7 787.58 L1328.2 787.85 L1328.7 787.65 L1329.2 786.71 L1329.7 786.94 L1330.2 786.15 L1330.7 786.18 L1331.2 785.36 L1331.7 785.41 L1332.2 784.99 L1332.7 784.09 L1333.2 784.00 L1333.7 783.07 L1334.2 782.63 L1334.7 782.46 L1335.2 782.04 L1335.7 781.29 L1336.2 781.13 L1336.7 780.64 L1337.2 779.71 L1337.7 779.74 L1338.2 779.34 L1338.7 778.68 L1339.2 778.54 L1339.7 777.63 L1340.2 777.65 L1340.7 777.03 L1341.2 776.77 L1341.7 776.55 L1342.2 777.03 L1342.7 776.60 L1343.2 776.51 L1343.7 776.92 L1344.2 776.65 L1344.7 777.31 L1345.2 777.54 L1345.7 777.74 L1346.2 777.73 L1346.7 778.21 L1347.2 778.84 L1347.7 778.74 L1348.2 779.77 L1348.7 779.96 L1349.2 780.71 L1349.7 780.66 L1350.2 781.51 L1350.7 782.22 L1351.2 782.46 L1351.7 783.08 L1352.2 783.44 L1352.7 784.13 L1353.2 784.02 L1353.7 785.09 L1354.2 785.17 L1354.7 785.53 L1355.2 785.72 L1355.7 786.52 L1356.2 786.93 L1356.7 787.31 L1357.2 787.32 L1357.7 787.80 L1358.2 788.21 L1358.7 788.50 L1359.2 788.63 L1359.7 789.02 L1360.2 789.16 L1360.7 789.37 L1361.2 789.28 L1361.7 789.59 L1362.2 789.41 L1362.7 789.53 L1363.2 789.72 L1363.7 789.98 L1364.2 789.99 L1364.7 790.01 L1365.2 790.09 L1365.7 790.29 L1366.2 790.85 L1366.7 790.70 L1367.2 790.65 L1367.7 790.60 L1368.2 790.95 L1368.7 790.57 L1369.2 790.97 L1369.7 790.82 L1370.2 790.65 L1370.7 790.82 L1371.2 790.74 L1371.7 790.79 L1372.2 791.13 L1372.7 791.32 L1373.2 791.30 L1373.7 791.20 L1374.2 791.11 L1374.7 791.22 L1375.2 791.25 L1375.7 791.15 L1376.2 791.26 L1376.7 791.02 L1377.2 791.10 L1377.7 791.45 L1378.2 791.48 L1378.7 791.55 L1379.2 791.18 L1379.7 791.16 L1380.2 791.29 L1380.7 791.27 L1381.2 791.59 L1381.7 791.27 L1382.2 791.11 L1382.7 791.59 L1383.2 791.69 L1383.7 791.54 L1384.2 791.48 L1384.7 791.30 L1385.2 791.29 L1385.7 791.41 L1386.2 791.50 L1386.7 791.41 L1387.2 791.17 L1387.7 791.52 L1388.2 791.21 L1388.7 791.72 L1389.2 791.84 L1389.7 791.85 L1390.2 791.42 L1390.7 791.26 L1391.2 791.33 L1391.7 791.48 L1392.2 791.71 L1392.7 791.72 L1393.2 791.64 L1393.7 791.55 L1394.2 791.91 L1394.7 791.68 L1395.2 791.72 L1395.7 791.33 L1396.2 791.61 L1396.7 791.73 L1397.2 791.86 L1397.7 791.54 L1398.2 791.43 L1398.7 791.64 L1399.2 791.96 L1399.7 791.33 L1400.2 791.57 L1400.7 791.74 L1401.2 791.75 L1401.7 791.57 L1402.2 791.64 L1402.7 791.71 L1403.2 791.45 L1403.7 791.46 L1404.2 791.38 L1404.7 791.76 L1405.2 791.52 L1405.7 791.74 L1406.2 791.89 L1406.7 791.73 L1407.2 791.66 L1407.7 791.75 L1408.2 791.84 L1408.7 791.76 L1409.2 791.60 L1409.7 791.88 L1410.2 791.76 L1410.7 791.57 L1411.2 791.51 L1411.7 791.50 L1412.2 791.74 L1412.7 792.02 L1413.2 791.52 L1413.7 791.45 L1414.2 791.80 L1414.7 791.89 L1415.2 791.75 L1415.7 792.07 L1416.2 792.10 L1416.7 791.70 L1417.2 791.55 L1417.7 791.55 L1418.2 791.92 L1418.7 791.79 L1419.2 791.64 L1419.7 792.05 L1420.2 791.52 L1420.7 791.52 L1421.2 791.94 L1421.7 791.60 L1422.2 791.62 L1422.7 792.11 L1423.2 791.57 L1423.7 791.56 L1424.2 792.15 L1424.7 791.56 L1425.2 791.65 L1425.7 791.62 L1426.2 791.72 L1426.7 791.98 L1427.2 791.67 L1427.7 791.82 L1428.2 791.67 L1428.7 791.84 L1429.2 792.05 L1429.7 791.57 L1430.2 791.61 L1430.7 791.98 L1431.2 791.66 L1431.7 791.57 L1432.2 791.66 L1432.7 791.84 L1433.2 791.87 L1433.7 792.01 L1434.2 791.95 L1434.7 791.94 L1435.2 791.74 L1435.7 791.88 L1436.2 791.66 L1436.7 792.01 L1437.2 791.81 L1437.7 791.95 L1438.2 791.51 L1438.7 792.08 L1439.2 792.04 L1439.7 792.09 L1440.2 791.74 L1440.7 791.73 L1441.2 791.94 L1441.7 791.60 L1442.2 791.71 L1442.7 791.47 L1443.2 791.51 L1443.7 792.04 L1444.2 791.63 L1444.7 792.06 L1445.2 791.82 L1445.7 791.77 L1446.2 791.42 L1446.7 791.84 L1447.2 791.44 L1447.7 791.58 L1448.2 791.70 L1448.7 791.74 L1449.2 791.39 L1449.7 791.60 L1450.2 791.86 L1450.7 791.60 L1451.2 791.74 L1451.7 791.98 L1452.2 791.68 L1452.7 791.67 L1453.2 791.69 L1453.7 791.48 L1454.2 791.94 L1454.7 791.70 L1455.2 791.85 L1455.7 791.59 L1456.2 791.44 L1456.7 791.55 L1457.2 791.38 L1457.7 791.29 L1458.2 791.40 L1458.7 791.79 L1459.2 791.68 L1459.7 791.23 L1460.2 791.35 L1460.7 791.64 L1461.2 791.39 L1461.7 791.22 L1462.2 791.71 L1462.7 791.55 L1463.2 791.57 L1463.7 791.56 L1464.2 791.58 L1464.7 791.48 L1465.2 791.22 L1465.7 791.62 L1466.2 791.32 L1466.7 791.50 L1467.2 790.95 L1467.7 791.07 L1468.2 790.95 L1468.7 791.24 L1469.2 791.35 L1469.7 791.00 L1470.2 791.08 L1470.7 790.78 L1471.2 791.07 L1471.7 790.48 L1472.2 790.61 L1472.7 790.23 L1473.2 790.46 L1473.7 789.97 L1474.2 789.53 L1474.7 789.62 L1475.2 788.98 L1475.7 788.56 L1476.2 788.02 L1476.7 787.66 L1477.2 787.09 L1477.7 786.56 L1478.2 786.11 L1478.7 785.22 L1479.2 784.87 L1479.7 784.26 L1480.2 783.86 L1480.7 783.14 L1481.2 783.21 L1481.7 782.90 L1482.2 782.76 L1482.7 783.13 L1483.2 783.28 L1483.7 783.33 L1484.2 783.87 L1484.7 784.00 L1485.2 783.83 L1485.7 784.09 L1486.2 784.22 L1486.7 784.58 L1487.2 784.31 L1487.7 784.70 L1488.2 784.41 L1488.7 784.11 L1489.2 784.37 L1489.7 783.91 L1490.2 783.94 L1490.7 783.84 L1491.2 783.58 L1491.7 783.50 L1492.2 783.67 L1492.7 783.50 L1493.2 783.38 L1493.7 783.63 L1494.2 783.22 L1494.7 783.24 L1495.2 783.08 L1495.7 783.42 L1496.2 783.39 L1496.7 783.23 L1497.2 782.56 L1497.7 782.72 L1498.2 782.42 L1498.7 782.07 L1499.2 781.60 L1499.7 781.78 L1500.2 781.37 L1500.7 780.89 L1501.2 780.33 L1501.7 779.57 L1502.2 779.05 L1502.7 778.66 L1503.2 778.04 L1503.7 777.16 L1504.2 776.33 L1504.7 775.77 L1505.2 775.28 L1505.7 774.48 L1506.2 773.70 L1506.7 773.10 L1507.2 772.83 L1507.7 771.95 L1508.2 771.44 L1508.7 770.64 L1509.2 770.21 L1509.7 770.05 L1510.2 769.50 L1510.7 769.21 L1511.2 768.98 L1511.7 768.43 L1512.2 768.76 L1512.7 768.93 L1513.2 768.98 L1513.7 768.58 L1514.2 768.85 L1514.7 769.54 L1515.2 769.47 L1515.7 769.84 L1516.2 770.42 L1516.7 771.15 L1517.2 771.61 L1517.7 772.38 L1518.2 772.76 L1518.7 773.45 L1519.2 774.30 L1519.7 774.78 L1520.2 775.18 L1520.7 776.18 L1521.2 777.12 L1521.7 777.69 L1522.2 777.88 L1522.7 778.68 L1523.2 779.27 L1523.7 780.19 L1524.2 781.10 L1524.7 781.63 L1525.2 781.79 L1525.7 782.90 L1526.2 783.31 L1526.7 783.75 L1527.2 784.00 L1527.7 784.61 L1528.2 785.05 L1528.7 785.33 L1529.2 786.12 L1529.7 786.48 L1530.2 786.35 L1530.7 787.13 L1531.2 787.28 L1531.7 787.24 L1532.2 787.48 L1532.7 788.13 L1533.2 788.39 L1533.7 788.27 L1534.2 788.12 L1534.7 788.56 L1535.2 788.55 L1535.7 788.99 L1536.2 789.16 L1536.7 789.20 L1537.2 789.19 L1537.7 789.46 L1538.2 789.11 L1538.7 789.02 L1539.2 789.27 L1539.7 789.09 L1540.2 789.56 L1540.7 789.11 L1541.2 789.17 L1541.7 788.90 L1542.2 788.91 L1542.7 789.22 L1543.2 789.03 L1543.7 789.25 L1544.2 788.95 L1544.7 788.56 L1545.2 788.41 L1545.7 788.31 L1546.2 788.22 L1546.7 788.37 L1547.2 788.04 L1547.7 787.85 L1548.2 788.11 L1548.7 787.98 L1549.2 787.47 L1549.7 787.47 L1550.2 787.28 L1550.7 786.99 L1551.2 786.70 L1551.7 786.57 L1552.2 786.12 L1552.7 785.85 L1553.2 785.67 L1553.7 785.06 L1554.2 785.06 L1554.7 784.84 L1555.2 784.38 L1555.7 783.58 L1556.2 783.47 L1556.7 783.10 L1557.2 782.67 L1557.7 782.54 L1558.2 782.16 L1558.7 781.73 L1559.2 781.25 L1559.7 780.58 L1560.2 780.47 L1560.7 779.89 L1561.2 779.36 L1561.7 779.05 L1562.2 778.60 L1562.7 778.48 L1563.2 778.10 L1563.7 777.39 L1564.2 776.97 L1564.7 777.05 L1565.2 776.57 L1565.7 776.45 L1566.2 775.87 L1566.7 775.48 L1567.2 775.63 L1567.7 775.41 L1568.2 775.10 L1568.7 775.01 L1569.2 775.27 L1569.7 775.01 L1570.2 774.96 L1570.7 774.75 L1571.2 774.81 L1571.7 775.24 L1572.2 775.38 L1572.7 775.48 L1573.2 775.99 L1573.7 776.02 L1574.2 776.63 L1574.7 776.68 L1575.2 776.77 L1575.7 777.32 L1576.2 777.34 L1576.7 778.02 L1577.2 778.05 L1577.7 779.05 L1578.2 779.24 L1578.7 779.69 L1579.2 779.83 L1579.7 780.55 L1580.2 780.74 L1580.7 781.12 L1581.2 781.78 L1581.7 782.24 L1582.2 782.72 L1582.7 782.63 L1583.2 783.07 L1583.7 783.76 L1584.2 783.84 L1584.7 784.46 L1585.2 784.67 L1585.7 785.43 L1586.2 785.54 L1586.7 786.02 L1587.2 786.28 L1587.7 786.28 L1588.2 786.73 L1588.7 787.18 L1589.2 787.46 L1589.7 787.91 L1590.2 787.52 L1590.7 787.85 L1591.2 788.28 L1591.7 788.64 L1592.2 788.99 L1592.7 789.11 L1593.2 788.98 L1593.7 789.21 L1594.2 789.46 L1594.7 789.65 L1595.2 789.53 L1595.7 789.84 L1596.2 789.64 L1596.7 790.20 L1597.2 790.02 L1597.7 790.49 L1598.2 790.60 L1598.7 790.24 L1599.2 790.71 L1599.7 790.44 L1600.2 790.36 L1600.7 790.96 L1601.2 790.80 L1601.7 790.61 L1602.2 790.89 L1602.7 791.10 L1603.2 791.32 L1603.7 790.87 L1604.2 791.25 L1604.7 791.00 L1605.2 790.91 L1605.7 791.12 L1606.2 791.38 L1606.7 790.94 L1607.2 791.38 L1607.7 791.04 L1608.2 791.65 L1608.7 791.43 L1609.2 791.34 L1609.7 791.27 L1610.2 791.51 L1610.7 791.26 L1611.2 791.77 L1611.7 791.66 L1612.2 791.32 L1612.7 791.21 L1613.2 791.56 L1613.7 791.31 L1614.2 791.67 L1614.7 791.83 L1615.2 791.79 L1615.7 791.42 L1616.2 791.66 L1616.7 791.85 L1617.2 791.90 L1617.7 791.62 L1618.2 791.42 L1618.7 791.56 L1619.2 791.57 L1619.7 791.73 L1620.2 791.38 L1620.7 791.52 L1621.2 791.82 L1621.7 791.70 L1622.2 792.08 L1622.7 791.53 L1623.2 791.96 L1623.7 791.94 L1624.2 791.65 L1624.7 791.67 L1625.2 791.63 L1625.7 792.03 L1626.2 791.53 L1626.7 791.63 L1627.2 791.97 L1627.7 791.89 L1628.2 792.08 L1628.7 791.60 L1629.2 791.91 L1629.7 791.89 L1630.2 791.93 L1630.7 791.84 L1631.2 792.20 L1631.7 792.03 L1632.2 791.93 L1632.7 791.64 L1633.2 792.20 L1633.7 791.84 L1634.2 791.64 L1634.7 791.64 L1635.2 791.66 L1635.7 792.04 L1636.2 791.99 L1636.7 792.12 L1637.2 792.02 L1637.7 792.01 L1638.2 791.89 L1638.7 792.01 L1639.2 792.18 L1639.7 791.68 L1640.2 792.15 L1640.7 791.69 L1641.2 792.29 L1641.7 791.65 L1642.2 791.97 L1642.7 791.65 L1643.2 791.85 L1643.7 792.12 L1644.2 791.83 L1644.7 792.00 L1645.2 791.86 L1645.7 792.15 L1646.2 791.99 L1646.7 792.13 L1647.2 792.02 L1647.7 792.25 L1648.2 791.68 L1648.7 792.16 L1649.2 792.24 L1649.7 792.09 L1650.2 792.22 L1650.7 791.75 L1651.2 791.81 L1651.7 792.31 L1652.2 792.05 L1652.7 791.72 L1653.2 791.96 L1653.7 791.74 L1654.2 791.73 L1654.7 792.19 L1655.2 792.00 L1655.7 791.87 L1656.2 791.94 L1656.7 791.92 L1657.2 791.87 L1657.7 792.09 L1658.2 791.74 L1658.7 792.17 L1659.2 792.35 L1659.7 792.27 L1660.2 792.04 L1660.7 791.76 L1661.2 792.29 L1661.7 792.14 L1662.2 792.18 L1662.7 792.31 L1663.2 791.95 L1663.7 791.88 L1664.2 792.18 L1664.7 791.75 L1665.2 791.97 L1665.7 792.14 L1666.2 791.76 L1666.7 791.85 L1667.2 792.23 L1667.7 792.03 L1668.2 792.27 L1668.7 791.97 L1669.2 791.81 L1669.7 792.14 L1670.2 792.04 L1670.7 791.99 L1671.2 791.78 L1671.7 792.38 L1672.2 792.12 L1672.7 791.86 L1673.2 791.78 L1673.7 792.14 L1674.2 792.22 L1674.7 791.86 L1675.2 792.35 L1675.7 792.01 L1676.2 791.93 L1676.7 792.31 L1677.2 792.05 L1677.7 792.26 L1678.2 792.30 L1678.7 791.83 L1679.2 791.82 L1679.7 791.82 L1680.2 792.26 L1680.7 791.90 L1681.2 792.38 L1681.7 791.78 L1682.2 791.86 L1682.7 792.19 L1683.2 792.11 L1683.7 792.17 L1684.2 792.40 L1684.7 792.28 L1685.2 792.37 L1685.7 791.84 L1686.2 791.80 L1686.7 791.90 L1687.2 792.39 L1687.7 791.78 L1688.2 791.95 L1688.7 792.18 L1689.2 791.92 L1689.7 791.91 L1690.2 792.32 L1690.7 792.05 L1691.2 792.04 L1691.7 792.16 L1692.2 792.34 L1692.7 791.90 L1693.2 791.99 L1693.7 791.76 L1694.2 792.31 L1694.7 791.85 L1695.2 792.22 L1695.7 792.10 L1696.2 792.41 L1696.7 792.01 L1697.2 792.25 L1697.7 792.34 L1698.2 791.98 L1698.7 792.30 L1699.2 791.95 L1699.7 791.92 L1700.2 791.97 L1700.7 792.04 L1701.2 792.10 L1701.7 792.23 L1702.2 791.89 L1702.7 791.91 L1703.2 791.96 L1703.7 792.25 L1704.2 791.82 L1704.7 791.74 L1705.2 792.18 L1705.7 792.25 L1706.2 792.28 L1706.7 792.19 L1707.2 791.90 L1707.7 791.88 L1708.2 792.09 L1708.7 791.76 L1709.2 792.15 L1709.7 792.23 L1710.2 791.77 L1710.7 791.78 L1711.2 791.85 L1711.7 792.13 L1712.2 792.11 L1712.7 792.20 L1713.2 792.29 L1713.7 791.70 L1714.2 792.34 L1714.7 792.05 L1715.2 791.84 L1715.7 791.81 L1716.2 792.30 L1716.7 791.83 L1717.2 792.29 L1717.7 791.94 L1718.2 792.01 L1718.7 791.92 L1719.2 792.16 L1719.7 791.74 L1720.2 792.02 L1720.7 791.76 L1721.2 792.03 L1721.7 791.93 L1722.2 791.79 L1722.7 792.14 L1723.2 791.68 L1723.7 791.74 L1724.2 792.11 L1724.7 792.17 L1725.2 791.66 L1725.7 791.83 L1726.2 792.06 L1726.7 791.83 L1727.2 792.13 L1727.7 792.10 L1728.2 792.02 L1728.7 791.63 L1729.2 791.62 L1729.7 792.08 L1730.2 792.16 L1730.7 791.58 L1731.2 791.93 L1731.7 792.14 L1732.2 791.87 L1732.7 792.18 L1733.2 791.83 L1733.7 791.98 L1734.2 791.84 L1734.7 792.10 L1735.2 791.51 L1735.7 791.80 L1736.2 791.47 L1736.7 791.59 L1737.2 792.05 L1737.7 791.64 L1738.2 791.80 L1738.7 791.58 L1739.2 791.88 L1739.7 791.39 L1740.2 791.43 L1740.7 791.71 L1741.2 791.96 L1741.7 791.71 L1742.2 791.82 L1742.7 791.34 L1743.2 791.43 L1743.7 791.78 L1744.2 791.26 L1744.7 791.59 L1745.2 791.76 L1745.7 791.75 L1746.2 791.40 L1746.7 791.26 L1747.2 791.47 L1747.7 791.61 L1748.2 791.18 L1748.7 791.16 L1749.2 791.47 L1749.7 791.09 L1750.2 791.30 L1750.7 791.49 L1751.2 791.44 L1751.7 791.07 L1752.2 791.24 L1752.7 791.12 L1753.2 790.93 L1753.7 790.98 L1754.2 790.64 L1754.7 790.61 L1755.2 790.69 L1755.7 790.35 L1756.2 790.57 L1756.7 790.56 L1757.2 790.61 L1757.7 790.05 L1758.2 790.14 L1758.7 790.33 L1759.2 789.93 L1759.7 789.69 L1760.2 789.44 L1760.7 789.43 L1761.2 789.59 L1761.7 789.18 L1762.2 789.33 L1762.7 788.92 L1763.2 788.71 L1763.7 788.72 L1764.2 788.35 L1764.7 788.27 L1765.2 788.05 L1765.7 787.40 L1766.2 787.34 L1766.7 787.03 L1767.2 786.75 L1767.7 786.70 L1768.2 786.11 L1768.7 785.85 L1769.2 785.67 L1769.7 785.13 L1770.2 785.03 L1770.7 784.71 L1771.2 783.97 L1771.7 783.51 L1772.2 783.26 L1772.7 783.25 L1773.2 782.63 L1773.7 781.91 L1774.2 781.46 L1774.7 781.24 L1775.2 780.70 L1775.7 780.25 L1776.2 780.16 L1776.7 779.75 L1777.2 779.11 L1777.7 779.17 L1778.2 778.33 L1778.7 778.00 L1779.2 777.66 L1779.7 777.22 L1780.2 777.03 L1780.7 776.55 L1781.2 776.13 L1781.7 776.41 L1782.2 775.92 L1782.7 775.95 L1783.2 775.23 L1783.7 775.08 L1784.2 775.51 L1784.7 775.32 L1785.2 775.25 L1785.7 774.82 L1786.2 774.75 L1786.7 774.81 L1787.2 774.91 L1787.7 775.58 L1788.2 775.22 L1788.7 775.85 L1789.2 775.85 L1789.7 776.09 L1790.2 775.99 L1790.7 776.56 L1791.2 777.10 L1791.7 777.52 L1792.2 777.48 L1792.7 778.24 L1793.2 778.14 L1793.7 778.79 L1794.2 779.25 L1794.7 779.60 L1795.2 780.00 L1795.7 780.30 L1796.2 780.62 L1796.7 781.25 L1797.2 781.88 L1797.7 782.17 L1798.2 782.57 L1798.7 783.01 L1799.2 783.32 L1799.7 783.43 L1800.2 783.78 L1800.7 784.13 L1801.2 784.57 L1801.7 784.81 L1802.2 785.31 L1802.7 785.67 L1803.2 786.24 L1803.7 786.68 L1804.2 786.64 L1804.7 787.13 L1805.2 787.54 L1805.7 787.24 L1806.2 787.99 L1806.7 788.21 L1807.2 787.89 L1807.7 788.70 L1808.2 788.79 L1808.7 788.69 L1809.2 788.83 L1809.7 789.41 L1810.2 789.31 L1810.7 789.53 L1811.2 789.88 L1811.7 789.84 L1812.2 789.61 L1812.7 790.05 L1813.2 790.07 L1813.7 790.07 L1814.2 790.25 L1814.7 790.50 L1815.2 790.25 L1815.7 790.41 L1816.2 790.88 L1816.7 791.14 L1817.2 790.89 L1817.7 790.91 L1818.2 791.13 L1818.7 791.32 L1819.2 791.38" fill="none" stroke="#000000" stroke-width="3.2" stroke-linejoin="round"/>
<g stroke="#000" stroke-width="4.6" fill="none" stroke-linecap="butt">
<path d="M197.2 61 V1250.2"/>
<path d="M184 1250.2 H1821.5"/>
<path d="M172.5 63.2 H197.2"/>
<path d="M172.5 158.2 H197.2"/>
<path d="M172.5 253.2 H197.2"/>
<path d="M172.5 348.2 H197.2"/>
<path d="M172.5 443.2 H197.2"/>
<path d="M172.5 538.2 H197.2"/>
<path d="M172.5 633.2 H197.2"/>
<path d="M172.5 728.2 H197.2"/>
<path d="M172.5 823.2 H197.2"/>
<path d="M172.5 918.2 H197.2"/>
<path d="M172.5 1013.2 H197.2"/>
<path d="M172.5 1108.2 H197.2"/>
<path d="M172.5 1203.2 H197.2"/>
<path d="M183.5 110.7 H197.2"/>
<path d="M183.5 205.7 H197.2"/>
<path d="M183.5 300.7 H197.2"/>
<path d="M183.5 395.7 H197.2"/>
<path d="M183.5 490.7 H197.2"/>
<path d="M183.5 585.7 H197.2"/>
<path d="M183.5 680.7 H197.2"/>
<path d="M183.5 775.7 H197.2"/>
<path d="M183.5 870.7 H197.2"/>
<path d="M183.5 965.7 H197.2"/>
<path d="M183.5 1060.7 H197.2"/>
<path d="M183.5 1155.7 H197.2"/>
<path d="M197.2 1250 V1275.5"/>
<path d="M428.9 1250 V1275.5"/>
<path d="M660.6 1250 V1275.5"/>
<path d="M892.4 1250 V1275.5"/>
<path d="M1124.1 1250 V1275.5"/>
<path d="M1355.8 1250 V1275.5"/>
<path d="M1587.5 1250 V1275.5"/>
<path d="M1819.2 1250 V1275.5"/>
<path d="M313.1 1250 V1264.5"/>
<path d="M544.8 1250 V1264.5"/>
<path d="M776.5 1250 V1264.5"/>
<path d="M1008.2 1250 V1264.5"/>
<path d="M1239.9 1250 V1264.5"/>
<path d="M1471.7 1250 V1264.5"/>
<path d="M1703.4 1250 V1264.5"/>
</g>
<text transform="translate(196.4 1326.0) scale(0.961 1)" font-size="49.7" text-anchor="middle" fill="#000">20</text>
<text transform="translate(428.1 1326.0) scale(0.961 1)" font-size="49.7" text-anchor="middle" fill="#000">30</text>
<text transform="translate(659.8 1326.0) scale(0.961 1)" font-size="49.7" text-anchor="middle" fill="#000">40</text>
<text transform="translate(891.6 1326.0) scale(0.961 1)" font-size="49.7" text-anchor="middle" fill="#000">50</text>
<text transform="translate(1123.3 1326.0) scale(0.961 1)" font-size="49.7" text-anchor="middle" fill="#000">60</text>
<text transform="translate(1355.0 1326.0) scale(0.961 1)" font-size="49.7" text-anchor="middle" fill="#000">70</text>
<text transform="translate(1586.7 1326.0) scale(0.961 1)" font-size="49.7" text-anchor="middle" fill="#000">80</text>
<text transform="translate(1818.4 1326.0) scale(0.961 1)" font-size="49.7" text-anchor="middle" fill="#000">90</text>
<text transform="translate(1007.0 1417.6) scale(0.961 1)" font-size="58.8" text-anchor="middle" fill="#000">2 theta</text>
<text transform="translate(100.9 692.7) rotate(-90) scale(0.961 1)" font-size="59.3" text-anchor="middle" fill="#000">Intensity (Arb. Units)</text>
<rect x="384.5" y="58.7" width="20.6" height="22.2" fill="#0000ff"/>
<rect x="490.7" y="297.2" width="20.6" height="22.2" fill="#0000ff"/>
<rect x="825.7" y="226.3" width="20.6" height="22.2" fill="#0000ff"/>
<rect x="1032.5" y="269.4" width="20.6" height="22.2" fill="#0000ff"/>
<rect x="1096.2" y="373.6" width="20.6" height="22.2" fill="#0000ff"/>
<rect x="1333.6" y="370.6" width="20.6" height="22.2" fill="#0000ff"/>
<rect x="1502.6" y="361.2" width="20.6" height="22.2" fill="#0000ff"/>
<rect x="1776.1" y="371.6" width="20.6" height="22.2" fill="#0000ff"/>
<ellipse cx="598.4" cy="386.1" rx="8.0" ry="9.1" fill="none" stroke="#0000ff" stroke-width="1.9"/>
<ellipse cx="738.6" cy="377.4" rx="8.0" ry="9.1" fill="none" stroke="#0000ff" stroke-width="1.9"/>
<ellipse cx="1192.2" cy="392.3" rx="8.0" ry="9.1" fill="none" stroke="#0000ff" stroke-width="1.9"/>
<ellipse cx="1478.1" cy="393.5" rx="8.0" ry="9.1" fill="none" stroke="#0000ff" stroke-width="1.9"/>
<ellipse cx="1567.6" cy="377.1" rx="8.0" ry="9.1" fill="none" stroke="#0000ff" stroke-width="1.9"/>
<rect x="387.2" y="434.4" width="20.6" height="22.2" fill="#ff0000"/>
<rect x="492.6" y="617.8" width="20.6" height="22.2" fill="#ff0000"/>
<rect x="828.2" y="565.6" width="20.6" height="22.2" fill="#ff0000"/>
<rect x="1034.0" y="594.5" width="20.6" height="22.2" fill="#ff0000"/>
<rect x="1094.8" y="668.3" width="20.6" height="22.2" fill="#ff0000"/>
<rect x="1334.7" y="668.3" width="20.6" height="22.2" fill="#ff0000"/>
<rect x="1504.6" y="652.5" width="20.6" height="22.2" fill="#ff0000"/>
<rect x="1778.1" y="660.1" width="20.6" height="22.2" fill="#ff0000"/>
<ellipse cx="599.7" cy="685.3" rx="8.0" ry="9.1" fill="none" stroke="#ff0000" stroke-width="1.9"/>
<ellipse cx="738.7" cy="685.3" rx="8.0" ry="9.1" fill="none" stroke="#ff0000" stroke-width="1.9"/>
<ellipse cx="1192.2" cy="683.8" rx="8.0" ry="9.1" fill="none" stroke="#ff0000" stroke-width="1.9"/>
<ellipse cx="1483.6" cy="676.5" rx="8.0" ry="9.1" fill="none" stroke="#ff0000" stroke-width="1.9"/>
<ellipse cx="1569.7" cy="678.2" rx="8.0" ry="9.1" fill="none" stroke="#ff0000" stroke-width="1.9"/>
<rect x="387.0" y="725.4" width="20.6" height="22.2" fill="#000000"/>
<rect x="490.8" y="1025.8" width="20.6" height="22.2" fill="#000000"/>
<rect x="825.7" y="970.9" width="20.6" height="22.2" fill="#000000"/>
<rect x="1031.0" y="1022.1" width="20.6" height="22.2" fill="#000000"/>
<rect x="1096.1" y="1130.2" width="20.6" height="22.2" fill="#000000"/>
<rect x="1337.1" y="1130.2" width="20.6" height="22.2" fill="#000000"/>
<rect x="1504.7" y="1118.1" width="20.6" height="22.2" fill="#000000"/>
<rect x="1777.9" y="1131.2" width="20.6" height="22.2" fill="#000000"/>
<ellipse cx="599.7" cy="1115.1" rx="8.0" ry="9.1" fill="none" stroke="#2a2a2a" stroke-width="1.9"/>
<ellipse cx="738.6" cy="1080.2" rx="8.0" ry="9.1" fill="none" stroke="#2a2a2a" stroke-width="1.9"/>
<ellipse cx="1198.0" cy="1137.2" rx="8.0" ry="9.1" fill="none" stroke="#2a2a2a" stroke-width="1.9"/>
<ellipse cx="1481.9" cy="1147.5" rx="8.0" ry="9.1" fill="none" stroke="#2a2a2a" stroke-width="1.9"/>
<ellipse cx="1571.8" cy="1140.7" rx="8.0" ry="9.1" fill="none" stroke="#2a2a2a" stroke-width="1.9"/>
<text transform="translate(1831.5 430.7) scale(0.961 1)" font-size="60.5" text-anchor="start" fill="#0000ff">NiCe (n)</text>
<text transform="translate(1826.5 715.0) scale(0.961 1)" font-size="60.4" text-anchor="start" fill="#ff0000">NiCe (c)</text>
<text transform="translate(1829.3 1186.7) scale(0.961 1)" font-size="60.4" text-anchor="start" fill="#000">NiCe (i)</text>
<rect x="943.8" y="67" width="21.4" height="22.6" fill="#7f7f7f"/>
<text transform="translate(973.5 101.0) scale(0.961 1)" font-size="60.2" text-anchor="start" fill="#7f7f7f">CeO<tspan font-size="37" dy="22" dx="-2.5">2</tspan></text>
<circle cx="1170.8" cy="81.8" r="9.3" fill="none" stroke="#a6a6a6" stroke-width="2.6"/>
<text transform="translate(1187.0 101.0) scale(0.961 1)" font-size="61.0" text-anchor="start" fill="#7f7f7f">NiO</text>
</g></svg></body></html>
